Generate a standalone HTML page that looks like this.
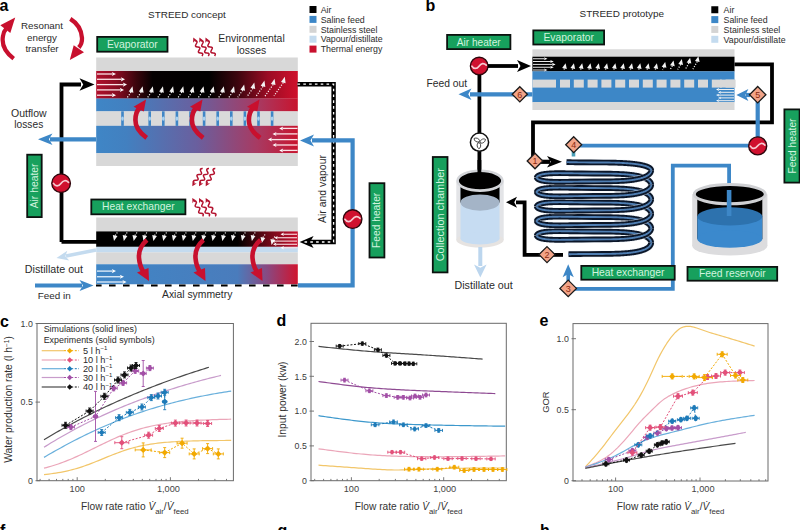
<!DOCTYPE html>
<html><head><meta charset="utf-8"><style>
html,body{margin:0;padding:0;background:#fff;width:800px;height:530px;overflow:hidden}
svg{display:block}
text{font-family:"Liberation Sans", sans-serif}
</style></head><body>
<svg width="800" height="530" viewBox="0 0 800 530" font-family='"Liberation Sans", sans-serif'><defs>
<linearGradient id="airA" x1="96" x2="298" y1="0" y2="0" gradientUnits="userSpaceOnUse">
 <stop offset="0" stop-color="#b0102c"/><stop offset="0.1" stop-color="#8a0c22"/><stop offset="0.2" stop-color="#3a050c"/><stop offset="0.28" stop-color="#050001"/>
 <stop offset="0.56" stop-color="#000"/><stop offset="0.7" stop-color="#3c050e"/><stop offset="0.85" stop-color="#9a0c24"/><stop offset="1" stop-color="#d0102c"/>
</linearGradient>
<linearGradient id="feedA" x1="96" x2="298" y1="0" y2="0" gradientUnits="userSpaceOnUse">
 <stop offset="0" stop-color="#3f86c6"/><stop offset="0.15" stop-color="#4280c0"/><stop offset="0.5" stop-color="#6a5f9e"/>
 <stop offset="0.8" stop-color="#a83a62"/><stop offset="1" stop-color="#c8142e"/>
</linearGradient>
<linearGradient id="airHX" x1="96" x2="298" y1="0" y2="0" gradientUnits="userSpaceOnUse">
 <stop offset="0" stop-color="#000"/><stop offset="0.7" stop-color="#000"/><stop offset="0.85" stop-color="#6a0816"/><stop offset="1" stop-color="#c8102e"/>
</linearGradient>
<linearGradient id="feedHX" x1="96" x2="298" y1="0" y2="0" gradientUnits="userSpaceOnUse">
 <stop offset="0" stop-color="#3f86c6"/><stop offset="0.7" stop-color="#4a7cbc"/><stop offset="0.85" stop-color="#8a4880"/><stop offset="1" stop-color="#d0142e"/>
</linearGradient>
</defs><rect width="800" height="530" fill="#fff"/><text x="-0.5" y="11.3" font-size="16" font-weight="bold" fill="#000">a</text>
<text x="148" y="17.5" font-size="9.95" text-anchor="start" fill="#2b2b2b" font-weight="normal" >STREED concept</text>
<rect x="309.5" y="6.0" width="7" height="7" fill="#000"/>
<text x="320.7" y="12.7" font-size="8.8" text-anchor="start" fill="#2b2b2b" font-weight="normal" >Air</text>
<rect x="309.5" y="15.899999999999999" width="7" height="7" fill="#3d87c7"/>
<text x="320.7" y="22.599999999999998" font-size="8.8" text-anchor="start" fill="#2b2b2b" font-weight="normal" >Saline feed</text>
<rect x="309.5" y="25.8" width="7" height="7" fill="#d4d4d4"/>
<text x="320.7" y="32.5" font-size="8.8" text-anchor="start" fill="#2b2b2b" font-weight="normal" >Stainless steel</text>
<rect x="309.5" y="35.7" width="7" height="7" fill="#c4dbef"/>
<text x="320.7" y="42.400000000000006" font-size="8.8" text-anchor="start" fill="#2b2b2b" font-weight="normal" >Vapour/distillate</text>
<rect x="309.5" y="45.6" width="7" height="7" fill="#c8102e"/>
<text x="320.7" y="52.300000000000004" font-size="8.8" text-anchor="start" fill="#2b2b2b" font-weight="normal" >Thermal energy</text>
<text x="42" y="29" font-size="9.8" text-anchor="middle" fill="#2b2b2b" font-weight="normal" >Resonant</text>
<text x="42" y="40.5" font-size="9.8" text-anchor="middle" fill="#2b2b2b" font-weight="normal" >energy</text>
<text x="42" y="52" font-size="9.8" text-anchor="middle" fill="#2b2b2b" font-weight="normal" >transfer</text>
<path d="M13.7,58.6 C5,52 1.5,44 3,36 C3.6,32 4.5,30.5 6,29" fill="none" stroke="#c8102e" stroke-width="4.2" stroke-linecap="butt"/>
<path d="M15.2,17.4 L0.3,25.3 L10.3,33.1z" fill="#c8102e"/>
<path d="M70.3,18.9 C77,23 81.5,30 82,38 C82.2,42 81,45 78.8,47.5" fill="none" stroke="#c8102e" stroke-width="4.3" stroke-linecap="butt"/>
<path d="M69.8,60 L73.7,45.3 L84,52.2z" fill="#c8102e"/>
<rect x="97.2" y="36.9" width="70.30000000000001" height="14.8" fill="#17a05d" stroke="#0c120f" stroke-width="1.8"/>
<text x="132.35" y="44.3" font-size="10.4" text-anchor="middle" dominant-baseline="central" fill="#d2f3df">Evaporator</text>
<path d="M202.0,56 Q204.18,53.12 200.57,52.97 Q196.96,52.82 199.14,49.94 Q201.31,47.06 197.70,46.91 Q194.09,46.77 196.27,43.88 Q198.45,41.00 194.84,40.85" fill="none" stroke="#b3122e" stroke-width="1.5"/>
<path d="M193.3,37.6 L197.43597269414767,40.732687324529046 L194.77471157537232,40.71893022837365 L193.0965915068452,42.78445995113402z" fill="#b3122e" />
<path d="M208.3,56 Q210.45,53.09 206.83,52.97 Q203.22,52.85 205.37,49.94 Q207.51,47.03 203.90,46.90 Q200.29,46.78 202.43,43.87 Q204.58,40.96 200.97,40.84" fill="none" stroke="#b3122e" stroke-width="1.5"/>
<path d="M199.4,37.6 L203.5635226826392,40.695977853788555 L200.90224399495224,40.70576286596867 L199.24246130390014,42.78605645546124z" fill="#b3122e" />
<path d="M214.6,56 Q216.72,53.06 213.10,52.97 Q209.48,52.87 211.60,49.93 Q213.72,46.99 210.10,46.90 Q206.48,46.80 208.60,43.86 Q210.71,40.93 207.10,40.83" fill="none" stroke="#b3122e" stroke-width="1.5"/>
<path d="M205.5,37.6 L209.69051724400347,40.65934065244615 L207.02942674814565,40.69246727097582 L205.38795408438492,42.7872387368227z" fill="#b3122e" />
<path d="M202.7,168.6 Q199.08,168.44 200.98,171.52 Q202.89,174.60 199.27,174.44 Q195.65,174.28 197.55,177.36 Q199.46,180.44 195.84,180.28 Q192.22,180.12 194.12,183.20" fill="none" stroke="#b3122e" stroke-width="1.5"/>
<path d="M192.3,186.3 L192.5610909152196,181.11812470875748 L194.04775038023863,183.32546329517086 L196.69957676541668,183.54977741169813z" fill="#b3122e" />
<path d="M209.0,168.6 Q205.39,168.48 207.35,171.51 Q209.32,174.54 205.71,174.43 Q202.10,174.31 204.06,177.34 Q206.03,180.37 202.42,180.25 Q198.81,180.14 200.77,183.17" fill="none" stroke="#b3122e" stroke-width="1.5"/>
<path d="M199.0,186.3 L199.17314709714398,181.11444119860255 L200.697038310076,183.29624219116548 L203.35228839639203,183.4755379778387z" fill="#b3122e" />
<path d="M215.29999999999998,168.6 Q211.70,168.53 213.72,171.51 Q215.75,174.49 212.15,174.41 Q208.55,174.34 210.57,177.32 Q212.59,180.30 208.99,180.23 Q205.39,180.16 207.42,183.14" fill="none" stroke="#b3122e" stroke-width="1.5"/>
<path d="M205.70000000000002,186.3 L205.78343353206614,181.11222216688813 L207.3448324893037,183.2673400978463 L210.00278643941041,183.40068476070198z" fill="#b3122e" />
<path d="M202.7,216.4 Q204.62,213.30 200.97,213.35 Q197.33,213.39 199.25,210.29 Q201.17,207.19 197.52,207.24 Q193.87,207.29 195.80,204.19 Q197.72,201.09 194.07,201.13" fill="none" stroke="#b3122e" stroke-width="1.5"/>
<path d="M192.3,198 L196.65281419360068,200.82365164210967 L193.99759753550427,201.00344179358447 L192.47411256774402,203.1855264741156z" fill="#b3122e" />
<path d="M209.0,216.4 Q210.98,213.35 207.34,213.35 Q203.70,213.36 205.69,210.31 Q207.67,207.25 204.03,207.26 Q200.39,207.26 202.38,204.21 Q204.36,201.16 200.72,201.16" fill="none" stroke="#b3122e" stroke-width="1.5"/>
<path d="M199.0,198 L203.30526009690547,200.89564077502604 L200.64742095544852,201.0312545580253 L199.08786245095726,203.1877047130414z" fill="#b3122e" />
<path d="M215.29999999999998,216.4 Q217.34,213.40 213.71,213.36 Q210.08,213.32 212.13,210.32 Q214.17,207.32 210.54,207.28 Q206.91,207.23 208.95,204.23 Q211.00,201.23 207.37,201.19" fill="none" stroke="#b3122e" stroke-width="1.5"/>
<path d="M205.70000000000002,198 L209.9556072615942,200.96813187629306 L207.29585272309782,201.05871771927082 L205.7,203.18844870842912z" fill="#b3122e" />
<text x="251.5" y="42.3" font-size="10.4" text-anchor="middle" fill="#2b2b2b" font-weight="normal" >Environmental</text>
<text x="251.5" y="53.6" font-size="10.4" text-anchor="middle" fill="#2b2b2b" font-weight="normal" >losses</text>
<rect x="96.2" y="57.5" width="201.60000000000002" height="13.7" fill="#d8d8d8"/>
<rect x="96.2" y="71" width="201.60000000000002" height="27.7" fill="url(#airA)"/>
<rect x="96.2" y="98.5" width="201.60000000000002" height="13" fill="url(#feedA)"/>
<rect x="96.2" y="111.3" width="201.60000000000002" height="14.6" fill="#dadada"/>
<rect x="96.2" y="125.8" width="201.60000000000002" height="27.5" fill="url(#feedA)"/>
<rect x="96.2" y="153.2" width="201.60000000000002" height="12.8" fill="#d8d8d8"/>
<rect x="121.2" y="111.3" width="2.6" height="14.6" fill="#3f86c6"/>
<ellipse cx="122.5" cy="118.6" rx="1.3" ry="2.2" fill="#a9d2f2"/>
<rect x="134.79999999999998" y="111.3" width="2.6" height="14.6" fill="#3f86c6"/>
<ellipse cx="136.1" cy="118.6" rx="1.3" ry="2.2" fill="#a9d2f2"/>
<rect x="148.39999999999998" y="111.3" width="2.6" height="14.6" fill="#3f86c6"/>
<ellipse cx="149.7" cy="118.6" rx="1.3" ry="2.2" fill="#a9d2f2"/>
<rect x="162.0" y="111.3" width="2.6" height="14.6" fill="#3f86c6"/>
<ellipse cx="163.3" cy="118.6" rx="1.3" ry="2.2" fill="#a9d2f2"/>
<rect x="175.6" y="111.3" width="2.6" height="14.6" fill="#3f86c6"/>
<ellipse cx="176.9" cy="118.6" rx="1.3" ry="2.2" fill="#a9d2f2"/>
<rect x="189.2" y="111.3" width="2.6" height="14.6" fill="#3f86c6"/>
<ellipse cx="190.5" cy="118.6" rx="1.3" ry="2.2" fill="#a9d2f2"/>
<rect x="202.79999999999998" y="111.3" width="2.6" height="14.6" fill="#3f86c6"/>
<ellipse cx="204.1" cy="118.6" rx="1.3" ry="2.2" fill="#a9d2f2"/>
<rect x="216.39999999999998" y="111.3" width="2.6" height="14.6" fill="#3f86c6"/>
<ellipse cx="217.7" cy="118.6" rx="1.3" ry="2.2" fill="#a9d2f2"/>
<rect x="230.0" y="111.3" width="2.6" height="14.6" fill="#3f86c6"/>
<ellipse cx="231.3" cy="118.6" rx="1.3" ry="2.2" fill="#a9d2f2"/>
<rect x="243.59999999999997" y="111.3" width="2.6" height="14.6" fill="#3f86c6"/>
<ellipse cx="244.89999999999998" cy="118.6" rx="1.3" ry="2.2" fill="#a9d2f2"/>
<rect x="257.2" y="111.3" width="2.6" height="14.6" fill="#3f86c6"/>
<ellipse cx="258.5" cy="118.6" rx="1.3" ry="2.2" fill="#a9d2f2"/>
<rect x="270.8" y="111.3" width="2.6" height="14.6" fill="#3f86c6"/>
<ellipse cx="272.1" cy="118.6" rx="1.3" ry="2.2" fill="#a9d2f2"/>
<path d="M97,74 L112.64,74" stroke="#fbe3e7" stroke-width="1.3"/>
<path d="M116,74 L111.8,76.1 L112.85,74.0 L111.8,71.9z" fill="#fff" />
<path d="M97,79.3 L121.64,79.3" stroke="#fbe3e7" stroke-width="1.3"/>
<path d="M125,79.3 L120.8,81.39999999999999 L121.85,79.3 L120.8,77.2z" fill="#fff" />
<path d="M97,84.6 L123.64,84.6" stroke="#fbe3e7" stroke-width="1.3"/>
<path d="M127,84.6 L122.8,86.69999999999999 L123.85,84.6 L122.8,82.5z" fill="#fff" />
<path d="M97,89.9 L120.64,89.9" stroke="#fbe3e7" stroke-width="1.3"/>
<path d="M124,89.9 L119.8,92.0 L120.85,89.9 L119.8,87.80000000000001z" fill="#fff" />
<path d="M97,95.2 L112.64,95.2" stroke="#fbe3e7" stroke-width="1.3"/>
<path d="M116,95.2 L111.8,97.3 L112.85,95.2 L111.8,93.10000000000001z" fill="#fff" />
<g transform="translate(132.5 86.3) rotate(14)"><path d="M0,0 L-2.4,6 L2.4,6z" fill="#f3f3f3"/></g>
<path d="M131.05,92.12 L127.21,97.61" stroke="#fff" stroke-width="1.2" stroke-dasharray="1.1,1.5"/>
<g transform="translate(142.65 86.3) rotate(14)"><path d="M0,0 L-2.4,6 L2.4,6z" fill="#f3f3f3"/></g>
<path d="M141.20,92.12 L137.36,97.61" stroke="#fff" stroke-width="1.2" stroke-dasharray="1.1,1.5"/>
<g transform="translate(152.8 86.3) rotate(14)"><path d="M0,0 L-2.4,6 L2.4,6z" fill="#f3f3f3"/></g>
<path d="M151.35,92.12 L147.51,97.61" stroke="#fff" stroke-width="1.2" stroke-dasharray="1.1,1.5"/>
<g transform="translate(162.95 86.3) rotate(14)"><path d="M0,0 L-2.4,6 L2.4,6z" fill="#f3f3f3"/></g>
<path d="M161.50,92.12 L157.66,97.61" stroke="#fff" stroke-width="1.2" stroke-dasharray="1.1,1.5"/>
<g transform="translate(173.1 86.3) rotate(14)"><path d="M0,0 L-2.4,6 L2.4,6z" fill="#f3f3f3"/></g>
<path d="M171.65,92.12 L167.81,97.61" stroke="#fff" stroke-width="1.2" stroke-dasharray="1.1,1.5"/>
<g transform="translate(183.25 86.3) rotate(14)"><path d="M0,0 L-2.4,6 L2.4,6z" fill="#f3f3f3"/></g>
<path d="M181.80,92.12 L177.96,97.61" stroke="#fff" stroke-width="1.2" stroke-dasharray="1.1,1.5"/>
<g transform="translate(193.4 86.3) rotate(14)"><path d="M0,0 L-2.4,6 L2.4,6z" fill="#f3f3f3"/></g>
<path d="M191.95,92.12 L188.11,97.61" stroke="#fff" stroke-width="1.2" stroke-dasharray="1.1,1.5"/>
<g transform="translate(203.55 86.3) rotate(14)"><path d="M0,0 L-2.4,6 L2.4,6z" fill="#f3f3f3"/></g>
<path d="M202.10,92.12 L198.26,97.61" stroke="#fff" stroke-width="1.2" stroke-dasharray="1.1,1.5"/>
<g transform="translate(213.7 86.3) rotate(14)"><path d="M0,0 L-2.4,6 L2.4,6z" fill="#f3f3f3"/></g>
<path d="M212.25,92.12 L208.41,97.61" stroke="#fff" stroke-width="1.2" stroke-dasharray="1.1,1.5"/>
<g transform="translate(223.85000000000002 86.3) rotate(14)"><path d="M0,0 L-2.4,6 L2.4,6z" fill="#f3f3f3"/></g>
<path d="M222.40,92.12 L218.56,97.61" stroke="#fff" stroke-width="1.2" stroke-dasharray="1.1,1.5"/>
<g transform="translate(234.0 86.3) rotate(14)"><path d="M0,0 L-2.4,6 L2.4,6z" fill="#f3f3f3"/></g>
<path d="M232.55,92.12 L228.71,97.61" stroke="#fff" stroke-width="1.2" stroke-dasharray="1.1,1.5"/>
<g transform="translate(244.15 84.39999999999999) rotate(14)"><path d="M0,0 L-2.4,6 L2.4,6z" fill="#f3f3f3"/></g>
<path d="M242.70,90.22 L237.77,97.27" stroke="#fff" stroke-width="1.2" stroke-dasharray="1.1,1.5"/>
<g transform="translate(254.3 82.5) rotate(14)"><path d="M0,0 L-2.4,6 L2.4,6z" fill="#f3f3f3"/></g>
<path d="M252.85,88.32 L246.83,96.92" stroke="#fff" stroke-width="1.2" stroke-dasharray="1.1,1.5"/>
<g transform="translate(264.45000000000005 80.6) rotate(14)"><path d="M0,0 L-2.4,6 L2.4,6z" fill="#f3f3f3"/></g>
<path d="M263.00,86.42 L255.89,96.58" stroke="#fff" stroke-width="1.2" stroke-dasharray="1.1,1.5"/>
<g transform="translate(274.6 78.7) rotate(14)"><path d="M0,0 L-2.4,6 L2.4,6z" fill="#f3f3f3"/></g>
<path d="M273.15,84.52 L264.95,96.24" stroke="#fff" stroke-width="1.2" stroke-dasharray="1.1,1.5"/>
<g transform="translate(284.75 76.8) rotate(14)"><path d="M0,0 L-2.4,6 L2.4,6z" fill="#f3f3f3"/></g>
<path d="M283.30,82.62 L274.01,95.89" stroke="#fff" stroke-width="1.2" stroke-dasharray="1.1,1.5"/>
<path d="M297.5,128.4 L282.4,128.4" stroke="#fbe3e7" stroke-width="1.3"/>
<path d="M279.2,128.4 L283.2,126.4 L282.2,128.4 L283.2,130.4z" fill="#fff" />
<path d="M297.5,133.9 L275.7,133.9" stroke="#fbe3e7" stroke-width="1.3"/>
<path d="M272.5,133.9 L276.5,131.9 L275.5,133.9 L276.5,135.9z" fill="#fff" />
<path d="M297.5,139.6 L271.2,139.6" stroke="#fbe3e7" stroke-width="1.3"/>
<path d="M268,139.6 L272.0,137.6 L271.0,139.6 L272.0,141.6z" fill="#fff" />
<path d="M297.5,145 L275.7,145" stroke="#fbe3e7" stroke-width="1.3"/>
<path d="M272.5,145 L276.5,143.0 L275.5,145.0 L276.5,147.0z" fill="#fff" />
<path d="M297.5,150.4 L282.4,150.4" stroke="#fbe3e7" stroke-width="1.3"/>
<path d="M279.2,150.4 L283.2,148.4 L282.2,150.4 L283.2,152.4z" fill="#fff" />
<path d="M146.7,137.9 C140,133 135.2,127 135.4,120 C135.5,114 137,110.5 139.5,108" fill="none" stroke="#c8102e" stroke-width="4.6"/>
<path d="M146,99.5 L133.5,106.8 L143.8,111.5z" fill="#c8102e"/>
<path d="M203.2,137.9 C196.5,133 191.7,127 191.9,120 C192.0,114 193.5,110.5 196.0,108" fill="none" stroke="#c8102e" stroke-width="4.6"/>
<path d="M202.5,99.5 L190.0,106.8 L200.3,111.5z" fill="#c8102e"/>
<path d="M260.2,137.9 C253.5,133 248.7,127 248.9,120 C249.0,114 250.5,110.5 253.0,108" fill="none" stroke="#c8102e" stroke-width="4.6"/>
<path d="M259.5,99.5 L247.0,106.8 L257.3,111.5z" fill="#c8102e"/>
<path d="M61.5,242 L61.5,84.5 L81,84.5" fill="none" stroke="#000" stroke-width="3.8" stroke-linejoin="miter" />
<path d="M94.5,84.5 L79.5,90.7 L83.25,84.5 L79.5,78.3z" fill="#000" />
<text x="28.8" y="116.6" font-size="10.5" text-anchor="middle" fill="#2b2b2b" font-weight="normal" >Outflow</text>
<text x="28.8" y="127.6" font-size="10.2" text-anchor="middle" fill="#2b2b2b" font-weight="normal" >losses</text>
<path d="M96,139.3 L50,139.3" fill="none" stroke="#3d87c7" stroke-width="4.2" stroke-linejoin="miter" />
<path d="M38,139.3 L52.5,133.5 L48.875,139.3 L52.5,145.10000000000002z" fill="#3d87c7" />
<circle cx="61.1" cy="183.2" r="9.3" fill="#d0112f" stroke="#2e060c" stroke-width="1.4"/>
<path d="M53.47113402061856,183.4061855670103 C55.53298969072165,186.70515463917525 58.62577319587629,186.49896907216493 60.89381443298969,183.4061855670103 S65.84226804123712,179.69484536082473 68.52268041237113,182.37525773195875" fill="none" stroke="#f6cbd2" stroke-width="1.7" stroke-linecap="round"/>
<rect x="27.2" y="154.70000000000002" width="14.5" height="62.39999999999999" fill="#17a05d" stroke="#0c120f" stroke-width="1.8"/>
<text x="34.45" y="185.9" font-size="10.35" text-anchor="middle" dominant-baseline="central" fill="#d2f3df" transform="rotate(-90 34.45 185.9)">Air heater</text>
<rect x="91.30000000000001" y="199.5" width="94.10000000000001" height="14.799999999999994" fill="#17a05d" stroke="#0c120f" stroke-width="1.8"/>
<text x="138.35000000000002" y="206.89999999999998" font-size="10.3" text-anchor="middle" dominant-baseline="central" fill="#d2f3df">Heat exchanger</text>
<rect x="96.2" y="217.5" width="201.60000000000002" height="13.9" fill="#d8d8d8"/>
<rect x="96.2" y="231.4" width="201.60000000000002" height="15.5" fill="url(#airHX)"/>
<rect x="96.2" y="246.8" width="201.60000000000002" height="5.7" fill="#c4dbef"/>
<rect x="96.2" y="252.4" width="201.60000000000002" height="11.9" fill="#d8d8d8"/>
<rect x="96.2" y="264.25" width="201.60000000000002" height="20" fill="url(#feedHX)"/>
<path d="M61.5,241.8 L97,241.8" fill="none" stroke="#000" stroke-width="3.8" stroke-linejoin="miter" />
<path d="M97,271.1 L112.64,271.1" stroke="#e6f0fa" stroke-width="1.3"/>
<path d="M116,271.1 L111.8,273.20000000000005 L112.85,271.1 L111.8,269.0z" fill="#fff" />
<path d="M97,276.75 L120.64,276.75" stroke="#e6f0fa" stroke-width="1.3"/>
<path d="M124,276.75 L119.8,278.85 L120.85,276.75 L119.8,274.65z" fill="#fff" />
<path d="M97,282 L123.24,282" stroke="#e6f0fa" stroke-width="1.3"/>
<path d="M126.6,282 L122.39999999999999,284.1 L123.44999999999999,282.0 L122.39999999999999,279.9z" fill="#fff" />
<g transform="translate(114.0 241) rotate(12)"><path d="M0,0 L-2.4,-5.6 L2.4,-5.6z" fill="#f3f3f3"/></g>
<path d="M115.16,235.52 L118.03,231.43" stroke="#fff" stroke-width="1.2" stroke-dasharray="1.1,1.5"/>
<g transform="translate(123.85 241) rotate(12)"><path d="M0,0 L-2.4,-5.6 L2.4,-5.6z" fill="#f3f3f3"/></g>
<path d="M125.01,235.52 L127.88,231.43" stroke="#fff" stroke-width="1.2" stroke-dasharray="1.1,1.5"/>
<g transform="translate(133.7 241) rotate(12)"><path d="M0,0 L-2.4,-5.6 L2.4,-5.6z" fill="#f3f3f3"/></g>
<path d="M134.86,235.52 L137.73,231.43" stroke="#fff" stroke-width="1.2" stroke-dasharray="1.1,1.5"/>
<g transform="translate(143.55 241) rotate(12)"><path d="M0,0 L-2.4,-5.6 L2.4,-5.6z" fill="#f3f3f3"/></g>
<path d="M144.71,235.52 L147.58,231.43" stroke="#fff" stroke-width="1.2" stroke-dasharray="1.1,1.5"/>
<g transform="translate(153.4 241) rotate(12)"><path d="M0,0 L-2.4,-5.6 L2.4,-5.6z" fill="#f3f3f3"/></g>
<path d="M154.56,235.52 L157.43,231.43" stroke="#fff" stroke-width="1.2" stroke-dasharray="1.1,1.5"/>
<g transform="translate(163.25 241) rotate(12)"><path d="M0,0 L-2.4,-5.6 L2.4,-5.6z" fill="#f3f3f3"/></g>
<path d="M164.41,235.52 L167.28,231.43" stroke="#fff" stroke-width="1.2" stroke-dasharray="1.1,1.5"/>
<g transform="translate(173.1 241) rotate(12)"><path d="M0,0 L-2.4,-5.6 L2.4,-5.6z" fill="#f3f3f3"/></g>
<path d="M174.26,235.52 L177.13,231.43" stroke="#fff" stroke-width="1.2" stroke-dasharray="1.1,1.5"/>
<g transform="translate(182.95 241) rotate(12)"><path d="M0,0 L-2.4,-5.6 L2.4,-5.6z" fill="#f3f3f3"/></g>
<path d="M184.11,235.52 L186.98,231.43" stroke="#fff" stroke-width="1.2" stroke-dasharray="1.1,1.5"/>
<g transform="translate(192.8 241) rotate(12)"><path d="M0,0 L-2.4,-5.6 L2.4,-5.6z" fill="#f3f3f3"/></g>
<path d="M193.96,235.52 L196.83,231.43" stroke="#fff" stroke-width="1.2" stroke-dasharray="1.1,1.5"/>
<g transform="translate(202.64999999999998 241) rotate(12)"><path d="M0,0 L-2.4,-5.6 L2.4,-5.6z" fill="#f3f3f3"/></g>
<path d="M203.81,235.52 L206.68,231.43" stroke="#fff" stroke-width="1.2" stroke-dasharray="1.1,1.5"/>
<g transform="translate(212.5 241) rotate(12)"><path d="M0,0 L-2.4,-5.6 L2.4,-5.6z" fill="#f3f3f3"/></g>
<path d="M213.66,235.52 L216.53,231.43" stroke="#fff" stroke-width="1.2" stroke-dasharray="1.1,1.5"/>
<g transform="translate(222.35 241) rotate(12)"><path d="M0,0 L-2.4,-5.6 L2.4,-5.6z" fill="#f3f3f3"/></g>
<path d="M223.51,235.52 L226.38,231.43" stroke="#fff" stroke-width="1.2" stroke-dasharray="1.1,1.5"/>
<g transform="translate(232.2 241) rotate(12)"><path d="M0,0 L-2.4,-5.6 L2.4,-5.6z" fill="#f3f3f3"/></g>
<path d="M233.36,235.52 L236.23,231.43" stroke="#fff" stroke-width="1.2" stroke-dasharray="1.1,1.5"/>
<g transform="translate(242.04999999999998 241) rotate(12)"><path d="M0,0 L-2.4,-5.6 L2.4,-5.6z" fill="#f3f3f3"/></g>
<path d="M243.21,235.52 L246.08,231.43" stroke="#fff" stroke-width="1.2" stroke-dasharray="1.1,1.5"/>
<g transform="translate(251.9 241) rotate(12)"><path d="M0,0 L-2.4,-5.6 L2.4,-5.6z" fill="#f3f3f3"/></g>
<path d="M253.06,235.52 L255.93,231.43" stroke="#fff" stroke-width="1.2" stroke-dasharray="1.1,1.5"/>
<g transform="translate(261.75 243) rotate(12)"><path d="M0,0 L-2.4,-5.6 L2.4,-5.6z" fill="#f3f3f3"/></g>
<path d="M262.91,237.52 L265.78,233.43" stroke="#fff" stroke-width="1.2" stroke-dasharray="1.1,1.5"/>
<g transform="translate(271.6 245) rotate(12)"><path d="M0,0 L-2.4,-5.6 L2.4,-5.6z" fill="#f3f3f3"/></g>
<path d="M272.76,239.52 L275.63,235.43" stroke="#fff" stroke-width="1.2" stroke-dasharray="1.1,1.5"/>
<path d="M297,234.25 L283.3,234.25" stroke="#fbe3e7" stroke-width="1.1"/>
<path d="M280.5,234.25 L284.0,232.55 L283.125,234.25 L284.0,235.95z" fill="#fff" />
<path d="M297,237.75 L277.05,237.75" stroke="#fbe3e7" stroke-width="1.1"/>
<path d="M274.25,237.75 L277.75,236.05 L276.875,237.75 L277.75,239.45z" fill="#fff" />
<path d="M297,241.1 L274.55,241.1" stroke="#fbe3e7" stroke-width="1.1"/>
<path d="M271.75,241.1 L275.25,239.4 L274.375,241.1 L275.25,242.79999999999998z" fill="#fff" />
<path d="M297,244.25 L275.8,244.25" stroke="#fbe3e7" stroke-width="1.1"/>
<path d="M273,244.25 L276.5,242.55 L275.625,244.25 L276.5,245.95z" fill="#fff" />
<path d="M297,247.75 L283.3,247.75" stroke="#fbe3e7" stroke-width="1.1"/>
<path d="M280.5,247.75 L284.0,246.05 L283.125,247.75 L284.0,249.45z" fill="#fff" />
<path d="M147,240 C141,245 138.5,251 139,258 C139.5,264 141,268 143,271" fill="none" stroke="#c8102e" stroke-width="4.6"/>
<path d="M149,281 L137,272.5 L148.5,268z" fill="#c8102e"/>
<path d="M203.5,240 C197.5,245 195.0,251 195.5,258 C196.0,264 197.5,268 199.5,271" fill="none" stroke="#c8102e" stroke-width="4.6"/>
<path d="M205.5,281 L193.5,272.5 L205.0,268z" fill="#c8102e"/>
<path d="M260.5,240 C254.5,245 252.0,251 252.5,258 C253.0,264 254.5,268 256.5,271" fill="none" stroke="#c8102e" stroke-width="4.6"/>
<path d="M262.5,281 L250.5,272.5 L262.0,268z" fill="#c8102e"/>
<path d="M96,285.6 L298,285.6" stroke="#000" stroke-width="2" stroke-dasharray="6.6,7.4" stroke-dashoffset="1"/>
<text x="197.2" y="297.5" font-size="10.4" text-anchor="middle" fill="#2b2b2b" font-weight="normal" >Axial symmetry</text>
<path d="M96,250 L66,256" stroke="#c4dbef" stroke-width="3.5"/>
<path d="M56.5,258 L67.28638743260012,250.7437029998872 L65.32522608121828,256.23495478375634 L69.24754878398196,260.5495097567964z" fill="#c4dbef" />
<text x="24.8" y="272.8" font-size="10.7" text-anchor="start" fill="#2b2b2b" font-weight="normal" >Distillate out</text>
<path d="M35,285.5 L82,285.5" fill="none" stroke="#3d87c7" stroke-width="4.2" stroke-linejoin="miter" />
<path d="M93.5,285.5 L79.5,291.0 L83.0,285.5 L79.5,280.0z" fill="#3d87c7" />
<text x="37.8" y="299.3" font-size="9.9" text-anchor="start" fill="#2b2b2b" font-weight="normal" >Feed in</text>
<path d="M297.5,84.2 L333.6,84.2 L333.6,242 L308,242" fill="none" stroke="#000" stroke-width="4.4" stroke-linejoin="miter" />
<path d="M299.6,242 L313.6,236.0 L310.1,242.0 L313.6,248.0z" fill="#000" />
<path d="M297.5,84.2 L333.6,84.2 L333.6,242 L303,242" fill="none" stroke="#fff" stroke-width="1.3" stroke-linejoin="miter" stroke-dasharray="2.6,3.2"/>
<text x="325.5" y="189" font-size="10.45" text-anchor="middle" fill="#2b2b2b" font-weight="normal" transform="rotate(-90 325.5 189)" >Air and vapour</text>
<path d="M298,285.4 L352.6,285.4 L352.6,140.4 L312,140.4" fill="none" stroke="#3d87c7" stroke-width="4.2" stroke-linejoin="miter" />
<path d="M300,140.4 L314.0,134.4 L310.5,140.4 L314.0,146.4z" fill="#3d87c7" />
<circle cx="352.6" cy="219.1" r="9.3" fill="#d0112f" stroke="#2e060c" stroke-width="1.4"/>
<path d="M344.9711340206186,219.30618556701032 C347.03298969072165,222.60515463917525 350.1257731958763,222.39896907216493 352.3938144329897,219.30618556701032 S357.34226804123716,215.59484536082473 360.02268041237113,218.27525773195876" fill="none" stroke="#f6cbd2" stroke-width="1.7" stroke-linecap="round"/>
<rect x="369.5" y="183.20000000000002" width="14.899999999999988" height="74.29999999999997" fill="#17a05d" stroke="#0c120f" stroke-width="1.8"/>
<text x="376.95000000000005" y="220.35" font-size="10.25" text-anchor="middle" dominant-baseline="central" fill="#d2f3df" transform="rotate(-90 376.95000000000005 220.35)">Feed heater</text>
<text x="425.5" y="11.3" font-size="16" font-weight="bold" fill="#000">b</text>
<text x="579.6" y="17.2" font-size="9.95" text-anchor="start" fill="#2b2b2b" font-weight="normal" >STREED prototype</text>
<rect x="711.3" y="6.25" width="7" height="7" fill="#000"/>
<text x="723.6" y="12.95" font-size="8.8" text-anchor="start" fill="#2b2b2b" font-weight="normal" >Air</text>
<rect x="711.3" y="16.1" width="7" height="7" fill="#3d87c7"/>
<text x="723.6" y="22.8" font-size="8.8" text-anchor="start" fill="#2b2b2b" font-weight="normal" >Saline feed</text>
<rect x="711.3" y="25.95" width="7" height="7" fill="#d4d4d4"/>
<text x="723.6" y="32.65" font-size="8.8" text-anchor="start" fill="#2b2b2b" font-weight="normal" >Stainless steel</text>
<rect x="711.3" y="35.8" width="7" height="7" fill="#c4dbef"/>
<text x="723.6" y="42.5" font-size="8.8" text-anchor="start" fill="#2b2b2b" font-weight="normal" >Vapour/distillate</text>
<rect x="447.09999999999997" y="34.9" width="63.300000000000026" height="14.2" fill="#17a05d" stroke="#0c120f" stroke-width="1.8"/>
<text x="478.75" y="42.0" font-size="10.1" text-anchor="middle" dominant-baseline="central" fill="#d2f3df">Air heater</text>
<rect x="533.3" y="30.4" width="70.80000000000003" height="14.099999999999998" fill="#17a05d" stroke="#0c120f" stroke-width="1.8"/>
<text x="568.7" y="37.45" font-size="10.35" text-anchor="middle" dominant-baseline="central" fill="#d2f3df">Evaporator</text>
<rect x="532.4" y="49.3" width="202.10000000000002" height="7.5" fill="#d8d8d8"/>
<rect x="532.4" y="56.7" width="202.10000000000002" height="14.7" fill="#000"/>
<rect x="532.4" y="71.3" width="202.10000000000002" height="7.8" fill="#3d87c7"/>
<rect x="532.4" y="79" width="202.10000000000002" height="9.1" fill="#3d87c7"/>
<rect x="532.4" y="79.6" width="23.600000000000023" height="8" fill="#d8d8d8"/>
<rect x="560.0" y="79.6" width="10" height="8" fill="#d8d8d8"/>
<rect x="573.8" y="79.6" width="10" height="8" fill="#d8d8d8"/>
<rect x="587.6" y="79.6" width="10" height="8" fill="#d8d8d8"/>
<rect x="601.4" y="79.6" width="10" height="8" fill="#d8d8d8"/>
<rect x="615.2" y="79.6" width="10" height="8" fill="#d8d8d8"/>
<rect x="629.0" y="79.6" width="10" height="8" fill="#d8d8d8"/>
<rect x="642.8" y="79.6" width="10" height="8" fill="#d8d8d8"/>
<rect x="656.6" y="79.6" width="10" height="8" fill="#d8d8d8"/>
<rect x="670.4" y="79.6" width="10" height="8" fill="#d8d8d8"/>
<rect x="684.2" y="79.6" width="10" height="8" fill="#d8d8d8"/>
<rect x="698.0" y="79.6" width="10" height="8" fill="#d8d8d8"/>
<rect x="711.8" y="79.6" width="10" height="8" fill="#d8d8d8"/>
<rect x="725.6" y="79.6" width="10" height="8" fill="#d8d8d8"/>
<rect x="720.0" y="79.6" width="14" height="8" fill="#d8d8d8"/>
<rect x="532.4" y="88" width="202.10000000000002" height="14.2" fill="#3d87c7"/>
<rect x="532.4" y="102" width="202.10000000000002" height="8" fill="#d8d8d8"/>
<path d="M533,58.75 L544.62,58.75" stroke="#e8e8e8" stroke-width="1.0"/>
<path d="M547.5,58.75 L543.9,60.35 L544.8,58.75 L543.9,57.15z" fill="#fff" />
<path d="M533,61.5 L550.87,61.5" stroke="#e8e8e8" stroke-width="1.0"/>
<path d="M553.75,61.5 L550.15,63.1 L551.05,61.5 L550.15,59.9z" fill="#fff" />
<path d="M533,64.4 L552.72,64.4" stroke="#e8e8e8" stroke-width="1.0"/>
<path d="M555.6,64.4 L552.0,66.0 L552.9,64.4 L552.0,62.800000000000004z" fill="#fff" />
<path d="M533,67.25 L550.87,67.25" stroke="#e8e8e8" stroke-width="1.0"/>
<path d="M553.75,67.25 L550.15,68.85 L551.05,67.25 L550.15,65.65z" fill="#fff" />
<path d="M533,70 L544.62,70" stroke="#e8e8e8" stroke-width="1.0"/>
<path d="M547.5,70 L543.9,71.6 L544.8,70.0 L543.9,68.4z" fill="#fff" />
<g transform="translate(565.6 63.3) rotate(12)"><path d="M0,0 L-2.4,5.4 L2.4,5.4z" fill="#f3f3f3"/></g>
<path d="M564.48,68.58 L563.63,70.05" stroke="#fff" stroke-width="1.2" stroke-dasharray="1.1,1.5"/>
<g transform="translate(573.9 63.3) rotate(12)"><path d="M0,0 L-2.4,5.4 L2.4,5.4z" fill="#f3f3f3"/></g>
<path d="M572.78,68.58 L571.93,70.05" stroke="#fff" stroke-width="1.2" stroke-dasharray="1.1,1.5"/>
<g transform="translate(582.2 63.3) rotate(12)"><path d="M0,0 L-2.4,5.4 L2.4,5.4z" fill="#f3f3f3"/></g>
<path d="M581.08,68.58 L580.23,70.05" stroke="#fff" stroke-width="1.2" stroke-dasharray="1.1,1.5"/>
<g transform="translate(590.5 63.3) rotate(12)"><path d="M0,0 L-2.4,5.4 L2.4,5.4z" fill="#f3f3f3"/></g>
<path d="M589.38,68.58 L588.53,70.05" stroke="#fff" stroke-width="1.2" stroke-dasharray="1.1,1.5"/>
<g transform="translate(598.8000000000001 63.3) rotate(12)"><path d="M0,0 L-2.4,5.4 L2.4,5.4z" fill="#f3f3f3"/></g>
<path d="M597.68,68.58 L596.83,70.05" stroke="#fff" stroke-width="1.2" stroke-dasharray="1.1,1.5"/>
<g transform="translate(607.1 63.3) rotate(12)"><path d="M0,0 L-2.4,5.4 L2.4,5.4z" fill="#f3f3f3"/></g>
<path d="M605.98,68.58 L605.13,70.05" stroke="#fff" stroke-width="1.2" stroke-dasharray="1.1,1.5"/>
<g transform="translate(615.4 63.3) rotate(12)"><path d="M0,0 L-2.4,5.4 L2.4,5.4z" fill="#f3f3f3"/></g>
<path d="M614.28,68.58 L613.43,70.05" stroke="#fff" stroke-width="1.2" stroke-dasharray="1.1,1.5"/>
<g transform="translate(623.7 63.3) rotate(12)"><path d="M0,0 L-2.4,5.4 L2.4,5.4z" fill="#f3f3f3"/></g>
<path d="M622.58,68.58 L621.73,70.05" stroke="#fff" stroke-width="1.2" stroke-dasharray="1.1,1.5"/>
<g transform="translate(632.0 63.3) rotate(12)"><path d="M0,0 L-2.4,5.4 L2.4,5.4z" fill="#f3f3f3"/></g>
<path d="M630.88,68.58 L630.03,70.05" stroke="#fff" stroke-width="1.2" stroke-dasharray="1.1,1.5"/>
<g transform="translate(640.3000000000001 63.3) rotate(12)"><path d="M0,0 L-2.4,5.4 L2.4,5.4z" fill="#f3f3f3"/></g>
<path d="M639.18,68.58 L638.33,70.05" stroke="#fff" stroke-width="1.2" stroke-dasharray="1.1,1.5"/>
<g transform="translate(648.6 63.3) rotate(12)"><path d="M0,0 L-2.4,5.4 L2.4,5.4z" fill="#f3f3f3"/></g>
<path d="M647.48,68.58 L646.63,70.05" stroke="#fff" stroke-width="1.2" stroke-dasharray="1.1,1.5"/>
<g transform="translate(656.9000000000001 63.3) rotate(12)"><path d="M0,0 L-2.4,5.4 L2.4,5.4z" fill="#f3f3f3"/></g>
<path d="M655.78,68.58 L654.93,70.05" stroke="#fff" stroke-width="1.2" stroke-dasharray="1.1,1.5"/>
<g transform="translate(665.2 61.9) rotate(12)"><path d="M0,0 L-2.4,5.4 L2.4,5.4z" fill="#f3f3f3"/></g>
<path d="M664.08,67.18 L662.53,69.87" stroke="#fff" stroke-width="1.2" stroke-dasharray="1.1,1.5"/>
<g transform="translate(673.5 60.5) rotate(12)"><path d="M0,0 L-2.4,5.4 L2.4,5.4z" fill="#f3f3f3"/></g>
<path d="M672.38,65.78 L670.13,69.68" stroke="#fff" stroke-width="1.2" stroke-dasharray="1.1,1.5"/>
<g transform="translate(681.8000000000001 59.099999999999994) rotate(12)"><path d="M0,0 L-2.4,5.4 L2.4,5.4z" fill="#f3f3f3"/></g>
<path d="M680.68,64.38 L677.73,69.49" stroke="#fff" stroke-width="1.2" stroke-dasharray="1.1,1.5"/>
<g transform="translate(690.1 57.699999999999996) rotate(12)"><path d="M0,0 L-2.4,5.4 L2.4,5.4z" fill="#f3f3f3"/></g>
<path d="M688.98,62.98 L685.33,69.30" stroke="#fff" stroke-width="1.2" stroke-dasharray="1.1,1.5"/>
<g transform="translate(698.4000000000001 56.3) rotate(12)"><path d="M0,0 L-2.4,5.4 L2.4,5.4z" fill="#f3f3f3"/></g>
<path d="M697.28,61.58 L692.93,69.12" stroke="#fff" stroke-width="1.2" stroke-dasharray="1.1,1.5"/>
<path d="M734,89.5 L718.56,89.5" stroke="#f0f0f0" stroke-width="1.0"/>
<path d="M716,89.5 L719.2,88.1 L718.4000000000001,89.5 L719.2,90.9z" fill="#fff" />
<path d="M734,92.3 L720.56,92.3" stroke="#f0f0f0" stroke-width="1.0"/>
<path d="M718,92.3 L721.2,90.89999999999999 L720.4000000000001,92.3 L721.2,93.7z" fill="#fff" />
<path d="M734,95.1 L718.56,95.1" stroke="#f0f0f0" stroke-width="1.0"/>
<path d="M716,95.1 L719.2,93.69999999999999 L718.4000000000001,95.1 L719.2,96.5z" fill="#fff" />
<path d="M734,97.9 L720.56,97.9" stroke="#f0f0f0" stroke-width="1.0"/>
<path d="M718,97.9 L721.2,96.5 L720.4000000000001,97.9 L721.2,99.30000000000001z" fill="#fff" />
<path d="M734,100.7 L718.56,100.7" stroke="#f0f0f0" stroke-width="1.0"/>
<path d="M716,100.7 L719.2,99.3 L718.4000000000001,100.7 L719.2,102.10000000000001z" fill="#fff" />
<circle cx="479.2" cy="66" r="8.8" fill="#d0112f" stroke="#2e060c" stroke-width="1.4"/>
<path d="M471.9525773195876,66.19587628865979 C473.91134020618557,69.3298969072165 476.84948453608246,69.1340206185567 479.0041237113402,66.19587628865979 S483.70515463917525,62.670103092783506 486.2515463917526,65.21649484536083" fill="none" stroke="#f6cbd2" stroke-width="1.7" stroke-linecap="round"/>
<path d="M488,66 L518,66" fill="none" stroke="#000" stroke-width="3.8" stroke-linejoin="miter" />
<path d="M531,66 L517.0,72.0 L520.5,66.0 L517.0,60.0z" fill="#000" />
<path d="M479.4,75 L479.4,172" fill="none" stroke="#000" stroke-width="3.8" stroke-linejoin="miter" />
<circle cx="479.5" cy="142.2" r="9.100000000000001" fill="#fff" stroke="#111" stroke-width="1.5"/>
<path d="M0.6,-0.4 C1.8,-3.2 5.2,-4.4 7.2,-2.6 C6.6,0.2 4,1.9 1.2,1.2 Z" fill="none" stroke="#1a1a1a" stroke-width="0.85" transform="translate(479.5 142.2) rotate(-4.6) scale(0.86)"/>
<path d="M0.6,-0.4 C1.8,-3.2 5.2,-4.4 7.2,-2.6 C6.6,0.2 4,1.9 1.2,1.2 Z" fill="none" stroke="#1a1a1a" stroke-width="0.85" transform="translate(479.5 142.2) rotate(115.4) scale(0.86)"/>
<path d="M0.6,-0.4 C1.8,-3.2 5.2,-4.4 7.2,-2.6 C6.6,0.2 4,1.9 1.2,1.2 Z" fill="none" stroke="#1a1a1a" stroke-width="0.85" transform="translate(479.5 142.2) rotate(235.4) scale(0.86)"/>
<text x="426.4" y="86.8" font-size="10.3" text-anchor="start" fill="#2b2b2b" font-weight="normal" >Feed out</text>
<path d="M532.4,94.3 L470,94.3" fill="none" stroke="#3d87c7" stroke-width="4.2" stroke-linejoin="miter" />
<path d="M458.5,94.3 L471.5,88.5 L468.25,94.3 L471.5,100.1z" fill="#3d87c7" />
<path d="M519.8,86.7 L527.4,94.3 L519.8,101.89999999999999 L512.1999999999999,94.3z" fill="#f2a488" stroke="#1a1a1a" stroke-width="1.3"/>
<text x="519.8" y="97.6" font-size="9" text-anchor="middle" fill="#8a2a10">6</text>
<path d="M734.5,64.3 L772,64.3 L772,122.4 L533,122.4 L533,162" fill="none" stroke="#000" stroke-width="3.8" stroke-linejoin="miter" />
<path d="M535,161.8 L550,161.8" fill="none" stroke="#000" stroke-width="4.2" stroke-linejoin="miter" />
<path d="M562,161.8 L547.0,167.60000000000002 L550.75,161.8 L547.0,156.0z" fill="#000" />
<path d="M535,153.2 L542.8,161 L535,168.8 L527.2,161z" fill="#f2a488" stroke="#1a1a1a" stroke-width="1.3"/>
<text x="535" y="164.3" font-size="9" text-anchor="middle" fill="#8a2a10">1</text>
<path d="M757.7,145.9 L757.7,95" fill="none" stroke="#3d87c7" stroke-width="4.2" stroke-linejoin="miter" />
<path d="M750,95 L746,95" fill="none" stroke="#3d87c7" stroke-width="4.2" stroke-linejoin="miter" />
<path d="M736.4,95 L748.4,89.0 L745.4,95.0 L748.4,101.0z" fill="#3d87c7" />
<path d="M757.7,86.5 L765.9000000000001,94.7 L757.7,102.9 L749.5,94.7z" fill="#f2a488" stroke="#1a1a1a" stroke-width="1.3"/>
<text x="757.7" y="98.0" font-size="9" text-anchor="middle" fill="#8a2a10">5</text>
<path d="M757.7,145.6 L573.7,145.6" fill="none" stroke="#3d87c7" stroke-width="3.6" stroke-linejoin="miter" />
<path d="M573.5,150 L573.5,156.5" fill="none" stroke="#4aa0b8" stroke-width="3.6" stroke-linejoin="miter" />
<path d="M573.7,136.7 L581.7,144.7 L573.7,152.7 L565.7,144.7z" fill="#f2a488" stroke="#1a1a1a" stroke-width="1.3"/>
<text x="573.7" y="148.0" font-size="9" text-anchor="middle" fill="#8a2a10">4</text>
<circle cx="757.7" cy="145.9" r="9.0" fill="#d0112f" stroke="#2e060c" stroke-width="1.4"/>
<path d="M750.3000000000001,146.1 C752.3000000000001,149.3 755.3000000000001,149.1 757.5,146.1 S762.3000000000001,142.5 764.9000000000001,145.1" fill="none" stroke="#f6cbd2" stroke-width="1.7" stroke-linecap="round"/>
<rect x="784.4" y="109.4" width="15.2" height="73.2" fill="#17a05d" stroke="#0c120f" stroke-width="1.8"/>
<text x="792.0" y="146.0" font-size="10.2" text-anchor="middle" dominant-baseline="central" fill="#d2f3df" transform="rotate(-90 792.0 146.0)">Feed heater</text>
<path d="M568.2,288.9 L672.8,288.9 L672.8,165.6 L729.1,165.6 L729.1,200" fill="none" stroke="#3d87c7" stroke-width="3.8" stroke-linejoin="miter" />
<path d="M568.2,288.4 L568.2,274" fill="none" stroke="#3d87c7" stroke-width="3.6" stroke-linejoin="miter" />
<path d="M568.2,264.2 L573.8000000000001,277.2 L568.2,273.95 L562.6,277.2z" fill="#3d87c7" />
<path d="M568.2,280.09999999999997 L576.5,288.4 L568.2,296.7 L559.9000000000001,288.4z" fill="#f2a488" stroke="#1a1a1a" stroke-width="1.3"/>
<text x="568.2" y="291.7" font-size="9" text-anchor="middle" fill="#8a2a10">3</text>
<rect x="581.3" y="265.9" width="93.40000000000005" height="13.800000000000022" fill="#17a05d" stroke="#0c120f" stroke-width="1.8"/>
<text x="628.0" y="272.8" font-size="10.3" text-anchor="middle" dominant-baseline="central" fill="#d2f3df">Heat exchanger</text>
<rect x="687.5" y="266.9" width="89.7" height="13.800000000000022" fill="#17a05d" stroke="#0c120f" stroke-width="1.8"/>
<text x="732.35" y="273.8" font-size="10.35" text-anchor="middle" dominant-baseline="central" fill="#d2f3df">Feed reservoir</text>
<rect x="432.79999999999995" y="157.0" width="14.7" height="115.40000000000002" fill="#17a05d" stroke="#0c120f" stroke-width="1.8"/>
<text x="440.15" y="214.7" font-size="10.9" text-anchor="middle" dominant-baseline="central" fill="#d2f3df" transform="rotate(-90 440.15 214.7)">Collection chamber</text>
<text x="454.5" y="289.2" font-size="10.7" text-anchor="start" fill="#2b2b2b" font-weight="normal" >Distillate out</text>
<rect x="456.3" y="180.7" width="47.4" height="59.3" fill="#e3e4e7"/>
<ellipse cx="480" cy="240" rx="23.7" ry="7.5" fill="#e6e3e1"/>
<rect x="460.5" y="181" width="39" height="57.5" fill="#c6dcf2"/>
<ellipse cx="480" cy="238.5" rx="19.5" ry="6" fill="#c6dcf2"/>
<rect x="460.5" y="181" width="39" height="21.6" fill="#000"/>
<ellipse cx="480" cy="202.6" rx="19.5" ry="8.1" fill="#a4b4c7"/>
<ellipse cx="480" cy="180.7" rx="22.4" ry="9.9" fill="#000" stroke="#d3d5d9" stroke-width="2.6"/>
<path d="M479.4,160 L479.4,176" fill="none" stroke="#000" stroke-width="3.8" stroke-linejoin="miter" />
<path d="M480.3,247 L480.3,266" fill="none" stroke="#bcd6ee" stroke-width="4" stroke-linejoin="miter" />
<path d="M480.3,277.4 L474.0,264.4 L480.3,267.65 L486.6,264.4z" fill="#bcd6ee" />
<path d="M547,254.9 L524.6,254.9 L524.6,202.3 L516,202.3" fill="none" stroke="#000" stroke-width="3.8" stroke-linejoin="miter" />
<path d="M506,202.3 L517.0,196.8 L514.25,202.3 L517.0,207.8z" fill="#000" />
<path d="M547,254.9 L563,254.9" fill="none" stroke="#000" stroke-width="3.8" stroke-linejoin="miter" />
<path d="M547,246.6 L555,254.6 L547,262.6 L539,254.6z" fill="#f2a488" stroke="#1a1a1a" stroke-width="1.3"/>
<text x="547" y="257.9" font-size="9" text-anchor="middle" fill="#8a2a10">2</text>
<rect x="692.2" y="194.2" width="75.2" height="51.8" fill="#dcdcde"/>
<ellipse cx="729.8" cy="246" rx="37.6" ry="9.6" fill="#dcdcde"/>
<rect x="697.3" y="194.2" width="65" height="45" fill="#000"/>
<rect x="697.3" y="216.4" width="65" height="22.6" fill="#3b89cd"/>
<ellipse cx="729.8" cy="239" rx="32.5" ry="8.7" fill="#3b89cd"/>
<ellipse cx="729.8" cy="216.4" rx="32.5" ry="9.1" fill="#2d72ae"/>
<ellipse cx="729.8" cy="194.2" rx="35.5" ry="9.6" fill="#000" stroke="#cfd0d3" stroke-width="3"/>
<path d="M729.1,190 L729.1,216" fill="none" stroke="#3d87c7" stroke-width="4.6" stroke-linejoin="miter" />
<path d="M566.5,162.1 L567.47,162.13 L568.5,162.15 L569.59,162.18 L570.75,162.2 L572.0,162.23 L573.36,162.26 L574.86,162.29 L576.54,162.32 L578.48,162.35 L580.84,162.38 L584.02,162.41 L590.71,162.44 L603.36,162.48 L606.74,162.51 L609.19,162.55 L611.18,162.58 L612.9,162.62 L614.42,162.66 L615.8,162.7 L617.07,162.74 L618.24,162.78 L619.34,162.82 L620.38,162.86 L621.35,162.91 L622.29,162.95 L623.17,163.0 L624.02,163.04 L624.84,163.09 L625.62,163.14 L626.38,163.19 L627.1,163.24 L627.81,163.29 L628.49,163.34 L629.15,163.39 L629.79,163.45 L630.41,163.5 L631.02,163.55 L631.61,163.61 L632.18,163.67 L632.74,163.72 L633.28,163.78 L633.81,163.84 L634.33,163.9 L634.83,163.96 L635.32,164.02 L635.8,164.08 L636.27,164.15 L636.73,164.21 L637.18,164.27 L637.62,164.34 L638.04,164.41 L638.46,164.47 L638.87,164.54 L639.27,164.61 L639.66,164.68 L640.05,164.75 L640.42,164.82 L640.79,164.89 L641.14,164.96 L641.5,165.03 L641.84,165.1 L642.17,165.18 L642.5,165.25 L642.82,165.33 L643.13,165.4 L643.44,165.48 L643.74,165.56 L644.03,165.63 L644.32,165.71 L644.6,165.79 L644.87,165.87 L645.13,165.95 L645.39,166.03 L645.65,166.11 L645.89,166.19 L646.13,166.27 L646.37,166.36 L646.6,166.44 L646.82,166.52 L647.03,166.61 L647.25,166.69 L647.45,166.78 L647.65,166.86 L647.84,166.95 L648.03,167.04 L648.21,167.12 L648.39,167.21 L648.56,167.3 L648.72,167.39 L648.88,167.47 L649.04,167.56 L649.18,167.65 L649.33,167.74 L649.46,167.83 L649.6,167.92 L649.72,168.01 L649.84,168.1 L649.96,168.2 L650.07,168.29 L650.18,168.38 L650.28,168.47 L650.37,168.56 L650.46,168.66 L650.55,168.75 L650.63,168.84 L650.7,168.93 L650.77,169.03 L650.83,169.12 L650.89,169.21 L650.95,169.31 L650.99,169.4 L651.04,169.5 L651.08,169.59 L651.11,169.68 L651.14,169.78 L651.16,169.87 L651.18,169.97 L651.19,170.06 L651.2,170.16 L651.2,170.25" fill="none" stroke="#e8eef5" stroke-width="7" stroke-linecap="butt" opacity="0.6"/>
<path d="M566.5,162.1 L567.47,162.13 L568.5,162.15 L569.59,162.18 L570.75,162.2 L572.0,162.23 L573.36,162.26 L574.86,162.29 L576.54,162.32 L578.48,162.35 L580.84,162.38 L584.02,162.41 L590.71,162.44 L603.36,162.48 L606.74,162.51 L609.19,162.55 L611.18,162.58 L612.9,162.62 L614.42,162.66 L615.8,162.7 L617.07,162.74 L618.24,162.78 L619.34,162.82 L620.38,162.86 L621.35,162.91 L622.29,162.95 L623.17,163.0 L624.02,163.04 L624.84,163.09 L625.62,163.14 L626.38,163.19 L627.1,163.24 L627.81,163.29 L628.49,163.34 L629.15,163.39 L629.79,163.45 L630.41,163.5 L631.02,163.55 L631.61,163.61 L632.18,163.67 L632.74,163.72 L633.28,163.78 L633.81,163.84 L634.33,163.9 L634.83,163.96 L635.32,164.02 L635.8,164.08 L636.27,164.15 L636.73,164.21 L637.18,164.27 L637.62,164.34 L638.04,164.41 L638.46,164.47 L638.87,164.54 L639.27,164.61 L639.66,164.68 L640.05,164.75 L640.42,164.82 L640.79,164.89 L641.14,164.96 L641.5,165.03 L641.84,165.1 L642.17,165.18 L642.5,165.25 L642.82,165.33 L643.13,165.4 L643.44,165.48 L643.74,165.56 L644.03,165.63 L644.32,165.71 L644.6,165.79 L644.87,165.87 L645.13,165.95 L645.39,166.03 L645.65,166.11 L645.89,166.19 L646.13,166.27 L646.37,166.36 L646.6,166.44 L646.82,166.52 L647.03,166.61 L647.25,166.69 L647.45,166.78 L647.65,166.86 L647.84,166.95 L648.03,167.04 L648.21,167.12 L648.39,167.21 L648.56,167.3 L648.72,167.39 L648.88,167.47 L649.04,167.56 L649.18,167.65 L649.33,167.74 L649.46,167.83 L649.6,167.92 L649.72,168.01 L649.84,168.1 L649.96,168.2 L650.07,168.29 L650.18,168.38 L650.28,168.47 L650.37,168.56 L650.46,168.66 L650.55,168.75 L650.63,168.84 L650.7,168.93 L650.77,169.03 L650.83,169.12 L650.89,169.21 L650.95,169.31 L650.99,169.4 L651.04,169.5 L651.08,169.59 L651.11,169.68 L651.14,169.78 L651.16,169.87 L651.18,169.97 L651.19,170.06 L651.2,170.16 L651.2,170.25" fill="none" stroke="#0c1729" stroke-width="5.7" stroke-linecap="butt"/>
<path d="M566.5,162.1 L567.47,162.13 L568.5,162.15 L569.59,162.18 L570.75,162.2 L572.0,162.23 L573.36,162.26 L574.86,162.29 L576.54,162.32 L578.48,162.35 L580.84,162.38 L584.02,162.41 L590.71,162.44 L603.36,162.48 L606.74,162.51 L609.19,162.55 L611.18,162.58 L612.9,162.62 L614.42,162.66 L615.8,162.7 L617.07,162.74 L618.24,162.78 L619.34,162.82 L620.38,162.86 L621.35,162.91 L622.29,162.95 L623.17,163.0 L624.02,163.04 L624.84,163.09 L625.62,163.14 L626.38,163.19 L627.1,163.24 L627.81,163.29 L628.49,163.34 L629.15,163.39 L629.79,163.45 L630.41,163.5 L631.02,163.55 L631.61,163.61 L632.18,163.67 L632.74,163.72 L633.28,163.78 L633.81,163.84 L634.33,163.9 L634.83,163.96 L635.32,164.02 L635.8,164.08 L636.27,164.15 L636.73,164.21 L637.18,164.27 L637.62,164.34 L638.04,164.41 L638.46,164.47 L638.87,164.54 L639.27,164.61 L639.66,164.68 L640.05,164.75 L640.42,164.82 L640.79,164.89 L641.14,164.96 L641.5,165.03 L641.84,165.1 L642.17,165.18 L642.5,165.25 L642.82,165.33 L643.13,165.4 L643.44,165.48 L643.74,165.56 L644.03,165.63 L644.32,165.71 L644.6,165.79 L644.87,165.87 L645.13,165.95 L645.39,166.03 L645.65,166.11 L645.89,166.19 L646.13,166.27 L646.37,166.36 L646.6,166.44 L646.82,166.52 L647.03,166.61 L647.25,166.69 L647.45,166.78 L647.65,166.86 L647.84,166.95 L648.03,167.04 L648.21,167.12 L648.39,167.21 L648.56,167.3 L648.72,167.39 L648.88,167.47 L649.04,167.56 L649.18,167.65 L649.33,167.74 L649.46,167.83 L649.6,167.92 L649.72,168.01 L649.84,168.1 L649.96,168.2 L650.07,168.29 L650.18,168.38 L650.28,168.47 L650.37,168.56 L650.46,168.66 L650.55,168.75 L650.63,168.84 L650.7,168.93 L650.77,169.03 L650.83,169.12 L650.89,169.21 L650.95,169.31 L650.99,169.4 L651.04,169.5 L651.08,169.59 L651.11,169.68 L651.14,169.78 L651.16,169.87 L651.18,169.97 L651.19,170.06 L651.2,170.16 L651.2,170.25" fill="none" stroke="#4f7eb2" stroke-width="1.9" stroke-linecap="butt"/>
<path d="M536.8,177.5 L536.81,177.36 L536.83,177.22 L536.87,177.08 L536.93,176.95 L537.01,176.81 L537.1,176.67 L537.2,176.54 L537.33,176.4 L537.47,176.27 L537.63,176.14 L537.8,176.01 L537.99,175.88 L538.2,175.75 L538.43,175.62 L538.67,175.5 L538.93,175.38 L539.21,175.26 L539.51,175.14 L539.82,175.02 L540.15,174.91 L540.5,174.8 L540.87,174.69 L541.26,174.58 L541.67,174.48 L542.1,174.38 L542.55,174.29 L543.02,174.2 L543.51,174.11 L544.02,174.02 L544.55,173.94 L545.1,173.86 L545.68,173.79 L546.28,173.71 L546.91,173.65 L547.56,173.59 L548.24,173.53 L548.95,173.47 L549.68,173.42 L550.45,173.38 L551.25,173.33 L552.08,173.3 L552.95,173.27 L553.85,173.24 L554.8,173.22 L555.79,173.2 L556.83,173.18 L557.92,173.18 L559.07,173.17 L560.29,173.17 L561.58,173.18 L562.95,173.19 L564.43,173.21 L566.02,173.23 L567.76,173.26 L569.68,173.29 L571.84,173.32 L574.36,173.37 L577.43,173.41 L581.61,173.47 L594.0,173.53 L606.39,173.59 L610.57,173.66 L613.64,173.73 L616.16,173.81 L618.32,173.89 L620.24,173.98 L621.98,174.08 L623.57,174.17 L625.05,174.28 L626.42,174.39 L627.71,174.5 L628.93,174.62 L630.08,174.75 L631.17,174.88 L632.21,175.01 L633.2,175.15 L634.15,175.29 L635.05,175.44 L635.92,175.59 L636.75,175.75 L637.55,175.91 L638.32,176.08 L639.05,176.25 L639.76,176.43 L640.44,176.61 L641.09,176.79 L641.72,176.98 L642.32,177.17 L642.9,177.36 L643.45,177.56 L643.98,177.77 L644.49,177.97 L644.98,178.18 L645.45,178.4 L645.9,178.61 L646.33,178.83 L646.74,179.06 L647.13,179.28 L647.5,179.51 L647.85,179.74 L648.18,179.98 L648.49,180.21 L648.79,180.45 L649.07,180.69 L649.33,180.94 L649.57,181.18 L649.8,181.43 L650.01,181.68 L650.2,181.93 L650.37,182.18 L650.53,182.43 L650.67,182.69 L650.8,182.94 L650.9,183.2 L650.99,183.46 L651.07,183.71 L651.13,183.97 L651.17,184.23 L651.19,184.49 L651.2,184.75" fill="none" stroke="#e8eef5" stroke-width="7" stroke-linecap="butt" opacity="0.6"/>
<path d="M536.8,177.5 L536.81,177.36 L536.83,177.22 L536.87,177.08 L536.93,176.95 L537.01,176.81 L537.1,176.67 L537.2,176.54 L537.33,176.4 L537.47,176.27 L537.63,176.14 L537.8,176.01 L537.99,175.88 L538.2,175.75 L538.43,175.62 L538.67,175.5 L538.93,175.38 L539.21,175.26 L539.51,175.14 L539.82,175.02 L540.15,174.91 L540.5,174.8 L540.87,174.69 L541.26,174.58 L541.67,174.48 L542.1,174.38 L542.55,174.29 L543.02,174.2 L543.51,174.11 L544.02,174.02 L544.55,173.94 L545.1,173.86 L545.68,173.79 L546.28,173.71 L546.91,173.65 L547.56,173.59 L548.24,173.53 L548.95,173.47 L549.68,173.42 L550.45,173.38 L551.25,173.33 L552.08,173.3 L552.95,173.27 L553.85,173.24 L554.8,173.22 L555.79,173.2 L556.83,173.18 L557.92,173.18 L559.07,173.17 L560.29,173.17 L561.58,173.18 L562.95,173.19 L564.43,173.21 L566.02,173.23 L567.76,173.26 L569.68,173.29 L571.84,173.32 L574.36,173.37 L577.43,173.41 L581.61,173.47 L594.0,173.53 L606.39,173.59 L610.57,173.66 L613.64,173.73 L616.16,173.81 L618.32,173.89 L620.24,173.98 L621.98,174.08 L623.57,174.17 L625.05,174.28 L626.42,174.39 L627.71,174.5 L628.93,174.62 L630.08,174.75 L631.17,174.88 L632.21,175.01 L633.2,175.15 L634.15,175.29 L635.05,175.44 L635.92,175.59 L636.75,175.75 L637.55,175.91 L638.32,176.08 L639.05,176.25 L639.76,176.43 L640.44,176.61 L641.09,176.79 L641.72,176.98 L642.32,177.17 L642.9,177.36 L643.45,177.56 L643.98,177.77 L644.49,177.97 L644.98,178.18 L645.45,178.4 L645.9,178.61 L646.33,178.83 L646.74,179.06 L647.13,179.28 L647.5,179.51 L647.85,179.74 L648.18,179.98 L648.49,180.21 L648.79,180.45 L649.07,180.69 L649.33,180.94 L649.57,181.18 L649.8,181.43 L650.01,181.68 L650.2,181.93 L650.37,182.18 L650.53,182.43 L650.67,182.69 L650.8,182.94 L650.9,183.2 L650.99,183.46 L651.07,183.71 L651.13,183.97 L651.17,184.23 L651.19,184.49 L651.2,184.75" fill="none" stroke="#0c1729" stroke-width="5.7" stroke-linecap="butt"/>
<path d="M536.8,177.5 L536.81,177.36 L536.83,177.22 L536.87,177.08 L536.93,176.95 L537.01,176.81 L537.1,176.67 L537.2,176.54 L537.33,176.4 L537.47,176.27 L537.63,176.14 L537.8,176.01 L537.99,175.88 L538.2,175.75 L538.43,175.62 L538.67,175.5 L538.93,175.38 L539.21,175.26 L539.51,175.14 L539.82,175.02 L540.15,174.91 L540.5,174.8 L540.87,174.69 L541.26,174.58 L541.67,174.48 L542.1,174.38 L542.55,174.29 L543.02,174.2 L543.51,174.11 L544.02,174.02 L544.55,173.94 L545.1,173.86 L545.68,173.79 L546.28,173.71 L546.91,173.65 L547.56,173.59 L548.24,173.53 L548.95,173.47 L549.68,173.42 L550.45,173.38 L551.25,173.33 L552.08,173.3 L552.95,173.27 L553.85,173.24 L554.8,173.22 L555.79,173.2 L556.83,173.18 L557.92,173.18 L559.07,173.17 L560.29,173.17 L561.58,173.18 L562.95,173.19 L564.43,173.21 L566.02,173.23 L567.76,173.26 L569.68,173.29 L571.84,173.32 L574.36,173.37 L577.43,173.41 L581.61,173.47 L594.0,173.53 L606.39,173.59 L610.57,173.66 L613.64,173.73 L616.16,173.81 L618.32,173.89 L620.24,173.98 L621.98,174.08 L623.57,174.17 L625.05,174.28 L626.42,174.39 L627.71,174.5 L628.93,174.62 L630.08,174.75 L631.17,174.88 L632.21,175.01 L633.2,175.15 L634.15,175.29 L635.05,175.44 L635.92,175.59 L636.75,175.75 L637.55,175.91 L638.32,176.08 L639.05,176.25 L639.76,176.43 L640.44,176.61 L641.09,176.79 L641.72,176.98 L642.32,177.17 L642.9,177.36 L643.45,177.56 L643.98,177.77 L644.49,177.97 L644.98,178.18 L645.45,178.4 L645.9,178.61 L646.33,178.83 L646.74,179.06 L647.13,179.28 L647.5,179.51 L647.85,179.74 L648.18,179.98 L648.49,180.21 L648.79,180.45 L649.07,180.69 L649.33,180.94 L649.57,181.18 L649.8,181.43 L650.01,181.68 L650.2,181.93 L650.37,182.18 L650.53,182.43 L650.67,182.69 L650.8,182.94 L650.9,183.2 L650.99,183.46 L651.07,183.71 L651.13,183.97 L651.17,184.23 L651.19,184.49 L651.2,184.75" fill="none" stroke="#4f7eb2" stroke-width="1.9" stroke-linecap="butt"/>
<path d="M536.8,192.0 L536.81,191.86 L536.83,191.72 L536.87,191.58 L536.93,191.45 L537.01,191.31 L537.1,191.17 L537.2,191.04 L537.33,190.9 L537.47,190.77 L537.63,190.64 L537.8,190.51 L537.99,190.38 L538.2,190.25 L538.43,190.12 L538.67,190.0 L538.93,189.88 L539.21,189.76 L539.51,189.64 L539.82,189.52 L540.15,189.41 L540.5,189.3 L540.87,189.19 L541.26,189.08 L541.67,188.98 L542.1,188.88 L542.55,188.79 L543.02,188.7 L543.51,188.61 L544.02,188.52 L544.55,188.44 L545.1,188.36 L545.68,188.29 L546.28,188.21 L546.91,188.15 L547.56,188.09 L548.24,188.03 L548.95,187.97 L549.68,187.92 L550.45,187.88 L551.25,187.83 L552.08,187.8 L552.95,187.77 L553.85,187.74 L554.8,187.72 L555.79,187.7 L556.83,187.68 L557.92,187.68 L559.07,187.67 L560.29,187.67 L561.58,187.68 L562.95,187.69 L564.43,187.71 L566.02,187.73 L567.76,187.76 L569.68,187.79 L571.84,187.82 L574.36,187.87 L577.43,187.91 L581.61,187.97 L594.0,188.03 L606.39,188.09 L610.57,188.16 L613.64,188.23 L616.16,188.31 L618.32,188.39 L620.24,188.48 L621.98,188.58 L623.57,188.67 L625.05,188.78 L626.42,188.89 L627.71,189.0 L628.93,189.12 L630.08,189.25 L631.17,189.38 L632.21,189.51 L633.2,189.65 L634.15,189.79 L635.05,189.94 L635.92,190.09 L636.75,190.25 L637.55,190.41 L638.32,190.58 L639.05,190.75 L639.76,190.93 L640.44,191.11 L641.09,191.29 L641.72,191.48 L642.32,191.67 L642.9,191.86 L643.45,192.06 L643.98,192.27 L644.49,192.47 L644.98,192.68 L645.45,192.9 L645.9,193.11 L646.33,193.33 L646.74,193.56 L647.13,193.78 L647.5,194.01 L647.85,194.24 L648.18,194.48 L648.49,194.71 L648.79,194.95 L649.07,195.19 L649.33,195.44 L649.57,195.68 L649.8,195.93 L650.01,196.18 L650.2,196.43 L650.37,196.68 L650.53,196.93 L650.67,197.19 L650.8,197.44 L650.9,197.7 L650.99,197.96 L651.07,198.21 L651.13,198.47 L651.17,198.73 L651.19,198.99 L651.2,199.25" fill="none" stroke="#e8eef5" stroke-width="7" stroke-linecap="butt" opacity="0.6"/>
<path d="M536.8,192.0 L536.81,191.86 L536.83,191.72 L536.87,191.58 L536.93,191.45 L537.01,191.31 L537.1,191.17 L537.2,191.04 L537.33,190.9 L537.47,190.77 L537.63,190.64 L537.8,190.51 L537.99,190.38 L538.2,190.25 L538.43,190.12 L538.67,190.0 L538.93,189.88 L539.21,189.76 L539.51,189.64 L539.82,189.52 L540.15,189.41 L540.5,189.3 L540.87,189.19 L541.26,189.08 L541.67,188.98 L542.1,188.88 L542.55,188.79 L543.02,188.7 L543.51,188.61 L544.02,188.52 L544.55,188.44 L545.1,188.36 L545.68,188.29 L546.28,188.21 L546.91,188.15 L547.56,188.09 L548.24,188.03 L548.95,187.97 L549.68,187.92 L550.45,187.88 L551.25,187.83 L552.08,187.8 L552.95,187.77 L553.85,187.74 L554.8,187.72 L555.79,187.7 L556.83,187.68 L557.92,187.68 L559.07,187.67 L560.29,187.67 L561.58,187.68 L562.95,187.69 L564.43,187.71 L566.02,187.73 L567.76,187.76 L569.68,187.79 L571.84,187.82 L574.36,187.87 L577.43,187.91 L581.61,187.97 L594.0,188.03 L606.39,188.09 L610.57,188.16 L613.64,188.23 L616.16,188.31 L618.32,188.39 L620.24,188.48 L621.98,188.58 L623.57,188.67 L625.05,188.78 L626.42,188.89 L627.71,189.0 L628.93,189.12 L630.08,189.25 L631.17,189.38 L632.21,189.51 L633.2,189.65 L634.15,189.79 L635.05,189.94 L635.92,190.09 L636.75,190.25 L637.55,190.41 L638.32,190.58 L639.05,190.75 L639.76,190.93 L640.44,191.11 L641.09,191.29 L641.72,191.48 L642.32,191.67 L642.9,191.86 L643.45,192.06 L643.98,192.27 L644.49,192.47 L644.98,192.68 L645.45,192.9 L645.9,193.11 L646.33,193.33 L646.74,193.56 L647.13,193.78 L647.5,194.01 L647.85,194.24 L648.18,194.48 L648.49,194.71 L648.79,194.95 L649.07,195.19 L649.33,195.44 L649.57,195.68 L649.8,195.93 L650.01,196.18 L650.2,196.43 L650.37,196.68 L650.53,196.93 L650.67,197.19 L650.8,197.44 L650.9,197.7 L650.99,197.96 L651.07,198.21 L651.13,198.47 L651.17,198.73 L651.19,198.99 L651.2,199.25" fill="none" stroke="#0c1729" stroke-width="5.7" stroke-linecap="butt"/>
<path d="M536.8,192.0 L536.81,191.86 L536.83,191.72 L536.87,191.58 L536.93,191.45 L537.01,191.31 L537.1,191.17 L537.2,191.04 L537.33,190.9 L537.47,190.77 L537.63,190.64 L537.8,190.51 L537.99,190.38 L538.2,190.25 L538.43,190.12 L538.67,190.0 L538.93,189.88 L539.21,189.76 L539.51,189.64 L539.82,189.52 L540.15,189.41 L540.5,189.3 L540.87,189.19 L541.26,189.08 L541.67,188.98 L542.1,188.88 L542.55,188.79 L543.02,188.7 L543.51,188.61 L544.02,188.52 L544.55,188.44 L545.1,188.36 L545.68,188.29 L546.28,188.21 L546.91,188.15 L547.56,188.09 L548.24,188.03 L548.95,187.97 L549.68,187.92 L550.45,187.88 L551.25,187.83 L552.08,187.8 L552.95,187.77 L553.85,187.74 L554.8,187.72 L555.79,187.7 L556.83,187.68 L557.92,187.68 L559.07,187.67 L560.29,187.67 L561.58,187.68 L562.95,187.69 L564.43,187.71 L566.02,187.73 L567.76,187.76 L569.68,187.79 L571.84,187.82 L574.36,187.87 L577.43,187.91 L581.61,187.97 L594.0,188.03 L606.39,188.09 L610.57,188.16 L613.64,188.23 L616.16,188.31 L618.32,188.39 L620.24,188.48 L621.98,188.58 L623.57,188.67 L625.05,188.78 L626.42,188.89 L627.71,189.0 L628.93,189.12 L630.08,189.25 L631.17,189.38 L632.21,189.51 L633.2,189.65 L634.15,189.79 L635.05,189.94 L635.92,190.09 L636.75,190.25 L637.55,190.41 L638.32,190.58 L639.05,190.75 L639.76,190.93 L640.44,191.11 L641.09,191.29 L641.72,191.48 L642.32,191.67 L642.9,191.86 L643.45,192.06 L643.98,192.27 L644.49,192.47 L644.98,192.68 L645.45,192.9 L645.9,193.11 L646.33,193.33 L646.74,193.56 L647.13,193.78 L647.5,194.01 L647.85,194.24 L648.18,194.48 L648.49,194.71 L648.79,194.95 L649.07,195.19 L649.33,195.44 L649.57,195.68 L649.8,195.93 L650.01,196.18 L650.2,196.43 L650.37,196.68 L650.53,196.93 L650.67,197.19 L650.8,197.44 L650.9,197.7 L650.99,197.96 L651.07,198.21 L651.13,198.47 L651.17,198.73 L651.19,198.99 L651.2,199.25" fill="none" stroke="#4f7eb2" stroke-width="1.9" stroke-linecap="butt"/>
<path d="M536.8,206.5 L536.81,206.36 L536.83,206.22 L536.87,206.08 L536.93,205.95 L537.01,205.81 L537.1,205.67 L537.2,205.54 L537.33,205.4 L537.47,205.27 L537.63,205.14 L537.8,205.01 L537.99,204.88 L538.2,204.75 L538.43,204.62 L538.67,204.5 L538.93,204.38 L539.21,204.26 L539.51,204.14 L539.82,204.02 L540.15,203.91 L540.5,203.8 L540.87,203.69 L541.26,203.58 L541.67,203.48 L542.1,203.38 L542.55,203.29 L543.02,203.2 L543.51,203.11 L544.02,203.02 L544.55,202.94 L545.1,202.86 L545.68,202.79 L546.28,202.71 L546.91,202.65 L547.56,202.59 L548.24,202.53 L548.95,202.47 L549.68,202.42 L550.45,202.38 L551.25,202.33 L552.08,202.3 L552.95,202.27 L553.85,202.24 L554.8,202.22 L555.79,202.2 L556.83,202.18 L557.92,202.18 L559.07,202.17 L560.29,202.17 L561.58,202.18 L562.95,202.19 L564.43,202.21 L566.02,202.23 L567.76,202.26 L569.68,202.29 L571.84,202.32 L574.36,202.37 L577.43,202.41 L581.61,202.47 L594.0,202.53 L606.39,202.59 L610.57,202.66 L613.64,202.73 L616.16,202.81 L618.32,202.89 L620.24,202.98 L621.98,203.08 L623.57,203.17 L625.05,203.28 L626.42,203.39 L627.71,203.5 L628.93,203.62 L630.08,203.75 L631.17,203.88 L632.21,204.01 L633.2,204.15 L634.15,204.29 L635.05,204.44 L635.92,204.59 L636.75,204.75 L637.55,204.91 L638.32,205.08 L639.05,205.25 L639.76,205.43 L640.44,205.61 L641.09,205.79 L641.72,205.98 L642.32,206.17 L642.9,206.36 L643.45,206.56 L643.98,206.77 L644.49,206.97 L644.98,207.18 L645.45,207.4 L645.9,207.61 L646.33,207.83 L646.74,208.06 L647.13,208.28 L647.5,208.51 L647.85,208.74 L648.18,208.98 L648.49,209.21 L648.79,209.45 L649.07,209.69 L649.33,209.94 L649.57,210.18 L649.8,210.43 L650.01,210.68 L650.2,210.93 L650.37,211.18 L650.53,211.43 L650.67,211.69 L650.8,211.94 L650.9,212.2 L650.99,212.46 L651.07,212.71 L651.13,212.97 L651.17,213.23 L651.19,213.49 L651.2,213.75" fill="none" stroke="#e8eef5" stroke-width="7" stroke-linecap="butt" opacity="0.6"/>
<path d="M536.8,206.5 L536.81,206.36 L536.83,206.22 L536.87,206.08 L536.93,205.95 L537.01,205.81 L537.1,205.67 L537.2,205.54 L537.33,205.4 L537.47,205.27 L537.63,205.14 L537.8,205.01 L537.99,204.88 L538.2,204.75 L538.43,204.62 L538.67,204.5 L538.93,204.38 L539.21,204.26 L539.51,204.14 L539.82,204.02 L540.15,203.91 L540.5,203.8 L540.87,203.69 L541.26,203.58 L541.67,203.48 L542.1,203.38 L542.55,203.29 L543.02,203.2 L543.51,203.11 L544.02,203.02 L544.55,202.94 L545.1,202.86 L545.68,202.79 L546.28,202.71 L546.91,202.65 L547.56,202.59 L548.24,202.53 L548.95,202.47 L549.68,202.42 L550.45,202.38 L551.25,202.33 L552.08,202.3 L552.95,202.27 L553.85,202.24 L554.8,202.22 L555.79,202.2 L556.83,202.18 L557.92,202.18 L559.07,202.17 L560.29,202.17 L561.58,202.18 L562.95,202.19 L564.43,202.21 L566.02,202.23 L567.76,202.26 L569.68,202.29 L571.84,202.32 L574.36,202.37 L577.43,202.41 L581.61,202.47 L594.0,202.53 L606.39,202.59 L610.57,202.66 L613.64,202.73 L616.16,202.81 L618.32,202.89 L620.24,202.98 L621.98,203.08 L623.57,203.17 L625.05,203.28 L626.42,203.39 L627.71,203.5 L628.93,203.62 L630.08,203.75 L631.17,203.88 L632.21,204.01 L633.2,204.15 L634.15,204.29 L635.05,204.44 L635.92,204.59 L636.75,204.75 L637.55,204.91 L638.32,205.08 L639.05,205.25 L639.76,205.43 L640.44,205.61 L641.09,205.79 L641.72,205.98 L642.32,206.17 L642.9,206.36 L643.45,206.56 L643.98,206.77 L644.49,206.97 L644.98,207.18 L645.45,207.4 L645.9,207.61 L646.33,207.83 L646.74,208.06 L647.13,208.28 L647.5,208.51 L647.85,208.74 L648.18,208.98 L648.49,209.21 L648.79,209.45 L649.07,209.69 L649.33,209.94 L649.57,210.18 L649.8,210.43 L650.01,210.68 L650.2,210.93 L650.37,211.18 L650.53,211.43 L650.67,211.69 L650.8,211.94 L650.9,212.2 L650.99,212.46 L651.07,212.71 L651.13,212.97 L651.17,213.23 L651.19,213.49 L651.2,213.75" fill="none" stroke="#0c1729" stroke-width="5.7" stroke-linecap="butt"/>
<path d="M536.8,206.5 L536.81,206.36 L536.83,206.22 L536.87,206.08 L536.93,205.95 L537.01,205.81 L537.1,205.67 L537.2,205.54 L537.33,205.4 L537.47,205.27 L537.63,205.14 L537.8,205.01 L537.99,204.88 L538.2,204.75 L538.43,204.62 L538.67,204.5 L538.93,204.38 L539.21,204.26 L539.51,204.14 L539.82,204.02 L540.15,203.91 L540.5,203.8 L540.87,203.69 L541.26,203.58 L541.67,203.48 L542.1,203.38 L542.55,203.29 L543.02,203.2 L543.51,203.11 L544.02,203.02 L544.55,202.94 L545.1,202.86 L545.68,202.79 L546.28,202.71 L546.91,202.65 L547.56,202.59 L548.24,202.53 L548.95,202.47 L549.68,202.42 L550.45,202.38 L551.25,202.33 L552.08,202.3 L552.95,202.27 L553.85,202.24 L554.8,202.22 L555.79,202.2 L556.83,202.18 L557.92,202.18 L559.07,202.17 L560.29,202.17 L561.58,202.18 L562.95,202.19 L564.43,202.21 L566.02,202.23 L567.76,202.26 L569.68,202.29 L571.84,202.32 L574.36,202.37 L577.43,202.41 L581.61,202.47 L594.0,202.53 L606.39,202.59 L610.57,202.66 L613.64,202.73 L616.16,202.81 L618.32,202.89 L620.24,202.98 L621.98,203.08 L623.57,203.17 L625.05,203.28 L626.42,203.39 L627.71,203.5 L628.93,203.62 L630.08,203.75 L631.17,203.88 L632.21,204.01 L633.2,204.15 L634.15,204.29 L635.05,204.44 L635.92,204.59 L636.75,204.75 L637.55,204.91 L638.32,205.08 L639.05,205.25 L639.76,205.43 L640.44,205.61 L641.09,205.79 L641.72,205.98 L642.32,206.17 L642.9,206.36 L643.45,206.56 L643.98,206.77 L644.49,206.97 L644.98,207.18 L645.45,207.4 L645.9,207.61 L646.33,207.83 L646.74,208.06 L647.13,208.28 L647.5,208.51 L647.85,208.74 L648.18,208.98 L648.49,209.21 L648.79,209.45 L649.07,209.69 L649.33,209.94 L649.57,210.18 L649.8,210.43 L650.01,210.68 L650.2,210.93 L650.37,211.18 L650.53,211.43 L650.67,211.69 L650.8,211.94 L650.9,212.2 L650.99,212.46 L651.07,212.71 L651.13,212.97 L651.17,213.23 L651.19,213.49 L651.2,213.75" fill="none" stroke="#4f7eb2" stroke-width="1.9" stroke-linecap="butt"/>
<path d="M536.8,221.0 L536.81,220.86 L536.83,220.72 L536.87,220.58 L536.93,220.45 L537.01,220.31 L537.1,220.17 L537.2,220.04 L537.33,219.9 L537.47,219.77 L537.63,219.64 L537.8,219.51 L537.99,219.38 L538.2,219.25 L538.43,219.12 L538.67,219.0 L538.93,218.88 L539.21,218.76 L539.51,218.64 L539.82,218.52 L540.15,218.41 L540.5,218.3 L540.87,218.19 L541.26,218.08 L541.67,217.98 L542.1,217.88 L542.55,217.79 L543.02,217.7 L543.51,217.61 L544.02,217.52 L544.55,217.44 L545.1,217.36 L545.68,217.29 L546.28,217.21 L546.91,217.15 L547.56,217.09 L548.24,217.03 L548.95,216.97 L549.68,216.92 L550.45,216.88 L551.25,216.83 L552.08,216.8 L552.95,216.77 L553.85,216.74 L554.8,216.72 L555.79,216.7 L556.83,216.68 L557.92,216.68 L559.07,216.67 L560.29,216.67 L561.58,216.68 L562.95,216.69 L564.43,216.71 L566.02,216.73 L567.76,216.76 L569.68,216.79 L571.84,216.82 L574.36,216.87 L577.43,216.91 L581.61,216.97 L594.0,217.03 L606.39,217.09 L610.57,217.16 L613.64,217.23 L616.16,217.31 L618.32,217.39 L620.24,217.48 L621.98,217.58 L623.57,217.67 L625.05,217.78 L626.42,217.89 L627.71,218.0 L628.93,218.12 L630.08,218.25 L631.17,218.38 L632.21,218.51 L633.2,218.65 L634.15,218.79 L635.05,218.94 L635.92,219.09 L636.75,219.25 L637.55,219.41 L638.32,219.58 L639.05,219.75 L639.76,219.93 L640.44,220.11 L641.09,220.29 L641.72,220.48 L642.32,220.67 L642.9,220.86 L643.45,221.06 L643.98,221.27 L644.49,221.47 L644.98,221.68 L645.45,221.9 L645.9,222.11 L646.33,222.33 L646.74,222.56 L647.13,222.78 L647.5,223.01 L647.85,223.24 L648.18,223.48 L648.49,223.71 L648.79,223.95 L649.07,224.19 L649.33,224.44 L649.57,224.68 L649.8,224.93 L650.01,225.18 L650.2,225.43 L650.37,225.68 L650.53,225.93 L650.67,226.19 L650.8,226.44 L650.9,226.7 L650.99,226.96 L651.07,227.21 L651.13,227.47 L651.17,227.73 L651.19,227.99 L651.2,228.25" fill="none" stroke="#e8eef5" stroke-width="7" stroke-linecap="butt" opacity="0.6"/>
<path d="M536.8,221.0 L536.81,220.86 L536.83,220.72 L536.87,220.58 L536.93,220.45 L537.01,220.31 L537.1,220.17 L537.2,220.04 L537.33,219.9 L537.47,219.77 L537.63,219.64 L537.8,219.51 L537.99,219.38 L538.2,219.25 L538.43,219.12 L538.67,219.0 L538.93,218.88 L539.21,218.76 L539.51,218.64 L539.82,218.52 L540.15,218.41 L540.5,218.3 L540.87,218.19 L541.26,218.08 L541.67,217.98 L542.1,217.88 L542.55,217.79 L543.02,217.7 L543.51,217.61 L544.02,217.52 L544.55,217.44 L545.1,217.36 L545.68,217.29 L546.28,217.21 L546.91,217.15 L547.56,217.09 L548.24,217.03 L548.95,216.97 L549.68,216.92 L550.45,216.88 L551.25,216.83 L552.08,216.8 L552.95,216.77 L553.85,216.74 L554.8,216.72 L555.79,216.7 L556.83,216.68 L557.92,216.68 L559.07,216.67 L560.29,216.67 L561.58,216.68 L562.95,216.69 L564.43,216.71 L566.02,216.73 L567.76,216.76 L569.68,216.79 L571.84,216.82 L574.36,216.87 L577.43,216.91 L581.61,216.97 L594.0,217.03 L606.39,217.09 L610.57,217.16 L613.64,217.23 L616.16,217.31 L618.32,217.39 L620.24,217.48 L621.98,217.58 L623.57,217.67 L625.05,217.78 L626.42,217.89 L627.71,218.0 L628.93,218.12 L630.08,218.25 L631.17,218.38 L632.21,218.51 L633.2,218.65 L634.15,218.79 L635.05,218.94 L635.92,219.09 L636.75,219.25 L637.55,219.41 L638.32,219.58 L639.05,219.75 L639.76,219.93 L640.44,220.11 L641.09,220.29 L641.72,220.48 L642.32,220.67 L642.9,220.86 L643.45,221.06 L643.98,221.27 L644.49,221.47 L644.98,221.68 L645.45,221.9 L645.9,222.11 L646.33,222.33 L646.74,222.56 L647.13,222.78 L647.5,223.01 L647.85,223.24 L648.18,223.48 L648.49,223.71 L648.79,223.95 L649.07,224.19 L649.33,224.44 L649.57,224.68 L649.8,224.93 L650.01,225.18 L650.2,225.43 L650.37,225.68 L650.53,225.93 L650.67,226.19 L650.8,226.44 L650.9,226.7 L650.99,226.96 L651.07,227.21 L651.13,227.47 L651.17,227.73 L651.19,227.99 L651.2,228.25" fill="none" stroke="#0c1729" stroke-width="5.7" stroke-linecap="butt"/>
<path d="M536.8,221.0 L536.81,220.86 L536.83,220.72 L536.87,220.58 L536.93,220.45 L537.01,220.31 L537.1,220.17 L537.2,220.04 L537.33,219.9 L537.47,219.77 L537.63,219.64 L537.8,219.51 L537.99,219.38 L538.2,219.25 L538.43,219.12 L538.67,219.0 L538.93,218.88 L539.21,218.76 L539.51,218.64 L539.82,218.52 L540.15,218.41 L540.5,218.3 L540.87,218.19 L541.26,218.08 L541.67,217.98 L542.1,217.88 L542.55,217.79 L543.02,217.7 L543.51,217.61 L544.02,217.52 L544.55,217.44 L545.1,217.36 L545.68,217.29 L546.28,217.21 L546.91,217.15 L547.56,217.09 L548.24,217.03 L548.95,216.97 L549.68,216.92 L550.45,216.88 L551.25,216.83 L552.08,216.8 L552.95,216.77 L553.85,216.74 L554.8,216.72 L555.79,216.7 L556.83,216.68 L557.92,216.68 L559.07,216.67 L560.29,216.67 L561.58,216.68 L562.95,216.69 L564.43,216.71 L566.02,216.73 L567.76,216.76 L569.68,216.79 L571.84,216.82 L574.36,216.87 L577.43,216.91 L581.61,216.97 L594.0,217.03 L606.39,217.09 L610.57,217.16 L613.64,217.23 L616.16,217.31 L618.32,217.39 L620.24,217.48 L621.98,217.58 L623.57,217.67 L625.05,217.78 L626.42,217.89 L627.71,218.0 L628.93,218.12 L630.08,218.25 L631.17,218.38 L632.21,218.51 L633.2,218.65 L634.15,218.79 L635.05,218.94 L635.92,219.09 L636.75,219.25 L637.55,219.41 L638.32,219.58 L639.05,219.75 L639.76,219.93 L640.44,220.11 L641.09,220.29 L641.72,220.48 L642.32,220.67 L642.9,220.86 L643.45,221.06 L643.98,221.27 L644.49,221.47 L644.98,221.68 L645.45,221.9 L645.9,222.11 L646.33,222.33 L646.74,222.56 L647.13,222.78 L647.5,223.01 L647.85,223.24 L648.18,223.48 L648.49,223.71 L648.79,223.95 L649.07,224.19 L649.33,224.44 L649.57,224.68 L649.8,224.93 L650.01,225.18 L650.2,225.43 L650.37,225.68 L650.53,225.93 L650.67,226.19 L650.8,226.44 L650.9,226.7 L650.99,226.96 L651.07,227.21 L651.13,227.47 L651.17,227.73 L651.19,227.99 L651.2,228.25" fill="none" stroke="#4f7eb2" stroke-width="1.9" stroke-linecap="butt"/>
<path d="M536.8,235.5 L536.81,235.36 L536.83,235.22 L536.87,235.08 L536.93,234.95 L537.01,234.81 L537.1,234.67 L537.2,234.54 L537.33,234.4 L537.47,234.27 L537.63,234.14 L537.8,234.01 L537.99,233.88 L538.2,233.75 L538.43,233.62 L538.67,233.5 L538.93,233.38 L539.21,233.26 L539.51,233.14 L539.82,233.02 L540.15,232.91 L540.5,232.8 L540.87,232.69 L541.26,232.58 L541.67,232.48 L542.1,232.38 L542.55,232.29 L543.02,232.2 L543.51,232.11 L544.02,232.02 L544.55,231.94 L545.1,231.86 L545.68,231.79 L546.28,231.71 L546.91,231.65 L547.56,231.59 L548.24,231.53 L548.95,231.47 L549.68,231.42 L550.45,231.38 L551.25,231.33 L552.08,231.3 L552.95,231.27 L553.85,231.24 L554.8,231.22 L555.79,231.2 L556.83,231.18 L557.92,231.18 L559.07,231.17 L560.29,231.17 L561.58,231.18 L562.95,231.19 L564.43,231.21 L566.02,231.23 L567.76,231.26 L569.68,231.29 L571.84,231.32 L574.36,231.37 L577.43,231.41 L581.61,231.47 L594.0,231.53 L606.39,231.59 L610.57,231.66 L613.64,231.73 L616.16,231.81 L618.32,231.89 L620.24,231.98 L621.98,232.08 L623.57,232.17 L625.05,232.28 L626.42,232.39 L627.71,232.5 L628.93,232.62 L630.08,232.75 L631.17,232.88 L632.21,233.01 L633.2,233.15 L634.15,233.29 L635.05,233.44 L635.92,233.59 L636.75,233.75 L637.55,233.91 L638.32,234.08 L639.05,234.25 L639.76,234.43 L640.44,234.61 L641.09,234.79 L641.72,234.98 L642.32,235.17 L642.9,235.36 L643.45,235.56 L643.98,235.77 L644.49,235.97 L644.98,236.18 L645.45,236.4 L645.9,236.61 L646.33,236.83 L646.74,237.06 L647.13,237.28 L647.5,237.51 L647.85,237.74 L648.18,237.98 L648.49,238.21 L648.79,238.45 L649.07,238.69 L649.33,238.94 L649.57,239.18 L649.8,239.43 L650.01,239.68 L650.2,239.93 L650.37,240.18 L650.53,240.43 L650.67,240.69 L650.8,240.94 L650.9,241.2 L650.99,241.46 L651.07,241.71 L651.13,241.97 L651.17,242.23 L651.19,242.49 L651.2,242.75" fill="none" stroke="#e8eef5" stroke-width="7" stroke-linecap="butt" opacity="0.6"/>
<path d="M536.8,235.5 L536.81,235.36 L536.83,235.22 L536.87,235.08 L536.93,234.95 L537.01,234.81 L537.1,234.67 L537.2,234.54 L537.33,234.4 L537.47,234.27 L537.63,234.14 L537.8,234.01 L537.99,233.88 L538.2,233.75 L538.43,233.62 L538.67,233.5 L538.93,233.38 L539.21,233.26 L539.51,233.14 L539.82,233.02 L540.15,232.91 L540.5,232.8 L540.87,232.69 L541.26,232.58 L541.67,232.48 L542.1,232.38 L542.55,232.29 L543.02,232.2 L543.51,232.11 L544.02,232.02 L544.55,231.94 L545.1,231.86 L545.68,231.79 L546.28,231.71 L546.91,231.65 L547.56,231.59 L548.24,231.53 L548.95,231.47 L549.68,231.42 L550.45,231.38 L551.25,231.33 L552.08,231.3 L552.95,231.27 L553.85,231.24 L554.8,231.22 L555.79,231.2 L556.83,231.18 L557.92,231.18 L559.07,231.17 L560.29,231.17 L561.58,231.18 L562.95,231.19 L564.43,231.21 L566.02,231.23 L567.76,231.26 L569.68,231.29 L571.84,231.32 L574.36,231.37 L577.43,231.41 L581.61,231.47 L594.0,231.53 L606.39,231.59 L610.57,231.66 L613.64,231.73 L616.16,231.81 L618.32,231.89 L620.24,231.98 L621.98,232.08 L623.57,232.17 L625.05,232.28 L626.42,232.39 L627.71,232.5 L628.93,232.62 L630.08,232.75 L631.17,232.88 L632.21,233.01 L633.2,233.15 L634.15,233.29 L635.05,233.44 L635.92,233.59 L636.75,233.75 L637.55,233.91 L638.32,234.08 L639.05,234.25 L639.76,234.43 L640.44,234.61 L641.09,234.79 L641.72,234.98 L642.32,235.17 L642.9,235.36 L643.45,235.56 L643.98,235.77 L644.49,235.97 L644.98,236.18 L645.45,236.4 L645.9,236.61 L646.33,236.83 L646.74,237.06 L647.13,237.28 L647.5,237.51 L647.85,237.74 L648.18,237.98 L648.49,238.21 L648.79,238.45 L649.07,238.69 L649.33,238.94 L649.57,239.18 L649.8,239.43 L650.01,239.68 L650.2,239.93 L650.37,240.18 L650.53,240.43 L650.67,240.69 L650.8,240.94 L650.9,241.2 L650.99,241.46 L651.07,241.71 L651.13,241.97 L651.17,242.23 L651.19,242.49 L651.2,242.75" fill="none" stroke="#0c1729" stroke-width="5.7" stroke-linecap="butt"/>
<path d="M536.8,235.5 L536.81,235.36 L536.83,235.22 L536.87,235.08 L536.93,234.95 L537.01,234.81 L537.1,234.67 L537.2,234.54 L537.33,234.4 L537.47,234.27 L537.63,234.14 L537.8,234.01 L537.99,233.88 L538.2,233.75 L538.43,233.62 L538.67,233.5 L538.93,233.38 L539.21,233.26 L539.51,233.14 L539.82,233.02 L540.15,232.91 L540.5,232.8 L540.87,232.69 L541.26,232.58 L541.67,232.48 L542.1,232.38 L542.55,232.29 L543.02,232.2 L543.51,232.11 L544.02,232.02 L544.55,231.94 L545.1,231.86 L545.68,231.79 L546.28,231.71 L546.91,231.65 L547.56,231.59 L548.24,231.53 L548.95,231.47 L549.68,231.42 L550.45,231.38 L551.25,231.33 L552.08,231.3 L552.95,231.27 L553.85,231.24 L554.8,231.22 L555.79,231.2 L556.83,231.18 L557.92,231.18 L559.07,231.17 L560.29,231.17 L561.58,231.18 L562.95,231.19 L564.43,231.21 L566.02,231.23 L567.76,231.26 L569.68,231.29 L571.84,231.32 L574.36,231.37 L577.43,231.41 L581.61,231.47 L594.0,231.53 L606.39,231.59 L610.57,231.66 L613.64,231.73 L616.16,231.81 L618.32,231.89 L620.24,231.98 L621.98,232.08 L623.57,232.17 L625.05,232.28 L626.42,232.39 L627.71,232.5 L628.93,232.62 L630.08,232.75 L631.17,232.88 L632.21,233.01 L633.2,233.15 L634.15,233.29 L635.05,233.44 L635.92,233.59 L636.75,233.75 L637.55,233.91 L638.32,234.08 L639.05,234.25 L639.76,234.43 L640.44,234.61 L641.09,234.79 L641.72,234.98 L642.32,235.17 L642.9,235.36 L643.45,235.56 L643.98,235.77 L644.49,235.97 L644.98,236.18 L645.45,236.4 L645.9,236.61 L646.33,236.83 L646.74,237.06 L647.13,237.28 L647.5,237.51 L647.85,237.74 L648.18,237.98 L648.49,238.21 L648.79,238.45 L649.07,238.69 L649.33,238.94 L649.57,239.18 L649.8,239.43 L650.01,239.68 L650.2,239.93 L650.37,240.18 L650.53,240.43 L650.67,240.69 L650.8,240.94 L650.9,241.2 L650.99,241.46 L651.07,241.71 L651.13,241.97 L651.17,242.23 L651.19,242.49 L651.2,242.75" fill="none" stroke="#4f7eb2" stroke-width="1.9" stroke-linecap="butt"/>
<path d="M651.2,170.25 L651.19,170.51 L651.17,170.77 L651.13,171.03 L651.07,171.29 L650.99,171.54 L650.9,171.8 L650.8,172.06 L650.67,172.31 L650.53,172.57 L650.37,172.82 L650.2,173.07 L650.01,173.32 L649.8,173.57 L649.57,173.82 L649.33,174.06 L649.07,174.31 L648.79,174.55 L648.49,174.79 L648.18,175.02 L647.85,175.26 L647.5,175.49 L647.13,175.72 L646.74,175.94 L646.33,176.17 L645.9,176.39 L645.45,176.6 L644.98,176.82 L644.49,177.03 L643.98,177.23 L643.45,177.44 L642.9,177.64 L642.32,177.83 L641.72,178.02 L641.09,178.21 L640.44,178.39 L639.76,178.57 L639.05,178.75 L638.32,178.92 L637.55,179.09 L636.75,179.25 L635.92,179.41 L635.05,179.56 L634.15,179.71 L633.2,179.85 L632.21,179.99 L631.17,180.12 L630.08,180.25 L628.93,180.38 L627.71,180.5 L626.42,180.61 L625.05,180.72 L623.57,180.83 L621.98,180.92 L620.24,181.02 L618.32,181.11 L616.16,181.19 L613.64,181.27 L610.57,181.34 L606.39,181.41 L594.0,181.47 L581.61,181.53 L577.43,181.59 L574.36,181.63 L571.84,181.68 L569.68,181.71 L567.76,181.74 L566.02,181.77 L564.43,181.79 L562.95,181.81 L561.58,181.82 L560.29,181.83 L559.07,181.83 L557.92,181.82 L556.83,181.82 L555.79,181.8 L554.8,181.78 L553.85,181.76 L552.95,181.73 L552.08,181.7 L551.25,181.67 L550.45,181.62 L549.68,181.58 L548.95,181.53 L548.24,181.47 L547.56,181.41 L546.91,181.35 L546.28,181.29 L545.68,181.21 L545.1,181.14 L544.55,181.06 L544.02,180.98 L543.51,180.89 L543.02,180.8 L542.55,180.71 L542.1,180.62 L541.67,180.52 L541.26,180.42 L540.87,180.31 L540.5,180.2 L540.15,180.09 L539.82,179.98 L539.51,179.86 L539.21,179.74 L538.93,179.62 L538.67,179.5 L538.43,179.38 L538.2,179.25 L537.99,179.12 L537.8,178.99 L537.63,178.86 L537.47,178.73 L537.33,178.6 L537.2,178.46 L537.1,178.33 L537.01,178.19 L536.93,178.05 L536.87,177.92 L536.83,177.78 L536.81,177.64 L536.8,177.5" fill="none" stroke="#e8eef5" stroke-width="7" stroke-linecap="butt" opacity="0.6"/>
<path d="M651.2,170.25 L651.19,170.51 L651.17,170.77 L651.13,171.03 L651.07,171.29 L650.99,171.54 L650.9,171.8 L650.8,172.06 L650.67,172.31 L650.53,172.57 L650.37,172.82 L650.2,173.07 L650.01,173.32 L649.8,173.57 L649.57,173.82 L649.33,174.06 L649.07,174.31 L648.79,174.55 L648.49,174.79 L648.18,175.02 L647.85,175.26 L647.5,175.49 L647.13,175.72 L646.74,175.94 L646.33,176.17 L645.9,176.39 L645.45,176.6 L644.98,176.82 L644.49,177.03 L643.98,177.23 L643.45,177.44 L642.9,177.64 L642.32,177.83 L641.72,178.02 L641.09,178.21 L640.44,178.39 L639.76,178.57 L639.05,178.75 L638.32,178.92 L637.55,179.09 L636.75,179.25 L635.92,179.41 L635.05,179.56 L634.15,179.71 L633.2,179.85 L632.21,179.99 L631.17,180.12 L630.08,180.25 L628.93,180.38 L627.71,180.5 L626.42,180.61 L625.05,180.72 L623.57,180.83 L621.98,180.92 L620.24,181.02 L618.32,181.11 L616.16,181.19 L613.64,181.27 L610.57,181.34 L606.39,181.41 L594.0,181.47 L581.61,181.53 L577.43,181.59 L574.36,181.63 L571.84,181.68 L569.68,181.71 L567.76,181.74 L566.02,181.77 L564.43,181.79 L562.95,181.81 L561.58,181.82 L560.29,181.83 L559.07,181.83 L557.92,181.82 L556.83,181.82 L555.79,181.8 L554.8,181.78 L553.85,181.76 L552.95,181.73 L552.08,181.7 L551.25,181.67 L550.45,181.62 L549.68,181.58 L548.95,181.53 L548.24,181.47 L547.56,181.41 L546.91,181.35 L546.28,181.29 L545.68,181.21 L545.1,181.14 L544.55,181.06 L544.02,180.98 L543.51,180.89 L543.02,180.8 L542.55,180.71 L542.1,180.62 L541.67,180.52 L541.26,180.42 L540.87,180.31 L540.5,180.2 L540.15,180.09 L539.82,179.98 L539.51,179.86 L539.21,179.74 L538.93,179.62 L538.67,179.5 L538.43,179.38 L538.2,179.25 L537.99,179.12 L537.8,178.99 L537.63,178.86 L537.47,178.73 L537.33,178.6 L537.2,178.46 L537.1,178.33 L537.01,178.19 L536.93,178.05 L536.87,177.92 L536.83,177.78 L536.81,177.64 L536.8,177.5" fill="none" stroke="#0c1729" stroke-width="5.7" stroke-linecap="butt"/>
<path d="M651.2,170.25 L651.19,170.51 L651.17,170.77 L651.13,171.03 L651.07,171.29 L650.99,171.54 L650.9,171.8 L650.8,172.06 L650.67,172.31 L650.53,172.57 L650.37,172.82 L650.2,173.07 L650.01,173.32 L649.8,173.57 L649.57,173.82 L649.33,174.06 L649.07,174.31 L648.79,174.55 L648.49,174.79 L648.18,175.02 L647.85,175.26 L647.5,175.49 L647.13,175.72 L646.74,175.94 L646.33,176.17 L645.9,176.39 L645.45,176.6 L644.98,176.82 L644.49,177.03 L643.98,177.23 L643.45,177.44 L642.9,177.64 L642.32,177.83 L641.72,178.02 L641.09,178.21 L640.44,178.39 L639.76,178.57 L639.05,178.75 L638.32,178.92 L637.55,179.09 L636.75,179.25 L635.92,179.41 L635.05,179.56 L634.15,179.71 L633.2,179.85 L632.21,179.99 L631.17,180.12 L630.08,180.25 L628.93,180.38 L627.71,180.5 L626.42,180.61 L625.05,180.72 L623.57,180.83 L621.98,180.92 L620.24,181.02 L618.32,181.11 L616.16,181.19 L613.64,181.27 L610.57,181.34 L606.39,181.41 L594.0,181.47 L581.61,181.53 L577.43,181.59 L574.36,181.63 L571.84,181.68 L569.68,181.71 L567.76,181.74 L566.02,181.77 L564.43,181.79 L562.95,181.81 L561.58,181.82 L560.29,181.83 L559.07,181.83 L557.92,181.82 L556.83,181.82 L555.79,181.8 L554.8,181.78 L553.85,181.76 L552.95,181.73 L552.08,181.7 L551.25,181.67 L550.45,181.62 L549.68,181.58 L548.95,181.53 L548.24,181.47 L547.56,181.41 L546.91,181.35 L546.28,181.29 L545.68,181.21 L545.1,181.14 L544.55,181.06 L544.02,180.98 L543.51,180.89 L543.02,180.8 L542.55,180.71 L542.1,180.62 L541.67,180.52 L541.26,180.42 L540.87,180.31 L540.5,180.2 L540.15,180.09 L539.82,179.98 L539.51,179.86 L539.21,179.74 L538.93,179.62 L538.67,179.5 L538.43,179.38 L538.2,179.25 L537.99,179.12 L537.8,178.99 L537.63,178.86 L537.47,178.73 L537.33,178.6 L537.2,178.46 L537.1,178.33 L537.01,178.19 L536.93,178.05 L536.87,177.92 L536.83,177.78 L536.81,177.64 L536.8,177.5" fill="none" stroke="#4f7eb2" stroke-width="1.9" stroke-linecap="butt"/>
<path d="M651.2,184.75 L651.19,185.01 L651.17,185.27 L651.13,185.53 L651.07,185.79 L650.99,186.04 L650.9,186.3 L650.8,186.56 L650.67,186.81 L650.53,187.07 L650.37,187.32 L650.2,187.57 L650.01,187.82 L649.8,188.07 L649.57,188.32 L649.33,188.56 L649.07,188.81 L648.79,189.05 L648.49,189.29 L648.18,189.52 L647.85,189.76 L647.5,189.99 L647.13,190.22 L646.74,190.44 L646.33,190.67 L645.9,190.89 L645.45,191.1 L644.98,191.32 L644.49,191.53 L643.98,191.73 L643.45,191.94 L642.9,192.14 L642.32,192.33 L641.72,192.52 L641.09,192.71 L640.44,192.89 L639.76,193.07 L639.05,193.25 L638.32,193.42 L637.55,193.59 L636.75,193.75 L635.92,193.91 L635.05,194.06 L634.15,194.21 L633.2,194.35 L632.21,194.49 L631.17,194.62 L630.08,194.75 L628.93,194.88 L627.71,195.0 L626.42,195.11 L625.05,195.22 L623.57,195.33 L621.98,195.42 L620.24,195.52 L618.32,195.61 L616.16,195.69 L613.64,195.77 L610.57,195.84 L606.39,195.91 L594.0,195.97 L581.61,196.03 L577.43,196.09 L574.36,196.13 L571.84,196.18 L569.68,196.21 L567.76,196.24 L566.02,196.27 L564.43,196.29 L562.95,196.31 L561.58,196.32 L560.29,196.33 L559.07,196.33 L557.92,196.32 L556.83,196.32 L555.79,196.3 L554.8,196.28 L553.85,196.26 L552.95,196.23 L552.08,196.2 L551.25,196.17 L550.45,196.12 L549.68,196.08 L548.95,196.03 L548.24,195.97 L547.56,195.91 L546.91,195.85 L546.28,195.79 L545.68,195.71 L545.1,195.64 L544.55,195.56 L544.02,195.48 L543.51,195.39 L543.02,195.3 L542.55,195.21 L542.1,195.12 L541.67,195.02 L541.26,194.92 L540.87,194.81 L540.5,194.7 L540.15,194.59 L539.82,194.48 L539.51,194.36 L539.21,194.24 L538.93,194.12 L538.67,194.0 L538.43,193.88 L538.2,193.75 L537.99,193.62 L537.8,193.49 L537.63,193.36 L537.47,193.23 L537.33,193.1 L537.2,192.96 L537.1,192.83 L537.01,192.69 L536.93,192.55 L536.87,192.42 L536.83,192.28 L536.81,192.14 L536.8,192.0" fill="none" stroke="#e8eef5" stroke-width="7" stroke-linecap="butt" opacity="0.6"/>
<path d="M651.2,184.75 L651.19,185.01 L651.17,185.27 L651.13,185.53 L651.07,185.79 L650.99,186.04 L650.9,186.3 L650.8,186.56 L650.67,186.81 L650.53,187.07 L650.37,187.32 L650.2,187.57 L650.01,187.82 L649.8,188.07 L649.57,188.32 L649.33,188.56 L649.07,188.81 L648.79,189.05 L648.49,189.29 L648.18,189.52 L647.85,189.76 L647.5,189.99 L647.13,190.22 L646.74,190.44 L646.33,190.67 L645.9,190.89 L645.45,191.1 L644.98,191.32 L644.49,191.53 L643.98,191.73 L643.45,191.94 L642.9,192.14 L642.32,192.33 L641.72,192.52 L641.09,192.71 L640.44,192.89 L639.76,193.07 L639.05,193.25 L638.32,193.42 L637.55,193.59 L636.75,193.75 L635.92,193.91 L635.05,194.06 L634.15,194.21 L633.2,194.35 L632.21,194.49 L631.17,194.62 L630.08,194.75 L628.93,194.88 L627.71,195.0 L626.42,195.11 L625.05,195.22 L623.57,195.33 L621.98,195.42 L620.24,195.52 L618.32,195.61 L616.16,195.69 L613.64,195.77 L610.57,195.84 L606.39,195.91 L594.0,195.97 L581.61,196.03 L577.43,196.09 L574.36,196.13 L571.84,196.18 L569.68,196.21 L567.76,196.24 L566.02,196.27 L564.43,196.29 L562.95,196.31 L561.58,196.32 L560.29,196.33 L559.07,196.33 L557.92,196.32 L556.83,196.32 L555.79,196.3 L554.8,196.28 L553.85,196.26 L552.95,196.23 L552.08,196.2 L551.25,196.17 L550.45,196.12 L549.68,196.08 L548.95,196.03 L548.24,195.97 L547.56,195.91 L546.91,195.85 L546.28,195.79 L545.68,195.71 L545.1,195.64 L544.55,195.56 L544.02,195.48 L543.51,195.39 L543.02,195.3 L542.55,195.21 L542.1,195.12 L541.67,195.02 L541.26,194.92 L540.87,194.81 L540.5,194.7 L540.15,194.59 L539.82,194.48 L539.51,194.36 L539.21,194.24 L538.93,194.12 L538.67,194.0 L538.43,193.88 L538.2,193.75 L537.99,193.62 L537.8,193.49 L537.63,193.36 L537.47,193.23 L537.33,193.1 L537.2,192.96 L537.1,192.83 L537.01,192.69 L536.93,192.55 L536.87,192.42 L536.83,192.28 L536.81,192.14 L536.8,192.0" fill="none" stroke="#0c1729" stroke-width="5.7" stroke-linecap="butt"/>
<path d="M651.2,184.75 L651.19,185.01 L651.17,185.27 L651.13,185.53 L651.07,185.79 L650.99,186.04 L650.9,186.3 L650.8,186.56 L650.67,186.81 L650.53,187.07 L650.37,187.32 L650.2,187.57 L650.01,187.82 L649.8,188.07 L649.57,188.32 L649.33,188.56 L649.07,188.81 L648.79,189.05 L648.49,189.29 L648.18,189.52 L647.85,189.76 L647.5,189.99 L647.13,190.22 L646.74,190.44 L646.33,190.67 L645.9,190.89 L645.45,191.1 L644.98,191.32 L644.49,191.53 L643.98,191.73 L643.45,191.94 L642.9,192.14 L642.32,192.33 L641.72,192.52 L641.09,192.71 L640.44,192.89 L639.76,193.07 L639.05,193.25 L638.32,193.42 L637.55,193.59 L636.75,193.75 L635.92,193.91 L635.05,194.06 L634.15,194.21 L633.2,194.35 L632.21,194.49 L631.17,194.62 L630.08,194.75 L628.93,194.88 L627.71,195.0 L626.42,195.11 L625.05,195.22 L623.57,195.33 L621.98,195.42 L620.24,195.52 L618.32,195.61 L616.16,195.69 L613.64,195.77 L610.57,195.84 L606.39,195.91 L594.0,195.97 L581.61,196.03 L577.43,196.09 L574.36,196.13 L571.84,196.18 L569.68,196.21 L567.76,196.24 L566.02,196.27 L564.43,196.29 L562.95,196.31 L561.58,196.32 L560.29,196.33 L559.07,196.33 L557.92,196.32 L556.83,196.32 L555.79,196.3 L554.8,196.28 L553.85,196.26 L552.95,196.23 L552.08,196.2 L551.25,196.17 L550.45,196.12 L549.68,196.08 L548.95,196.03 L548.24,195.97 L547.56,195.91 L546.91,195.85 L546.28,195.79 L545.68,195.71 L545.1,195.64 L544.55,195.56 L544.02,195.48 L543.51,195.39 L543.02,195.3 L542.55,195.21 L542.1,195.12 L541.67,195.02 L541.26,194.92 L540.87,194.81 L540.5,194.7 L540.15,194.59 L539.82,194.48 L539.51,194.36 L539.21,194.24 L538.93,194.12 L538.67,194.0 L538.43,193.88 L538.2,193.75 L537.99,193.62 L537.8,193.49 L537.63,193.36 L537.47,193.23 L537.33,193.1 L537.2,192.96 L537.1,192.83 L537.01,192.69 L536.93,192.55 L536.87,192.42 L536.83,192.28 L536.81,192.14 L536.8,192.0" fill="none" stroke="#4f7eb2" stroke-width="1.9" stroke-linecap="butt"/>
<path d="M651.2,199.25 L651.19,199.51 L651.17,199.77 L651.13,200.03 L651.07,200.29 L650.99,200.54 L650.9,200.8 L650.8,201.06 L650.67,201.31 L650.53,201.57 L650.37,201.82 L650.2,202.07 L650.01,202.32 L649.8,202.57 L649.57,202.82 L649.33,203.06 L649.07,203.31 L648.79,203.55 L648.49,203.79 L648.18,204.02 L647.85,204.26 L647.5,204.49 L647.13,204.72 L646.74,204.94 L646.33,205.17 L645.9,205.39 L645.45,205.6 L644.98,205.82 L644.49,206.03 L643.98,206.23 L643.45,206.44 L642.9,206.64 L642.32,206.83 L641.72,207.02 L641.09,207.21 L640.44,207.39 L639.76,207.57 L639.05,207.75 L638.32,207.92 L637.55,208.09 L636.75,208.25 L635.92,208.41 L635.05,208.56 L634.15,208.71 L633.2,208.85 L632.21,208.99 L631.17,209.12 L630.08,209.25 L628.93,209.38 L627.71,209.5 L626.42,209.61 L625.05,209.72 L623.57,209.83 L621.98,209.92 L620.24,210.02 L618.32,210.11 L616.16,210.19 L613.64,210.27 L610.57,210.34 L606.39,210.41 L594.0,210.47 L581.61,210.53 L577.43,210.59 L574.36,210.63 L571.84,210.68 L569.68,210.71 L567.76,210.74 L566.02,210.77 L564.43,210.79 L562.95,210.81 L561.58,210.82 L560.29,210.83 L559.07,210.83 L557.92,210.82 L556.83,210.82 L555.79,210.8 L554.8,210.78 L553.85,210.76 L552.95,210.73 L552.08,210.7 L551.25,210.67 L550.45,210.62 L549.68,210.58 L548.95,210.53 L548.24,210.47 L547.56,210.41 L546.91,210.35 L546.28,210.29 L545.68,210.21 L545.1,210.14 L544.55,210.06 L544.02,209.98 L543.51,209.89 L543.02,209.8 L542.55,209.71 L542.1,209.62 L541.67,209.52 L541.26,209.42 L540.87,209.31 L540.5,209.2 L540.15,209.09 L539.82,208.98 L539.51,208.86 L539.21,208.74 L538.93,208.62 L538.67,208.5 L538.43,208.38 L538.2,208.25 L537.99,208.12 L537.8,207.99 L537.63,207.86 L537.47,207.73 L537.33,207.6 L537.2,207.46 L537.1,207.33 L537.01,207.19 L536.93,207.05 L536.87,206.92 L536.83,206.78 L536.81,206.64 L536.8,206.5" fill="none" stroke="#e8eef5" stroke-width="7" stroke-linecap="butt" opacity="0.6"/>
<path d="M651.2,199.25 L651.19,199.51 L651.17,199.77 L651.13,200.03 L651.07,200.29 L650.99,200.54 L650.9,200.8 L650.8,201.06 L650.67,201.31 L650.53,201.57 L650.37,201.82 L650.2,202.07 L650.01,202.32 L649.8,202.57 L649.57,202.82 L649.33,203.06 L649.07,203.31 L648.79,203.55 L648.49,203.79 L648.18,204.02 L647.85,204.26 L647.5,204.49 L647.13,204.72 L646.74,204.94 L646.33,205.17 L645.9,205.39 L645.45,205.6 L644.98,205.82 L644.49,206.03 L643.98,206.23 L643.45,206.44 L642.9,206.64 L642.32,206.83 L641.72,207.02 L641.09,207.21 L640.44,207.39 L639.76,207.57 L639.05,207.75 L638.32,207.92 L637.55,208.09 L636.75,208.25 L635.92,208.41 L635.05,208.56 L634.15,208.71 L633.2,208.85 L632.21,208.99 L631.17,209.12 L630.08,209.25 L628.93,209.38 L627.71,209.5 L626.42,209.61 L625.05,209.72 L623.57,209.83 L621.98,209.92 L620.24,210.02 L618.32,210.11 L616.16,210.19 L613.64,210.27 L610.57,210.34 L606.39,210.41 L594.0,210.47 L581.61,210.53 L577.43,210.59 L574.36,210.63 L571.84,210.68 L569.68,210.71 L567.76,210.74 L566.02,210.77 L564.43,210.79 L562.95,210.81 L561.58,210.82 L560.29,210.83 L559.07,210.83 L557.92,210.82 L556.83,210.82 L555.79,210.8 L554.8,210.78 L553.85,210.76 L552.95,210.73 L552.08,210.7 L551.25,210.67 L550.45,210.62 L549.68,210.58 L548.95,210.53 L548.24,210.47 L547.56,210.41 L546.91,210.35 L546.28,210.29 L545.68,210.21 L545.1,210.14 L544.55,210.06 L544.02,209.98 L543.51,209.89 L543.02,209.8 L542.55,209.71 L542.1,209.62 L541.67,209.52 L541.26,209.42 L540.87,209.31 L540.5,209.2 L540.15,209.09 L539.82,208.98 L539.51,208.86 L539.21,208.74 L538.93,208.62 L538.67,208.5 L538.43,208.38 L538.2,208.25 L537.99,208.12 L537.8,207.99 L537.63,207.86 L537.47,207.73 L537.33,207.6 L537.2,207.46 L537.1,207.33 L537.01,207.19 L536.93,207.05 L536.87,206.92 L536.83,206.78 L536.81,206.64 L536.8,206.5" fill="none" stroke="#0c1729" stroke-width="5.7" stroke-linecap="butt"/>
<path d="M651.2,199.25 L651.19,199.51 L651.17,199.77 L651.13,200.03 L651.07,200.29 L650.99,200.54 L650.9,200.8 L650.8,201.06 L650.67,201.31 L650.53,201.57 L650.37,201.82 L650.2,202.07 L650.01,202.32 L649.8,202.57 L649.57,202.82 L649.33,203.06 L649.07,203.31 L648.79,203.55 L648.49,203.79 L648.18,204.02 L647.85,204.26 L647.5,204.49 L647.13,204.72 L646.74,204.94 L646.33,205.17 L645.9,205.39 L645.45,205.6 L644.98,205.82 L644.49,206.03 L643.98,206.23 L643.45,206.44 L642.9,206.64 L642.32,206.83 L641.72,207.02 L641.09,207.21 L640.44,207.39 L639.76,207.57 L639.05,207.75 L638.32,207.92 L637.55,208.09 L636.75,208.25 L635.92,208.41 L635.05,208.56 L634.15,208.71 L633.2,208.85 L632.21,208.99 L631.17,209.12 L630.08,209.25 L628.93,209.38 L627.71,209.5 L626.42,209.61 L625.05,209.72 L623.57,209.83 L621.98,209.92 L620.24,210.02 L618.32,210.11 L616.16,210.19 L613.64,210.27 L610.57,210.34 L606.39,210.41 L594.0,210.47 L581.61,210.53 L577.43,210.59 L574.36,210.63 L571.84,210.68 L569.68,210.71 L567.76,210.74 L566.02,210.77 L564.43,210.79 L562.95,210.81 L561.58,210.82 L560.29,210.83 L559.07,210.83 L557.92,210.82 L556.83,210.82 L555.79,210.8 L554.8,210.78 L553.85,210.76 L552.95,210.73 L552.08,210.7 L551.25,210.67 L550.45,210.62 L549.68,210.58 L548.95,210.53 L548.24,210.47 L547.56,210.41 L546.91,210.35 L546.28,210.29 L545.68,210.21 L545.1,210.14 L544.55,210.06 L544.02,209.98 L543.51,209.89 L543.02,209.8 L542.55,209.71 L542.1,209.62 L541.67,209.52 L541.26,209.42 L540.87,209.31 L540.5,209.2 L540.15,209.09 L539.82,208.98 L539.51,208.86 L539.21,208.74 L538.93,208.62 L538.67,208.5 L538.43,208.38 L538.2,208.25 L537.99,208.12 L537.8,207.99 L537.63,207.86 L537.47,207.73 L537.33,207.6 L537.2,207.46 L537.1,207.33 L537.01,207.19 L536.93,207.05 L536.87,206.92 L536.83,206.78 L536.81,206.64 L536.8,206.5" fill="none" stroke="#4f7eb2" stroke-width="1.9" stroke-linecap="butt"/>
<path d="M651.2,213.75 L651.19,214.01 L651.17,214.27 L651.13,214.53 L651.07,214.79 L650.99,215.04 L650.9,215.3 L650.8,215.56 L650.67,215.81 L650.53,216.07 L650.37,216.32 L650.2,216.57 L650.01,216.82 L649.8,217.07 L649.57,217.32 L649.33,217.56 L649.07,217.81 L648.79,218.05 L648.49,218.29 L648.18,218.52 L647.85,218.76 L647.5,218.99 L647.13,219.22 L646.74,219.44 L646.33,219.67 L645.9,219.89 L645.45,220.1 L644.98,220.32 L644.49,220.53 L643.98,220.73 L643.45,220.94 L642.9,221.14 L642.32,221.33 L641.72,221.52 L641.09,221.71 L640.44,221.89 L639.76,222.07 L639.05,222.25 L638.32,222.42 L637.55,222.59 L636.75,222.75 L635.92,222.91 L635.05,223.06 L634.15,223.21 L633.2,223.35 L632.21,223.49 L631.17,223.62 L630.08,223.75 L628.93,223.88 L627.71,224.0 L626.42,224.11 L625.05,224.22 L623.57,224.33 L621.98,224.42 L620.24,224.52 L618.32,224.61 L616.16,224.69 L613.64,224.77 L610.57,224.84 L606.39,224.91 L594.0,224.97 L581.61,225.03 L577.43,225.09 L574.36,225.13 L571.84,225.18 L569.68,225.21 L567.76,225.24 L566.02,225.27 L564.43,225.29 L562.95,225.31 L561.58,225.32 L560.29,225.33 L559.07,225.33 L557.92,225.32 L556.83,225.32 L555.79,225.3 L554.8,225.28 L553.85,225.26 L552.95,225.23 L552.08,225.2 L551.25,225.17 L550.45,225.12 L549.68,225.08 L548.95,225.03 L548.24,224.97 L547.56,224.91 L546.91,224.85 L546.28,224.79 L545.68,224.71 L545.1,224.64 L544.55,224.56 L544.02,224.48 L543.51,224.39 L543.02,224.3 L542.55,224.21 L542.1,224.12 L541.67,224.02 L541.26,223.92 L540.87,223.81 L540.5,223.7 L540.15,223.59 L539.82,223.48 L539.51,223.36 L539.21,223.24 L538.93,223.12 L538.67,223.0 L538.43,222.88 L538.2,222.75 L537.99,222.62 L537.8,222.49 L537.63,222.36 L537.47,222.23 L537.33,222.1 L537.2,221.96 L537.1,221.83 L537.01,221.69 L536.93,221.55 L536.87,221.42 L536.83,221.28 L536.81,221.14 L536.8,221.0" fill="none" stroke="#e8eef5" stroke-width="7" stroke-linecap="butt" opacity="0.6"/>
<path d="M651.2,213.75 L651.19,214.01 L651.17,214.27 L651.13,214.53 L651.07,214.79 L650.99,215.04 L650.9,215.3 L650.8,215.56 L650.67,215.81 L650.53,216.07 L650.37,216.32 L650.2,216.57 L650.01,216.82 L649.8,217.07 L649.57,217.32 L649.33,217.56 L649.07,217.81 L648.79,218.05 L648.49,218.29 L648.18,218.52 L647.85,218.76 L647.5,218.99 L647.13,219.22 L646.74,219.44 L646.33,219.67 L645.9,219.89 L645.45,220.1 L644.98,220.32 L644.49,220.53 L643.98,220.73 L643.45,220.94 L642.9,221.14 L642.32,221.33 L641.72,221.52 L641.09,221.71 L640.44,221.89 L639.76,222.07 L639.05,222.25 L638.32,222.42 L637.55,222.59 L636.75,222.75 L635.92,222.91 L635.05,223.06 L634.15,223.21 L633.2,223.35 L632.21,223.49 L631.17,223.62 L630.08,223.75 L628.93,223.88 L627.71,224.0 L626.42,224.11 L625.05,224.22 L623.57,224.33 L621.98,224.42 L620.24,224.52 L618.32,224.61 L616.16,224.69 L613.64,224.77 L610.57,224.84 L606.39,224.91 L594.0,224.97 L581.61,225.03 L577.43,225.09 L574.36,225.13 L571.84,225.18 L569.68,225.21 L567.76,225.24 L566.02,225.27 L564.43,225.29 L562.95,225.31 L561.58,225.32 L560.29,225.33 L559.07,225.33 L557.92,225.32 L556.83,225.32 L555.79,225.3 L554.8,225.28 L553.85,225.26 L552.95,225.23 L552.08,225.2 L551.25,225.17 L550.45,225.12 L549.68,225.08 L548.95,225.03 L548.24,224.97 L547.56,224.91 L546.91,224.85 L546.28,224.79 L545.68,224.71 L545.1,224.64 L544.55,224.56 L544.02,224.48 L543.51,224.39 L543.02,224.3 L542.55,224.21 L542.1,224.12 L541.67,224.02 L541.26,223.92 L540.87,223.81 L540.5,223.7 L540.15,223.59 L539.82,223.48 L539.51,223.36 L539.21,223.24 L538.93,223.12 L538.67,223.0 L538.43,222.88 L538.2,222.75 L537.99,222.62 L537.8,222.49 L537.63,222.36 L537.47,222.23 L537.33,222.1 L537.2,221.96 L537.1,221.83 L537.01,221.69 L536.93,221.55 L536.87,221.42 L536.83,221.28 L536.81,221.14 L536.8,221.0" fill="none" stroke="#0c1729" stroke-width="5.7" stroke-linecap="butt"/>
<path d="M651.2,213.75 L651.19,214.01 L651.17,214.27 L651.13,214.53 L651.07,214.79 L650.99,215.04 L650.9,215.3 L650.8,215.56 L650.67,215.81 L650.53,216.07 L650.37,216.32 L650.2,216.57 L650.01,216.82 L649.8,217.07 L649.57,217.32 L649.33,217.56 L649.07,217.81 L648.79,218.05 L648.49,218.29 L648.18,218.52 L647.85,218.76 L647.5,218.99 L647.13,219.22 L646.74,219.44 L646.33,219.67 L645.9,219.89 L645.45,220.1 L644.98,220.32 L644.49,220.53 L643.98,220.73 L643.45,220.94 L642.9,221.14 L642.32,221.33 L641.72,221.52 L641.09,221.71 L640.44,221.89 L639.76,222.07 L639.05,222.25 L638.32,222.42 L637.55,222.59 L636.75,222.75 L635.92,222.91 L635.05,223.06 L634.15,223.21 L633.2,223.35 L632.21,223.49 L631.17,223.62 L630.08,223.75 L628.93,223.88 L627.71,224.0 L626.42,224.11 L625.05,224.22 L623.57,224.33 L621.98,224.42 L620.24,224.52 L618.32,224.61 L616.16,224.69 L613.64,224.77 L610.57,224.84 L606.39,224.91 L594.0,224.97 L581.61,225.03 L577.43,225.09 L574.36,225.13 L571.84,225.18 L569.68,225.21 L567.76,225.24 L566.02,225.27 L564.43,225.29 L562.95,225.31 L561.58,225.32 L560.29,225.33 L559.07,225.33 L557.92,225.32 L556.83,225.32 L555.79,225.3 L554.8,225.28 L553.85,225.26 L552.95,225.23 L552.08,225.2 L551.25,225.17 L550.45,225.12 L549.68,225.08 L548.95,225.03 L548.24,224.97 L547.56,224.91 L546.91,224.85 L546.28,224.79 L545.68,224.71 L545.1,224.64 L544.55,224.56 L544.02,224.48 L543.51,224.39 L543.02,224.3 L542.55,224.21 L542.1,224.12 L541.67,224.02 L541.26,223.92 L540.87,223.81 L540.5,223.7 L540.15,223.59 L539.82,223.48 L539.51,223.36 L539.21,223.24 L538.93,223.12 L538.67,223.0 L538.43,222.88 L538.2,222.75 L537.99,222.62 L537.8,222.49 L537.63,222.36 L537.47,222.23 L537.33,222.1 L537.2,221.96 L537.1,221.83 L537.01,221.69 L536.93,221.55 L536.87,221.42 L536.83,221.28 L536.81,221.14 L536.8,221.0" fill="none" stroke="#4f7eb2" stroke-width="1.9" stroke-linecap="butt"/>
<path d="M651.2,228.25 L651.19,228.51 L651.17,228.77 L651.13,229.03 L651.07,229.29 L650.99,229.54 L650.9,229.8 L650.8,230.06 L650.67,230.31 L650.53,230.57 L650.37,230.82 L650.2,231.07 L650.01,231.32 L649.8,231.57 L649.57,231.82 L649.33,232.06 L649.07,232.31 L648.79,232.55 L648.49,232.79 L648.18,233.02 L647.85,233.26 L647.5,233.49 L647.13,233.72 L646.74,233.94 L646.33,234.17 L645.9,234.39 L645.45,234.6 L644.98,234.82 L644.49,235.03 L643.98,235.23 L643.45,235.44 L642.9,235.64 L642.32,235.83 L641.72,236.02 L641.09,236.21 L640.44,236.39 L639.76,236.57 L639.05,236.75 L638.32,236.92 L637.55,237.09 L636.75,237.25 L635.92,237.41 L635.05,237.56 L634.15,237.71 L633.2,237.85 L632.21,237.99 L631.17,238.12 L630.08,238.25 L628.93,238.38 L627.71,238.5 L626.42,238.61 L625.05,238.72 L623.57,238.83 L621.98,238.92 L620.24,239.02 L618.32,239.11 L616.16,239.19 L613.64,239.27 L610.57,239.34 L606.39,239.41 L594.0,239.47 L581.61,239.53 L577.43,239.59 L574.36,239.63 L571.84,239.68 L569.68,239.71 L567.76,239.74 L566.02,239.77 L564.43,239.79 L562.95,239.81 L561.58,239.82 L560.29,239.83 L559.07,239.83 L557.92,239.82 L556.83,239.82 L555.79,239.8 L554.8,239.78 L553.85,239.76 L552.95,239.73 L552.08,239.7 L551.25,239.67 L550.45,239.62 L549.68,239.58 L548.95,239.53 L548.24,239.47 L547.56,239.41 L546.91,239.35 L546.28,239.29 L545.68,239.21 L545.1,239.14 L544.55,239.06 L544.02,238.98 L543.51,238.89 L543.02,238.8 L542.55,238.71 L542.1,238.62 L541.67,238.52 L541.26,238.42 L540.87,238.31 L540.5,238.2 L540.15,238.09 L539.82,237.98 L539.51,237.86 L539.21,237.74 L538.93,237.62 L538.67,237.5 L538.43,237.38 L538.2,237.25 L537.99,237.12 L537.8,236.99 L537.63,236.86 L537.47,236.73 L537.33,236.6 L537.2,236.46 L537.1,236.33 L537.01,236.19 L536.93,236.05 L536.87,235.92 L536.83,235.78 L536.81,235.64 L536.8,235.5" fill="none" stroke="#e8eef5" stroke-width="7" stroke-linecap="butt" opacity="0.6"/>
<path d="M651.2,228.25 L651.19,228.51 L651.17,228.77 L651.13,229.03 L651.07,229.29 L650.99,229.54 L650.9,229.8 L650.8,230.06 L650.67,230.31 L650.53,230.57 L650.37,230.82 L650.2,231.07 L650.01,231.32 L649.8,231.57 L649.57,231.82 L649.33,232.06 L649.07,232.31 L648.79,232.55 L648.49,232.79 L648.18,233.02 L647.85,233.26 L647.5,233.49 L647.13,233.72 L646.74,233.94 L646.33,234.17 L645.9,234.39 L645.45,234.6 L644.98,234.82 L644.49,235.03 L643.98,235.23 L643.45,235.44 L642.9,235.64 L642.32,235.83 L641.72,236.02 L641.09,236.21 L640.44,236.39 L639.76,236.57 L639.05,236.75 L638.32,236.92 L637.55,237.09 L636.75,237.25 L635.92,237.41 L635.05,237.56 L634.15,237.71 L633.2,237.85 L632.21,237.99 L631.17,238.12 L630.08,238.25 L628.93,238.38 L627.71,238.5 L626.42,238.61 L625.05,238.72 L623.57,238.83 L621.98,238.92 L620.24,239.02 L618.32,239.11 L616.16,239.19 L613.64,239.27 L610.57,239.34 L606.39,239.41 L594.0,239.47 L581.61,239.53 L577.43,239.59 L574.36,239.63 L571.84,239.68 L569.68,239.71 L567.76,239.74 L566.02,239.77 L564.43,239.79 L562.95,239.81 L561.58,239.82 L560.29,239.83 L559.07,239.83 L557.92,239.82 L556.83,239.82 L555.79,239.8 L554.8,239.78 L553.85,239.76 L552.95,239.73 L552.08,239.7 L551.25,239.67 L550.45,239.62 L549.68,239.58 L548.95,239.53 L548.24,239.47 L547.56,239.41 L546.91,239.35 L546.28,239.29 L545.68,239.21 L545.1,239.14 L544.55,239.06 L544.02,238.98 L543.51,238.89 L543.02,238.8 L542.55,238.71 L542.1,238.62 L541.67,238.52 L541.26,238.42 L540.87,238.31 L540.5,238.2 L540.15,238.09 L539.82,237.98 L539.51,237.86 L539.21,237.74 L538.93,237.62 L538.67,237.5 L538.43,237.38 L538.2,237.25 L537.99,237.12 L537.8,236.99 L537.63,236.86 L537.47,236.73 L537.33,236.6 L537.2,236.46 L537.1,236.33 L537.01,236.19 L536.93,236.05 L536.87,235.92 L536.83,235.78 L536.81,235.64 L536.8,235.5" fill="none" stroke="#0c1729" stroke-width="5.7" stroke-linecap="butt"/>
<path d="M651.2,228.25 L651.19,228.51 L651.17,228.77 L651.13,229.03 L651.07,229.29 L650.99,229.54 L650.9,229.8 L650.8,230.06 L650.67,230.31 L650.53,230.57 L650.37,230.82 L650.2,231.07 L650.01,231.32 L649.8,231.57 L649.57,231.82 L649.33,232.06 L649.07,232.31 L648.79,232.55 L648.49,232.79 L648.18,233.02 L647.85,233.26 L647.5,233.49 L647.13,233.72 L646.74,233.94 L646.33,234.17 L645.9,234.39 L645.45,234.6 L644.98,234.82 L644.49,235.03 L643.98,235.23 L643.45,235.44 L642.9,235.64 L642.32,235.83 L641.72,236.02 L641.09,236.21 L640.44,236.39 L639.76,236.57 L639.05,236.75 L638.32,236.92 L637.55,237.09 L636.75,237.25 L635.92,237.41 L635.05,237.56 L634.15,237.71 L633.2,237.85 L632.21,237.99 L631.17,238.12 L630.08,238.25 L628.93,238.38 L627.71,238.5 L626.42,238.61 L625.05,238.72 L623.57,238.83 L621.98,238.92 L620.24,239.02 L618.32,239.11 L616.16,239.19 L613.64,239.27 L610.57,239.34 L606.39,239.41 L594.0,239.47 L581.61,239.53 L577.43,239.59 L574.36,239.63 L571.84,239.68 L569.68,239.71 L567.76,239.74 L566.02,239.77 L564.43,239.79 L562.95,239.81 L561.58,239.82 L560.29,239.83 L559.07,239.83 L557.92,239.82 L556.83,239.82 L555.79,239.8 L554.8,239.78 L553.85,239.76 L552.95,239.73 L552.08,239.7 L551.25,239.67 L550.45,239.62 L549.68,239.58 L548.95,239.53 L548.24,239.47 L547.56,239.41 L546.91,239.35 L546.28,239.29 L545.68,239.21 L545.1,239.14 L544.55,239.06 L544.02,238.98 L543.51,238.89 L543.02,238.8 L542.55,238.71 L542.1,238.62 L541.67,238.52 L541.26,238.42 L540.87,238.31 L540.5,238.2 L540.15,238.09 L539.82,237.98 L539.51,237.86 L539.21,237.74 L538.93,237.62 L538.67,237.5 L538.43,237.38 L538.2,237.25 L537.99,237.12 L537.8,236.99 L537.63,236.86 L537.47,236.73 L537.33,236.6 L537.2,236.46 L537.1,236.33 L537.01,236.19 L536.93,236.05 L536.87,235.92 L536.83,235.78 L536.81,235.64 L536.8,235.5" fill="none" stroke="#4f7eb2" stroke-width="1.9" stroke-linecap="butt"/>
<path d="M651.2,242.75 L651.2,242.89 L651.19,243.03 L651.18,243.18 L651.16,243.32 L651.14,243.46 L651.11,243.6 L651.08,243.74 L651.04,243.88 L651.0,244.02 L650.95,244.16 L650.9,244.3 L650.85,244.45 L650.78,244.59 L650.72,244.72 L650.64,244.86 L650.57,245.0 L650.49,245.14 L650.4,245.28 L650.31,245.42 L650.21,245.56 L650.11,245.69 L650.0,245.83 L649.89,245.97 L649.77,246.1 L649.65,246.24 L649.52,246.37 L649.39,246.51 L649.25,246.64 L649.11,246.77 L648.96,246.9 L648.81,247.04 L648.65,247.17 L648.48,247.3 L648.31,247.43 L648.14,247.56 L647.96,247.68 L647.77,247.81 L647.58,247.94 L647.38,248.06 L647.18,248.19 L646.97,248.31 L646.75,248.44 L646.53,248.56 L646.31,248.68 L646.07,248.8 L645.84,248.92 L645.59,249.04 L645.34,249.16 L645.09,249.27 L644.82,249.39 L644.55,249.5 L644.28,249.62 L644.0,249.73 L643.71,249.84 L643.42,249.95 L643.11,250.06 L642.81,250.17 L642.49,250.27 L642.17,250.38 L641.84,250.48 L641.5,250.59 L641.16,250.69 L640.81,250.79 L640.45,250.89 L640.08,250.99 L639.7,251.09 L639.32,251.18 L638.93,251.28 L638.52,251.37 L638.11,251.46 L637.7,251.56 L637.27,251.65 L636.83,251.73 L636.38,251.82 L635.92,251.91 L635.45,251.99 L634.97,252.07 L634.48,252.15 L633.97,252.23 L633.46,252.31 L632.93,252.39 L632.39,252.47 L631.83,252.54 L631.26,252.61 L630.67,252.69 L630.06,252.76 L629.44,252.82 L628.8,252.89 L628.14,252.96 L627.46,253.02 L626.76,253.08 L626.03,253.14 L625.27,253.2 L624.49,253.26 L623.67,253.32 L622.82,253.37 L621.94,253.43 L621.0,253.48 L620.02,253.53 L618.98,253.58 L617.88,253.63 L616.7,253.67 L615.43,253.72 L614.04,253.76 L612.5,253.8 L610.75,253.84 L608.71,253.88 L606.17,253.91 L602.54,253.95 L588.68,253.98 L583.46,254.01 L580.5,254.05 L578.25,254.07 L576.37,254.1 L574.73,254.13 L573.27,254.15 L571.94,254.17 L570.71,254.19 L569.57,254.21 L568.5,254.23" fill="none" stroke="#e8eef5" stroke-width="7" stroke-linecap="butt" opacity="0.6"/>
<path d="M651.2,242.75 L651.2,242.89 L651.19,243.03 L651.18,243.18 L651.16,243.32 L651.14,243.46 L651.11,243.6 L651.08,243.74 L651.04,243.88 L651.0,244.02 L650.95,244.16 L650.9,244.3 L650.85,244.45 L650.78,244.59 L650.72,244.72 L650.64,244.86 L650.57,245.0 L650.49,245.14 L650.4,245.28 L650.31,245.42 L650.21,245.56 L650.11,245.69 L650.0,245.83 L649.89,245.97 L649.77,246.1 L649.65,246.24 L649.52,246.37 L649.39,246.51 L649.25,246.64 L649.11,246.77 L648.96,246.9 L648.81,247.04 L648.65,247.17 L648.48,247.3 L648.31,247.43 L648.14,247.56 L647.96,247.68 L647.77,247.81 L647.58,247.94 L647.38,248.06 L647.18,248.19 L646.97,248.31 L646.75,248.44 L646.53,248.56 L646.31,248.68 L646.07,248.8 L645.84,248.92 L645.59,249.04 L645.34,249.16 L645.09,249.27 L644.82,249.39 L644.55,249.5 L644.28,249.62 L644.0,249.73 L643.71,249.84 L643.42,249.95 L643.11,250.06 L642.81,250.17 L642.49,250.27 L642.17,250.38 L641.84,250.48 L641.5,250.59 L641.16,250.69 L640.81,250.79 L640.45,250.89 L640.08,250.99 L639.7,251.09 L639.32,251.18 L638.93,251.28 L638.52,251.37 L638.11,251.46 L637.7,251.56 L637.27,251.65 L636.83,251.73 L636.38,251.82 L635.92,251.91 L635.45,251.99 L634.97,252.07 L634.48,252.15 L633.97,252.23 L633.46,252.31 L632.93,252.39 L632.39,252.47 L631.83,252.54 L631.26,252.61 L630.67,252.69 L630.06,252.76 L629.44,252.82 L628.8,252.89 L628.14,252.96 L627.46,253.02 L626.76,253.08 L626.03,253.14 L625.27,253.2 L624.49,253.26 L623.67,253.32 L622.82,253.37 L621.94,253.43 L621.0,253.48 L620.02,253.53 L618.98,253.58 L617.88,253.63 L616.7,253.67 L615.43,253.72 L614.04,253.76 L612.5,253.8 L610.75,253.84 L608.71,253.88 L606.17,253.91 L602.54,253.95 L588.68,253.98 L583.46,254.01 L580.5,254.05 L578.25,254.07 L576.37,254.1 L574.73,254.13 L573.27,254.15 L571.94,254.17 L570.71,254.19 L569.57,254.21 L568.5,254.23" fill="none" stroke="#0c1729" stroke-width="5.7" stroke-linecap="butt"/>
<path d="M651.2,242.75 L651.2,242.89 L651.19,243.03 L651.18,243.18 L651.16,243.32 L651.14,243.46 L651.11,243.6 L651.08,243.74 L651.04,243.88 L651.0,244.02 L650.95,244.16 L650.9,244.3 L650.85,244.45 L650.78,244.59 L650.72,244.72 L650.64,244.86 L650.57,245.0 L650.49,245.14 L650.4,245.28 L650.31,245.42 L650.21,245.56 L650.11,245.69 L650.0,245.83 L649.89,245.97 L649.77,246.1 L649.65,246.24 L649.52,246.37 L649.39,246.51 L649.25,246.64 L649.11,246.77 L648.96,246.9 L648.81,247.04 L648.65,247.17 L648.48,247.3 L648.31,247.43 L648.14,247.56 L647.96,247.68 L647.77,247.81 L647.58,247.94 L647.38,248.06 L647.18,248.19 L646.97,248.31 L646.75,248.44 L646.53,248.56 L646.31,248.68 L646.07,248.8 L645.84,248.92 L645.59,249.04 L645.34,249.16 L645.09,249.27 L644.82,249.39 L644.55,249.5 L644.28,249.62 L644.0,249.73 L643.71,249.84 L643.42,249.95 L643.11,250.06 L642.81,250.17 L642.49,250.27 L642.17,250.38 L641.84,250.48 L641.5,250.59 L641.16,250.69 L640.81,250.79 L640.45,250.89 L640.08,250.99 L639.7,251.09 L639.32,251.18 L638.93,251.28 L638.52,251.37 L638.11,251.46 L637.7,251.56 L637.27,251.65 L636.83,251.73 L636.38,251.82 L635.92,251.91 L635.45,251.99 L634.97,252.07 L634.48,252.15 L633.97,252.23 L633.46,252.31 L632.93,252.39 L632.39,252.47 L631.83,252.54 L631.26,252.61 L630.67,252.69 L630.06,252.76 L629.44,252.82 L628.8,252.89 L628.14,252.96 L627.46,253.02 L626.76,253.08 L626.03,253.14 L625.27,253.2 L624.49,253.26 L623.67,253.32 L622.82,253.37 L621.94,253.43 L621.0,253.48 L620.02,253.53 L618.98,253.58 L617.88,253.63 L616.7,253.67 L615.43,253.72 L614.04,253.76 L612.5,253.8 L610.75,253.84 L608.71,253.88 L606.17,253.91 L602.54,253.95 L588.68,253.98 L583.46,254.01 L580.5,254.05 L578.25,254.07 L576.37,254.1 L574.73,254.13 L573.27,254.15 L571.94,254.17 L570.71,254.19 L569.57,254.21 L568.5,254.23" fill="none" stroke="#4f7eb2" stroke-width="1.9" stroke-linecap="butt"/>
<rect x="37" y="323.5" width="196.4" height="157.2" fill="none" stroke="#6a6a6a" stroke-width="1"/>
<path d="M35.5,480.7 L40,480.7" stroke="#6a6a6a" stroke-width="0.9"/>
<text x="32.8" y="483.9" font-size="8.8" text-anchor="end" fill="#3a3a3a" font-weight="normal" >0</text>
<path d="M35.5,402.1 L40,402.1" stroke="#6a6a6a" stroke-width="0.9"/>
<text x="32.8" y="405.3" font-size="8.8" text-anchor="end" fill="#3a3a3a" font-weight="normal" >0.5</text>
<path d="M35.5,323.5 L40,323.5" stroke="#6a6a6a" stroke-width="0.9"/>
<text x="32.8" y="326.7" font-size="8.8" text-anchor="end" fill="#3a3a3a" font-weight="normal" >1.0</text>
<path d="M40.1,480.7 L40.1,478.9 M49.1,480.7 L49.1,478.9 M56.5,480.7 L56.5,478.9 M62.8,480.7 L62.8,478.9 M68.2,480.7 L68.2,478.9 M72.9,480.7 L72.9,478.9 M77.2,480.7 L77.2,477.2 M105.3,480.7 L105.3,478.9 M121.7,480.7 L121.7,478.9 M133.3,480.7 L133.3,478.9 M142.3,480.7 L142.3,478.9 M149.7,480.7 L149.7,478.9 M156.0,480.7 L156.0,478.9 M161.4,480.7 L161.4,478.9 M166.1,480.7 L166.1,478.9 M170.4,480.7 L170.4,477.2 M198.5,480.7 L198.5,478.9 M214.9,480.7 L214.9,478.9 M226.5,480.7 L226.5,478.9 " stroke="#6a6a6a" stroke-width="0.9"/>
<text x="77.2" y="491.9" font-size="9.2" text-anchor="middle" fill="#444" font-weight="normal" >100</text>
<text x="168.4" y="491.9" font-size="9.2" text-anchor="middle" fill="#444" font-weight="normal" >1,000</text>
<text x="0" y="326.7" font-size="16" font-weight="bold" fill="#000">c</text>
<text x="11.8" y="399.5" font-size="10.3" text-anchor="middle" fill="#333" font-weight="normal" transform="rotate(-90 11.8 399.5)" >Water production rate (l h<tspan dy='-3' font-size='6.5'>−1</tspan><tspan dy='3'>)</tspan></text>
<path d="M44.00,474.58 L46.37,474.34 L48.74,474.06 L51.11,473.77 L53.48,473.44 L55.85,473.09 L58.22,472.71 L60.59,472.29 L62.96,471.84 L65.33,471.35 L67.70,470.82 L70.07,470.26 L72.44,469.65 L74.81,469.01 L77.17,468.32 L79.54,467.60 L81.91,466.83 L84.28,466.03 L86.65,465.19 L89.02,464.32 L91.39,463.42 L93.76,462.50 L96.13,461.55 L98.50,460.59 L100.87,459.61 L103.24,458.63 L105.61,457.65 L107.98,456.68 L110.35,455.72 L112.72,454.77 L115.09,453.85 L117.46,452.95 L119.83,452.07 L122.20,451.24 L124.57,450.43 L126.94,449.67 L129.31,448.94 L131.68,448.26 L134.05,447.61 L136.42,447.01 L138.78,446.44 L141.15,445.92 L143.52,445.43 L145.89,444.97 L148.26,444.56 L150.63,444.17 L153.00,443.82 L155.37,443.49 L157.74,443.20 L160.11,442.92 L162.48,442.68 L164.85,442.45 L167.22,442.25 L169.59,442.06 L171.96,441.89 L174.33,441.74 L176.70,441.60 L179.07,441.47 L181.44,441.36 L183.81,441.26 L186.18,441.16 L188.55,441.08 L190.92,441.00 L193.29,440.94 L195.66,440.88 L198.03,440.82 L200.39,440.77 L202.76,440.72 L205.13,440.68 L207.50,440.65 L209.87,440.61 L212.24,440.59 L214.61,440.56 L216.98,440.53 L219.35,440.51 L221.72,440.49 L224.09,440.48 L226.46,440.46 L228.83,440.45 L231.20,440.43" fill="none" stroke="#f2c66a" stroke-width="1.2" opacity="1.0" stroke-linejoin="round"/>
<path d="M44.00,468.18 L46.37,467.56 L48.74,466.91 L51.11,466.23 L53.48,465.51 L55.85,464.75 L58.22,463.95 L60.59,463.12 L62.96,462.26 L65.33,461.36 L67.70,460.42 L70.07,459.45 L72.44,458.45 L74.81,457.42 L77.17,456.36 L79.54,455.28 L81.91,454.17 L84.28,453.04 L86.65,451.90 L89.02,450.74 L91.39,449.58 L93.76,448.40 L96.13,447.23 L98.50,446.06 L100.87,444.89 L103.24,443.73 L105.61,442.59 L107.98,441.46 L110.35,440.35 L112.72,439.26 L115.09,438.20 L117.46,437.17 L119.83,436.17 L122.20,435.19 L124.57,434.26 L126.94,433.35 L129.31,432.48 L131.68,431.65 L134.05,430.85 L136.42,430.09 L138.78,429.37 L141.15,428.68 L143.52,428.03 L145.89,427.41 L148.26,426.83 L150.63,426.28 L153.00,425.76 L155.37,425.27 L157.74,424.81 L160.11,424.38 L162.48,423.97 L164.85,423.60 L167.22,423.24 L169.59,422.91 L171.96,422.60 L174.33,422.32 L176.70,422.05 L179.07,421.80 L181.44,421.57 L183.81,421.35 L186.18,421.15 L188.55,420.96 L190.92,420.79 L193.29,420.63 L195.66,420.48 L198.03,420.34 L200.39,420.21 L202.76,420.09 L205.13,419.98 L207.50,419.88 L209.87,419.79 L212.24,419.70 L214.61,419.62 L216.98,419.54 L219.35,419.47 L221.72,419.41 L224.09,419.35 L226.46,419.30 L228.83,419.25 L231.20,419.20" fill="none" stroke="#eba6b9" stroke-width="1.2" opacity="1.0" stroke-linejoin="round"/>
<path d="M44.00,457.36 L46.37,455.97 L48.74,454.60 L51.11,453.23 L53.48,451.88 L55.85,450.55 L58.22,449.22 L60.59,447.91 L62.96,446.61 L65.33,445.32 L67.70,444.05 L70.07,442.79 L72.44,441.55 L74.81,440.32 L77.17,439.10 L79.54,437.90 L81.91,436.72 L84.28,435.55 L86.65,434.39 L89.02,433.25 L91.39,432.13 L93.76,431.02 L96.13,429.92 L98.50,428.85 L100.87,427.78 L103.24,426.74 L105.61,425.71 L107.98,424.69 L110.35,423.69 L112.72,422.71 L115.09,421.74 L117.46,420.78 L119.83,419.85 L122.20,418.93 L124.57,418.02 L126.94,417.13 L129.31,416.25 L131.68,415.39 L134.05,414.55 L136.42,413.71 L138.78,412.90 L141.15,412.10 L143.52,411.31 L145.89,410.54 L148.26,409.78 L150.63,409.04 L153.00,408.31 L155.37,407.60 L157.74,406.90 L160.11,406.21 L162.48,405.53 L164.85,404.87 L167.22,404.23 L169.59,403.59 L171.96,402.97 L174.33,402.36 L176.70,401.76 L179.07,401.18 L181.44,400.61 L183.81,400.05 L186.18,399.50 L188.55,398.96 L190.92,398.44 L193.29,397.92 L195.66,397.42 L198.03,396.93 L200.39,396.45 L202.76,395.98 L205.13,395.52 L207.50,395.07 L209.87,394.63 L212.24,394.20 L214.61,393.78 L216.98,393.36 L219.35,392.96 L221.72,392.57 L224.09,392.19 L226.46,391.81 L228.83,391.44 L231.20,391.08" fill="none" stroke="#6ab0dc" stroke-width="1.2" opacity="1.0" stroke-linejoin="round"/>
<path d="M44.00,447.29 L46.24,445.88 L48.48,444.48 L50.72,443.10 L52.96,441.74 L55.20,440.39 L57.44,439.06 L59.68,437.75 L61.92,436.45 L64.16,435.17 L66.41,433.90 L68.65,432.65 L70.89,431.42 L73.13,430.20 L75.37,428.99 L77.61,427.80 L79.85,426.63 L82.09,425.47 L84.33,424.32 L86.57,423.19 L88.81,422.07 L91.05,420.96 L93.29,419.87 L95.53,418.79 L97.77,417.73 L100.01,416.67 L102.25,415.63 L104.49,414.61 L106.73,413.59 L108.97,412.59 L111.22,411.60 L113.46,410.62 L115.70,409.66 L117.94,408.70 L120.18,407.76 L122.42,406.83 L124.66,405.91 L126.90,405.01 L129.14,404.11 L131.38,403.22 L133.62,402.35 L135.86,401.48 L138.10,400.63 L140.34,399.79 L142.58,398.95 L144.82,398.13 L147.06,397.32 L149.30,396.52 L151.54,395.72 L153.78,394.94 L156.03,394.17 L158.27,393.40 L160.51,392.65 L162.75,391.90 L164.99,391.17 L167.23,390.44 L169.47,389.72 L171.71,389.01 L173.95,388.31 L176.19,387.62 L178.43,386.93 L180.67,386.26 L182.91,385.59 L185.15,384.93 L187.39,384.28 L189.63,383.64 L191.87,383.00 L194.11,382.37 L196.35,381.76 L198.59,381.14 L200.84,380.54 L203.08,379.94 L205.32,379.35 L207.56,378.77 L209.80,378.19 L212.04,377.62 L214.28,377.06 L216.52,376.51 L218.76,375.96 L221.00,375.42" fill="none" stroke="#c89ccb" stroke-width="1.2" opacity="1.0" stroke-linejoin="round"/>
<path d="M44.00,439.70 L46.09,438.44 L48.17,437.20 L50.26,435.96 L52.35,434.74 L54.44,433.52 L56.52,432.32 L58.61,431.13 L60.70,429.94 L62.79,428.77 L64.87,427.61 L66.96,426.45 L69.05,425.31 L71.14,424.18 L73.22,423.05 L75.31,421.94 L77.40,420.83 L79.48,419.74 L81.57,418.65 L83.66,417.58 L85.75,416.51 L87.83,415.45 L89.92,414.40 L92.01,413.36 L94.10,412.33 L96.18,411.31 L98.27,410.29 L100.36,409.29 L102.45,408.29 L104.53,407.30 L106.62,406.32 L108.71,405.35 L110.79,404.39 L112.88,403.43 L114.97,402.49 L117.06,401.55 L119.14,400.62 L121.23,399.70 L123.32,398.78 L125.41,397.87 L127.49,396.97 L129.58,396.08 L131.67,395.20 L133.76,394.32 L135.84,393.45 L137.93,392.59 L140.02,391.74 L142.11,390.89 L144.19,390.05 L146.28,389.22 L148.37,388.39 L150.45,387.58 L152.54,386.76 L154.63,385.96 L156.72,385.16 L158.80,384.37 L160.89,383.59 L162.98,382.81 L165.07,382.04 L167.15,381.28 L169.24,380.52 L171.33,379.77 L173.42,379.02 L175.50,378.28 L177.59,377.55 L179.68,376.83 L181.76,376.11 L183.85,375.39 L185.94,374.69 L188.03,373.99 L190.11,373.29 L192.20,372.60 L194.29,371.92 L196.38,371.24 L198.46,370.57 L200.55,369.90 L202.64,369.24 L204.73,368.59 L206.81,367.94 L208.90,367.29" fill="none" stroke="#4a4a4a" stroke-width="1.2" opacity="1.0" stroke-linejoin="round"/>
<path d="M143.2,449.9 L164.7,452.6 L182.1,443.2 L194.2,453.9 L207.6,448.6 L218.3,453.9" fill="none" stroke="#f2a900" stroke-width="1" stroke-dasharray="2,1.6"/>
<path d="M135.2,449.9 L151.2,449.9 M143.2,442.9 L143.2,456.9 M135.2,448.4 L135.2,451.4 M151.2,448.4 L151.2,451.4 M141.7,442.9 L144.7,442.9 M141.7,456.9 L144.7,456.9" stroke="#f2a900" stroke-width="0.9" fill="none"/>
<rect x="141.0" y="447.7" width="4.4" height="4.4" fill="#f2a900" transform="rotate(45 143.2 449.9)"/>
<path d="M159.7,452.6 L169.7,452.6 M164.7,447.6 L164.7,457.6 M159.7,451.1 L159.7,454.1 M169.7,451.1 L169.7,454.1 M163.2,447.6 L166.2,447.6 M163.2,457.6 L166.2,457.6" stroke="#f2a900" stroke-width="0.9" fill="none"/>
<rect x="162.5" y="450.40000000000003" width="4.4" height="4.4" fill="#f2a900" transform="rotate(45 164.7 452.6)"/>
<path d="M177.1,443.2 L187.1,443.2 M182.1,438.2 L182.1,448.2 M177.1,441.7 L177.1,444.7 M187.1,441.7 L187.1,444.7 M180.6,438.2 L183.6,438.2 M180.6,448.2 L183.6,448.2" stroke="#f2a900" stroke-width="0.9" fill="none"/>
<rect x="179.9" y="441.0" width="4.4" height="4.4" fill="#f2a900" transform="rotate(45 182.1 443.2)"/>
<path d="M189.2,453.9 L199.2,453.9 M194.2,448.9 L194.2,458.9 M189.2,452.4 L189.2,455.4 M199.2,452.4 L199.2,455.4 M192.7,448.9 L195.7,448.9 M192.7,458.9 L195.7,458.9" stroke="#f2a900" stroke-width="0.9" fill="none"/>
<rect x="192.0" y="451.7" width="4.4" height="4.4" fill="#f2a900" transform="rotate(45 194.2 453.9)"/>
<path d="M202.6,448.6 L212.6,448.6 M207.6,443.6 L207.6,453.6 M202.6,447.1 L202.6,450.1 M212.6,447.1 L212.6,450.1 M206.1,443.6 L209.1,443.6 M206.1,453.6 L209.1,453.6" stroke="#f2a900" stroke-width="0.9" fill="none"/>
<rect x="205.4" y="446.40000000000003" width="4.4" height="4.4" fill="#f2a900" transform="rotate(45 207.6 448.6)"/>
<path d="M213.3,453.9 L223.3,453.9 M218.3,448.9 L218.3,458.9 M213.3,452.4 L213.3,455.4 M223.3,452.4 L223.3,455.4 M216.8,448.9 L219.8,448.9 M216.8,458.9 L219.8,458.9" stroke="#f2a900" stroke-width="0.9" fill="none"/>
<rect x="216.10000000000002" y="451.7" width="4.4" height="4.4" fill="#f2a900" transform="rotate(45 218.3 453.9)"/>
<path d="M121.8,442.7 L148.6,435.2 L159.3,428.5 L175.4,423.1 L186.1,423 L197,423 L207.6,423.5" fill="none" stroke="#e2507a" stroke-width="1" stroke-dasharray="2,1.6"/>
<path d="M114.8,442.7 L128.8,442.7 M121.8,436.7 L121.8,448.7 M114.8,441.2 L114.8,444.2 M128.8,441.2 L128.8,444.2 M120.3,436.7 L123.3,436.7 M120.3,448.7 L123.3,448.7" stroke="#e2507a" stroke-width="0.9" fill="none"/>
<rect x="119.6" y="440.5" width="4.4" height="4.4" fill="#e2507a" transform="rotate(45 121.8 442.7)"/>
<path d="M144.6,435.2 L152.6,435.2 M148.6,432.2 L148.6,438.2 M144.6,433.7 L144.6,436.7 M152.6,433.7 L152.6,436.7 M147.1,432.2 L150.1,432.2 M147.1,438.2 L150.1,438.2" stroke="#e2507a" stroke-width="0.9" fill="none"/>
<rect x="146.4" y="433.0" width="4.4" height="4.4" fill="#e2507a" transform="rotate(45 148.6 435.2)"/>
<path d="M155.3,428.5 L163.3,428.5 M159.3,425.5 L159.3,431.5 M155.3,427.0 L155.3,430.0 M163.3,427.0 L163.3,430.0 M157.8,425.5 L160.8,425.5 M157.8,431.5 L160.8,431.5" stroke="#e2507a" stroke-width="0.9" fill="none"/>
<rect x="157.10000000000002" y="426.3" width="4.4" height="4.4" fill="#e2507a" transform="rotate(45 159.3 428.5)"/>
<path d="M171.4,423.1 L179.4,423.1 M175.4,420.1 L175.4,426.1 M171.4,421.6 L171.4,424.6 M179.4,421.6 L179.4,424.6 M173.9,420.1 L176.9,420.1 M173.9,426.1 L176.9,426.1" stroke="#e2507a" stroke-width="0.9" fill="none"/>
<rect x="173.20000000000002" y="420.90000000000003" width="4.4" height="4.4" fill="#e2507a" transform="rotate(45 175.4 423.1)"/>
<path d="M182.1,423 L190.1,423 M186.1,420 L186.1,426 M182.1,421.5 L182.1,424.5 M190.1,421.5 L190.1,424.5 M184.6,420 L187.6,420 M184.6,426 L187.6,426" stroke="#e2507a" stroke-width="0.9" fill="none"/>
<rect x="183.9" y="420.8" width="4.4" height="4.4" fill="#e2507a" transform="rotate(45 186.1 423)"/>
<path d="M193,423 L201,423 M197,420 L197,426 M193,421.5 L193,424.5 M201,421.5 L201,424.5 M195.5,420 L198.5,420 M195.5,426 L198.5,426" stroke="#e2507a" stroke-width="0.9" fill="none"/>
<rect x="194.8" y="420.8" width="4.4" height="4.4" fill="#e2507a" transform="rotate(45 197 423)"/>
<path d="M203.6,423.5 L211.6,423.5 M207.6,420.5 L207.6,426.5 M203.6,422.0 L203.6,425.0 M211.6,422.0 L211.6,425.0 M206.1,420.5 L209.1,420.5 M206.1,426.5 L209.1,426.5" stroke="#e2507a" stroke-width="0.9" fill="none"/>
<rect x="205.4" y="421.3" width="4.4" height="4.4" fill="#e2507a" transform="rotate(45 207.6 423.5)"/>
<path d="M101.7,432.5 L119.1,417.7 L129.8,412.4 L141.9,407 L151.3,397.6 L158,396 L164.7,392.3 L164.7,401.7" fill="none" stroke="#1d7ab8" stroke-width="1" stroke-dasharray="2,1.6"/>
<path d="M98.2,432.5 L105.2,432.5 M101.7,429.5 L101.7,435.5 M98.2,431.0 L98.2,434.0 M105.2,431.0 L105.2,434.0 M100.2,429.5 L103.2,429.5 M100.2,435.5 L103.2,435.5" stroke="#1d7ab8" stroke-width="0.9" fill="none"/>
<rect x="99.5" y="430.3" width="4.4" height="4.4" fill="#1d7ab8" transform="rotate(45 101.7 432.5)"/>
<path d="M115.6,417.7 L122.6,417.7 M119.1,414.7 L119.1,420.7 M115.6,416.2 L115.6,419.2 M122.6,416.2 L122.6,419.2 M117.6,414.7 L120.6,414.7 M117.6,420.7 L120.6,420.7" stroke="#1d7ab8" stroke-width="0.9" fill="none"/>
<rect x="116.89999999999999" y="415.5" width="4.4" height="4.4" fill="#1d7ab8" transform="rotate(45 119.1 417.7)"/>
<path d="M126.30000000000001,412.4 L133.3,412.4 M129.8,409.4 L129.8,415.4 M126.30000000000001,410.9 L126.30000000000001,413.9 M133.3,410.9 L133.3,413.9 M128.3,409.4 L131.3,409.4 M128.3,415.4 L131.3,415.4" stroke="#1d7ab8" stroke-width="0.9" fill="none"/>
<rect x="127.60000000000001" y="410.2" width="4.4" height="4.4" fill="#1d7ab8" transform="rotate(45 129.8 412.4)"/>
<path d="M138.4,407 L145.4,407 M141.9,404 L141.9,410 M138.4,405.5 L138.4,408.5 M145.4,405.5 L145.4,408.5 M140.4,404 L143.4,404 M140.4,410 L143.4,410" stroke="#1d7ab8" stroke-width="0.9" fill="none"/>
<rect x="139.70000000000002" y="404.8" width="4.4" height="4.4" fill="#1d7ab8" transform="rotate(45 141.9 407)"/>
<path d="M147.8,397.6 L154.8,397.6 M151.3,394.6 L151.3,400.6 M147.8,396.1 L147.8,399.1 M154.8,396.1 L154.8,399.1 M149.8,394.6 L152.8,394.6 M149.8,400.6 L152.8,400.6" stroke="#1d7ab8" stroke-width="0.9" fill="none"/>
<rect x="149.10000000000002" y="395.40000000000003" width="4.4" height="4.4" fill="#1d7ab8" transform="rotate(45 151.3 397.6)"/>
<path d="M154.5,396 L161.5,396 M158,393 L158,399 M154.5,394.5 L154.5,397.5 M161.5,394.5 L161.5,397.5 M156.5,393 L159.5,393 M156.5,399 L159.5,399" stroke="#1d7ab8" stroke-width="0.9" fill="none"/>
<rect x="155.8" y="393.8" width="4.4" height="4.4" fill="#1d7ab8" transform="rotate(45 158 396)"/>
<path d="M161.2,392.3 L168.2,392.3 M164.7,389.3 L164.7,395.3 M161.2,390.8 L161.2,393.8 M168.2,390.8 L168.2,393.8 M163.2,389.3 L166.2,389.3 M163.2,395.3 L166.2,395.3" stroke="#1d7ab8" stroke-width="0.9" fill="none"/>
<rect x="162.5" y="390.1" width="4.4" height="4.4" fill="#1d7ab8" transform="rotate(45 164.7 392.3)"/>
<path d="M162.7,401.7 L166.7,401.7 M164.7,393.7 L164.7,409.7 M162.7,400.2 L162.7,403.2 M166.7,400.2 L166.7,403.2 M163.2,393.7 L166.2,393.7 M163.2,409.7 L166.2,409.7" stroke="#1d7ab8" stroke-width="0.9" fill="none"/>
<rect x="162.5" y="399.5" width="4.4" height="4.4" fill="#1d7ab8" transform="rotate(45 164.7 401.7)"/>
<path d="M70.9,427.1 L95.5,416.4 L113.7,388.3 L123.1,382.9 L135.2,370.8 L143.2,373.5 L149.9,368.1" fill="none" stroke="#a24fa6" stroke-width="1" stroke-dasharray="2,1.6"/>
<path d="M67.4,427.1 L74.4,427.1 M70.9,424.6 L70.9,429.6 M67.4,425.6 L67.4,428.6 M74.4,425.6 L74.4,428.6 M69.4,424.6 L72.4,424.6 M69.4,429.6 L72.4,429.6" stroke="#a24fa6" stroke-width="0.9" fill="none"/>
<rect x="68.7" y="424.90000000000003" width="4.4" height="4.4" fill="#a24fa6" transform="rotate(45 70.9 427.1)"/>
<path d="M93.5,416.4 L97.5,416.4 M95.5,391.4 L95.5,441.4 M93.5,414.9 L93.5,417.9 M97.5,414.9 L97.5,417.9 M94.0,391.4 L97.0,391.4 M94.0,441.4 L97.0,441.4" stroke="#a24fa6" stroke-width="0.9" fill="none"/>
<rect x="93.3" y="414.2" width="4.4" height="4.4" fill="#a24fa6" transform="rotate(45 95.5 416.4)"/>
<path d="M110.2,388.3 L117.2,388.3 M113.7,385.8 L113.7,390.8 M110.2,386.8 L110.2,389.8 M117.2,386.8 L117.2,389.8 M112.2,385.8 L115.2,385.8 M112.2,390.8 L115.2,390.8" stroke="#a24fa6" stroke-width="0.9" fill="none"/>
<rect x="111.5" y="386.1" width="4.4" height="4.4" fill="#a24fa6" transform="rotate(45 113.7 388.3)"/>
<path d="M119.6,382.9 L126.6,382.9 M123.1,380.4 L123.1,385.4 M119.6,381.4 L119.6,384.4 M126.6,381.4 L126.6,384.4 M121.6,380.4 L124.6,380.4 M121.6,385.4 L124.6,385.4" stroke="#a24fa6" stroke-width="0.9" fill="none"/>
<rect x="120.89999999999999" y="380.7" width="4.4" height="4.4" fill="#a24fa6" transform="rotate(45 123.1 382.9)"/>
<path d="M131.7,370.8 L138.7,370.8 M135.2,368.3 L135.2,373.3 M131.7,369.3 L131.7,372.3 M138.7,369.3 L138.7,372.3 M133.7,368.3 L136.7,368.3 M133.7,373.3 L136.7,373.3" stroke="#a24fa6" stroke-width="0.9" fill="none"/>
<rect x="133.0" y="368.6" width="4.4" height="4.4" fill="#a24fa6" transform="rotate(45 135.2 370.8)"/>
<path d="M140.2,373.5 L146.2,373.5 M143.2,360.5 L143.2,386.5 M140.2,372.0 L140.2,375.0 M146.2,372.0 L146.2,375.0 M141.7,360.5 L144.7,360.5 M141.7,386.5 L144.7,386.5" stroke="#a24fa6" stroke-width="0.9" fill="none"/>
<rect x="141.0" y="371.3" width="4.4" height="4.4" fill="#a24fa6" transform="rotate(45 143.2 373.5)"/>
<path d="M146.4,368.1 L153.4,368.1 M149.9,365.6 L149.9,370.6 M146.4,366.6 L146.4,369.6 M153.4,366.6 L153.4,369.6 M148.4,365.6 L151.4,365.6 M148.4,370.6 L151.4,370.6" stroke="#a24fa6" stroke-width="0.9" fill="none"/>
<rect x="147.70000000000002" y="365.90000000000003" width="4.4" height="4.4" fill="#a24fa6" transform="rotate(45 149.9 368.1)"/>
<path d="M65.5,425.3 L89.6,411 L104.4,396.3 L118,380 L124.5,374.9 L131,368 L136,365.5" fill="none" stroke="#111" stroke-width="1" stroke-dasharray="2,1.6"/>
<path d="M62.0,425.3 L69.0,425.3 M65.5,422.3 L65.5,428.3 M62.0,423.8 L62.0,426.8 M69.0,423.8 L69.0,426.8 M64.0,422.3 L67.0,422.3 M64.0,428.3 L67.0,428.3" stroke="#111" stroke-width="0.9" fill="none"/>
<rect x="63.3" y="423.1" width="4.4" height="4.4" fill="#111" transform="rotate(45 65.5 425.3)"/>
<path d="M86.1,411 L93.1,411 M89.6,408 L89.6,414 M86.1,409.5 L86.1,412.5 M93.1,409.5 L93.1,412.5 M88.1,408 L91.1,408 M88.1,414 L91.1,414" stroke="#111" stroke-width="0.9" fill="none"/>
<rect x="87.39999999999999" y="408.8" width="4.4" height="4.4" fill="#111" transform="rotate(45 89.6 411)"/>
<path d="M100.9,396.3 L107.9,396.3 M104.4,393.3 L104.4,399.3 M100.9,394.8 L100.9,397.8 M107.9,394.8 L107.9,397.8 M102.9,393.3 L105.9,393.3 M102.9,399.3 L105.9,399.3" stroke="#111" stroke-width="0.9" fill="none"/>
<rect x="102.2" y="394.1" width="4.4" height="4.4" fill="#111" transform="rotate(45 104.4 396.3)"/>
<path d="M114.5,380 L121.5,380 M118,377 L118,383 M114.5,378.5 L114.5,381.5 M121.5,378.5 L121.5,381.5 M116.5,377 L119.5,377 M116.5,383 L119.5,383" stroke="#111" stroke-width="0.9" fill="none"/>
<rect x="115.8" y="377.8" width="4.4" height="4.4" fill="#111" transform="rotate(45 118 380)"/>
<path d="M121.0,374.9 L128.0,374.9 M124.5,371.9 L124.5,377.9 M121.0,373.4 L121.0,376.4 M128.0,373.4 L128.0,376.4 M123.0,371.9 L126.0,371.9 M123.0,377.9 L126.0,377.9" stroke="#111" stroke-width="0.9" fill="none"/>
<rect x="122.3" y="372.7" width="4.4" height="4.4" fill="#111" transform="rotate(45 124.5 374.9)"/>
<path d="M127.5,368 L134.5,368 M131,365 L131,371 M127.5,366.5 L127.5,369.5 M134.5,366.5 L134.5,369.5 M129.5,365 L132.5,365 M129.5,371 L132.5,371" stroke="#111" stroke-width="0.9" fill="none"/>
<rect x="128.8" y="365.8" width="4.4" height="4.4" fill="#111" transform="rotate(45 131 368)"/>
<path d="M132.5,365.5 L139.5,365.5 M136,362.5 L136,368.5 M132.5,364.0 L132.5,367.0 M139.5,364.0 L139.5,367.0 M134.5,362.5 L137.5,362.5 M134.5,368.5 L137.5,368.5" stroke="#111" stroke-width="0.9" fill="none"/>
<rect x="133.8" y="363.3" width="4.4" height="4.4" fill="#111" transform="rotate(45 136 365.5)"/>
<text x="43.7" y="332.3" font-size="8.9" text-anchor="start" fill="#2b2b2b" font-weight="normal" >Simulations (solid lines)</text>
<text x="43.7" y="342.7" font-size="8.9" text-anchor="start" fill="#2b2b2b" font-weight="normal" >Experiments (solid symbols)</text>
<path d="M41.7,350.7 L64,350.7" stroke="#f2c66a" stroke-width="1.2"/>
<path d="M64,350.7 L79,350.7" stroke="#f2a900" stroke-width="1" stroke-dasharray="2,1.6"/>
<rect x="67.8" y="348.8" width="3.8" height="3.8" fill="#f2a900" transform="rotate(45 69.7 350.7)"/>
<text x="83" y="353.9" font-size="9.2" text-anchor="start" fill="#2b2b2b" font-weight="normal" >5 l h<tspan dy='-3.5' font-size='6'>−1</tspan></text>
<path d="M41.7,360 L64,360" stroke="#eba6b9" stroke-width="1.2"/>
<path d="M64,360 L79,360" stroke="#e2507a" stroke-width="1" stroke-dasharray="2,1.6"/>
<rect x="67.8" y="358.1" width="3.8" height="3.8" fill="#e2507a" transform="rotate(45 69.7 360)"/>
<text x="83" y="363.2" font-size="9.2" text-anchor="start" fill="#2b2b2b" font-weight="normal" >10 l h<tspan dy='-3.5' font-size='6'>−1</tspan></text>
<path d="M41.7,368.7 L64,368.7" stroke="#6ab0dc" stroke-width="1.2"/>
<path d="M64,368.7 L79,368.7" stroke="#1d7ab8" stroke-width="1" stroke-dasharray="2,1.6"/>
<rect x="67.8" y="366.8" width="3.8" height="3.8" fill="#1d7ab8" transform="rotate(45 69.7 368.7)"/>
<text x="83" y="371.9" font-size="9.2" text-anchor="start" fill="#2b2b2b" font-weight="normal" >20 l h<tspan dy='-3.5' font-size='6'>−1</tspan></text>
<path d="M41.7,377.5 L64,377.5" stroke="#c89ccb" stroke-width="1.2"/>
<path d="M64,377.5 L79,377.5" stroke="#a24fa6" stroke-width="1" stroke-dasharray="2,1.6"/>
<rect x="67.8" y="375.6" width="3.8" height="3.8" fill="#a24fa6" transform="rotate(45 69.7 377.5)"/>
<text x="83" y="380.7" font-size="9.2" text-anchor="start" fill="#2b2b2b" font-weight="normal" >30 l h<tspan dy='-3.5' font-size='6'>−1</tspan></text>
<path d="M41.7,387 L64,387" stroke="#4a4a4a" stroke-width="1.2"/>
<path d="M64,387 L79,387" stroke="#111" stroke-width="1" stroke-dasharray="2,1.6"/>
<rect x="67.8" y="385.1" width="3.8" height="3.8" fill="#111" transform="rotate(45 69.7 387)"/>
<text x="83" y="390.2" font-size="9.2" text-anchor="start" fill="#2b2b2b" font-weight="normal" >40 l h<tspan dy='-3.5' font-size='6'>−1</tspan></text>
<rect x="311" y="323.3" width="195.3" height="157.39999999999998" fill="none" stroke="#6a6a6a" stroke-width="1"/>
<path d="M309.5,480.7 L314,480.7" stroke="#6a6a6a" stroke-width="0.9"/>
<text x="306.8" y="483.9" font-size="8.8" text-anchor="end" fill="#3a3a3a" font-weight="normal" >0</text>
<path d="M309.5,445.9 L314,445.9" stroke="#6a6a6a" stroke-width="0.9"/>
<text x="306.8" y="449.09999999999997" font-size="8.8" text-anchor="end" fill="#3a3a3a" font-weight="normal" >0.5</text>
<path d="M309.5,411.1 L314,411.1" stroke="#6a6a6a" stroke-width="0.9"/>
<text x="306.8" y="414.3" font-size="8.8" text-anchor="end" fill="#3a3a3a" font-weight="normal" >1.0</text>
<path d="M309.5,376.3 L314,376.3" stroke="#6a6a6a" stroke-width="0.9"/>
<text x="306.8" y="379.5" font-size="8.8" text-anchor="end" fill="#3a3a3a" font-weight="normal" >1.5</text>
<path d="M309.5,341.5 L314,341.5" stroke="#6a6a6a" stroke-width="0.9"/>
<text x="306.8" y="344.7" font-size="8.8" text-anchor="end" fill="#3a3a3a" font-weight="normal" >2.0</text>
<path d="M314.7,480.7 L314.7,478.9 M323.6,480.7 L323.6,478.9 M330.9,480.7 L330.9,478.9 M337.1,480.7 L337.1,478.9 M342.5,480.7 L342.5,478.9 M347.2,480.7 L347.2,478.9 M351.4,480.7 L351.4,477.2 M379.2,480.7 L379.2,478.9 M395.4,480.7 L395.4,478.9 M407.0,480.7 L407.0,478.9 M415.9,480.7 L415.9,478.9 M423.2,480.7 L423.2,478.9 M429.4,480.7 L429.4,478.9 M434.8,480.7 L434.8,478.9 M439.5,480.7 L439.5,478.9 M443.7,480.7 L443.7,477.2 M471.5,480.7 L471.5,478.9 M487.7,480.7 L487.7,478.9 M499.3,480.7 L499.3,478.9 " stroke="#6a6a6a" stroke-width="0.9"/>
<text x="351.4" y="491.9" font-size="9.2" text-anchor="middle" fill="#444" font-weight="normal" >100</text>
<text x="444.7" y="491.9" font-size="9.2" text-anchor="middle" fill="#444" font-weight="normal" >1,000</text>
<text x="276.5" y="326.3" font-size="16" font-weight="bold" fill="#000">d</text>
<text x="286" y="399.5" font-size="10.3" text-anchor="middle" fill="#333" font-weight="normal" transform="rotate(-90 286 399.5)" >Input power (kw)</text>
<path d="M318.50,346.40 L320.58,346.63 L322.65,346.85 L324.73,347.08 L326.81,347.30 L328.89,347.52 L330.96,347.75 L333.04,347.97 L335.12,348.19 L337.19,348.41 L339.27,348.62 L341.35,348.84 L343.43,349.05 L345.50,349.26 L347.58,349.46 L349.66,349.67 L351.74,349.87 L353.81,350.07 L355.89,350.26 L357.97,350.45 L360.04,350.64 L362.12,350.82 L364.20,351.00 L366.28,351.17 L368.35,351.34 L370.43,351.51 L372.51,351.67 L374.58,351.82 L376.66,351.98 L378.74,352.13 L380.82,352.27 L382.89,352.41 L384.97,352.55 L387.05,352.69 L389.13,352.82 L391.20,352.96 L393.28,353.09 L395.36,353.22 L397.43,353.34 L399.51,353.47 L401.59,353.60 L403.67,353.72 L405.74,353.84 L407.82,353.97 L409.90,354.09 L411.97,354.22 L414.05,354.34 L416.13,354.47 L418.21,354.59 L420.28,354.72 L422.36,354.85 L424.44,354.98 L426.52,355.11 L428.59,355.24 L430.67,355.38 L432.75,355.52 L434.82,355.65 L436.90,355.79 L438.98,355.94 L441.06,356.08 L443.13,356.22 L445.21,356.37 L447.29,356.51 L449.36,356.66 L451.44,356.81 L453.52,356.96 L455.60,357.10 L457.67,357.26 L459.75,357.41 L461.83,357.56 L463.91,357.71 L465.98,357.86 L468.06,358.02 L470.14,358.17 L472.21,358.33 L474.29,358.48 L476.37,358.63 L478.45,358.79 L480.52,358.94 L482.60,359.10" fill="none" stroke="#4a4a4a" stroke-width="1.2" opacity="1.0" stroke-linejoin="round"/>
<path d="M318.50,381.50 L320.74,381.81 L322.98,382.11 L325.21,382.42 L327.45,382.72 L329.69,383.02 L331.93,383.32 L334.17,383.62 L336.40,383.91 L338.64,384.21 L340.88,384.49 L343.12,384.78 L345.36,385.06 L347.59,385.33 L349.83,385.60 L352.07,385.86 L354.31,386.12 L356.55,386.37 L358.78,386.61 L361.02,386.85 L363.26,387.08 L365.50,387.29 L367.74,387.51 L369.97,387.71 L372.21,387.90 L374.45,388.09 L376.69,388.27 L378.93,388.44 L381.16,388.60 L383.40,388.76 L385.64,388.91 L387.88,389.06 L390.12,389.19 L392.35,389.33 L394.59,389.46 L396.83,389.58 L399.07,389.70 L401.31,389.82 L403.54,389.93 L405.78,390.04 L408.02,390.14 L410.26,390.24 L412.49,390.34 L414.73,390.44 L416.97,390.54 L419.21,390.63 L421.45,390.73 L423.68,390.82 L425.92,390.91 L428.16,391.00 L430.40,391.10 L432.64,391.19 L434.87,391.28 L437.11,391.37 L439.35,391.46 L441.59,391.54 L443.83,391.63 L446.06,391.72 L448.30,391.81 L450.54,391.90 L452.78,391.98 L455.02,392.07 L457.25,392.16 L459.49,392.24 L461.73,392.33 L463.97,392.42 L466.21,392.50 L468.44,392.59 L470.68,392.67 L472.92,392.76 L475.16,392.84 L477.40,392.93 L479.63,393.01 L481.87,393.10 L484.11,393.18 L486.35,393.26 L488.59,393.35 L490.82,393.43 L493.06,393.52 L495.30,393.60" fill="none" stroke="#8e4a92" stroke-width="1.2" opacity="1.0" stroke-linejoin="round"/>
<path d="M318.50,415.70 L320.86,416.05 L323.23,416.39 L325.59,416.73 L327.95,417.07 L330.32,417.41 L332.68,417.75 L335.04,418.08 L337.41,418.41 L339.77,418.74 L342.13,419.05 L344.50,419.37 L346.86,419.67 L349.22,419.97 L351.59,420.26 L353.95,420.55 L356.31,420.82 L358.68,421.09 L361.04,421.34 L363.40,421.59 L365.77,421.82 L368.13,422.04 L370.49,422.25 L372.86,422.45 L375.22,422.64 L377.58,422.82 L379.95,422.98 L382.31,423.14 L384.67,423.29 L387.04,423.43 L389.40,423.56 L391.76,423.69 L394.13,423.80 L396.49,423.91 L398.85,424.02 L401.22,424.11 L403.58,424.20 L405.94,424.29 L408.31,424.37 L410.67,424.45 L413.03,424.52 L415.39,424.59 L417.76,424.66 L420.12,424.72 L422.48,424.78 L424.85,424.84 L427.21,424.90 L429.57,424.96 L431.94,425.01 L434.30,425.06 L436.66,425.12 L439.03,425.17 L441.39,425.21 L443.75,425.26 L446.12,425.31 L448.48,425.35 L450.84,425.40 L453.21,425.44 L455.57,425.48 L457.93,425.52 L460.30,425.56 L462.66,425.60 L465.02,425.64 L467.39,425.68 L469.75,425.71 L472.11,425.75 L474.48,425.78 L476.84,425.82 L479.20,425.85 L481.57,425.89 L483.93,425.92 L486.29,425.95 L488.66,425.98 L491.02,426.01 L493.38,426.05 L495.75,426.08 L498.11,426.11 L500.47,426.14 L502.84,426.17 L505.20,426.20" fill="none" stroke="#3c98cc" stroke-width="1.2" opacity="1.0" stroke-linejoin="round"/>
<path d="M318.50,448.80 L320.86,449.12 L323.23,449.44 L325.59,449.76 L327.95,450.07 L330.32,450.39 L332.68,450.70 L335.04,451.01 L337.41,451.31 L339.77,451.61 L342.13,451.90 L344.50,452.19 L346.86,452.47 L349.22,452.75 L351.59,453.02 L353.95,453.28 L356.31,453.53 L358.68,453.77 L361.04,454.00 L363.40,454.22 L365.77,454.43 L368.13,454.63 L370.49,454.81 L372.86,454.99 L375.22,455.15 L377.58,455.31 L379.95,455.45 L382.31,455.59 L384.67,455.71 L387.04,455.83 L389.40,455.93 L391.76,456.03 L394.13,456.12 L396.49,456.20 L398.85,456.28 L401.22,456.34 L403.58,456.41 L405.94,456.46 L408.31,456.51 L410.67,456.55 L413.03,456.59 L415.39,456.62 L417.76,456.65 L420.12,456.67 L422.48,456.69 L424.85,456.71 L427.21,456.72 L429.57,456.73 L431.94,456.74 L434.30,456.74 L436.66,456.74 L439.03,456.74 L441.39,456.74 L443.75,456.73 L446.12,456.72 L448.48,456.70 L450.84,456.69 L453.21,456.67 L455.57,456.65 L457.93,456.63 L460.30,456.60 L462.66,456.58 L465.02,456.55 L467.39,456.52 L469.75,456.49 L472.11,456.46 L474.48,456.42 L476.84,456.39 L479.20,456.35 L481.57,456.31 L483.93,456.28 L486.29,456.24 L488.66,456.20 L491.02,456.16 L493.38,456.11 L495.75,456.07 L498.11,456.03 L500.47,455.99 L502.84,455.94 L505.20,455.90" fill="none" stroke="#eba6b9" stroke-width="1.2" opacity="1.0" stroke-linejoin="round"/>
<path d="M318.50,465.20 L320.86,465.37 L323.23,465.54 L325.59,465.70 L327.95,465.87 L330.32,466.04 L332.68,466.21 L335.04,466.37 L337.41,466.54 L339.77,466.71 L342.13,466.87 L344.50,467.04 L346.86,467.21 L349.22,467.38 L351.59,467.54 L353.95,467.71 L356.31,467.88 L358.68,468.04 L361.04,468.21 L363.40,468.38 L365.77,468.54 L368.13,468.71 L370.49,468.87 L372.86,469.03 L375.22,469.19 L377.58,469.34 L379.95,469.47 L382.31,469.60 L384.67,469.71 L387.04,469.81 L389.40,469.89 L391.76,469.95 L394.13,469.99 L396.49,470.01 L398.85,470.00 L401.22,469.97 L403.58,469.93 L405.94,469.87 L408.31,469.80 L410.67,469.71 L413.03,469.62 L415.39,469.53 L417.76,469.43 L420.12,469.33 L422.48,469.23 L424.85,469.14 L427.21,469.05 L429.57,468.96 L431.94,468.88 L434.30,468.81 L436.66,468.74 L439.03,468.68 L441.39,468.61 L443.75,468.56 L446.12,468.50 L448.48,468.45 L450.84,468.41 L453.21,468.37 L455.57,468.33 L457.93,468.29 L460.30,468.26 L462.66,468.23 L465.02,468.20 L467.39,468.18 L469.75,468.15 L472.11,468.13 L474.48,468.11 L476.84,468.10 L479.20,468.08 L481.57,468.07 L483.93,468.06 L486.29,468.05 L488.66,468.04 L491.02,468.03 L493.38,468.03 L495.75,468.02 L498.11,468.01 L500.47,468.01 L502.84,468.00 L505.20,468.00" fill="none" stroke="#f2c66a" stroke-width="1.2" opacity="1.0" stroke-linejoin="round"/>
<path d="M339.7,346.1 L362.3,343.6 L377.9,349.8 L386.4,355.5 L395,363.4 L400,363.4 L405,363.6 L409,363.6 L413.3,363.8" fill="none" stroke="#111" stroke-width="1" stroke-dasharray="2,1.6"/>
<path d="M336.2,346.1 L343.2,346.1 M339.7,344.5 L339.7,347.70000000000005 M336.2,344.6 L336.2,347.6 M343.2,344.6 L343.2,347.6 M338.2,344.5 L341.2,344.5 M338.2,347.70000000000005 L341.2,347.70000000000005" stroke="#111" stroke-width="0.9" fill="none"/>
<rect x="338.0" y="344.40000000000003" width="3.4" height="3.4" fill="#111" transform="rotate(45 339.7 346.1)"/>
<path d="M358.8,343.6 L365.8,343.6 M362.3,342.0 L362.3,345.20000000000005 M358.8,342.1 L358.8,345.1 M365.8,342.1 L365.8,345.1 M360.8,342.0 L363.8,342.0 M360.8,345.20000000000005 L363.8,345.20000000000005" stroke="#111" stroke-width="0.9" fill="none"/>
<rect x="360.6" y="341.90000000000003" width="3.4" height="3.4" fill="#111" transform="rotate(45 362.3 343.6)"/>
<path d="M374.4,349.8 L381.4,349.8 M377.9,348.2 L377.9,351.40000000000003 M374.4,348.3 L374.4,351.3 M381.4,348.3 L381.4,351.3 M376.4,348.2 L379.4,348.2 M376.4,351.40000000000003 L379.4,351.40000000000003" stroke="#111" stroke-width="0.9" fill="none"/>
<rect x="376.2" y="348.1" width="3.4" height="3.4" fill="#111" transform="rotate(45 377.9 349.8)"/>
<path d="M382.9,355.5 L389.9,355.5 M386.4,353.9 L386.4,357.1 M382.9,354.0 L382.9,357.0 M389.9,354.0 L389.9,357.0 M384.9,353.9 L387.9,353.9 M384.9,357.1 L387.9,357.1" stroke="#111" stroke-width="0.9" fill="none"/>
<rect x="384.7" y="353.8" width="3.4" height="3.4" fill="#111" transform="rotate(45 386.4 355.5)"/>
<path d="M391.5,363.4 L398.5,363.4 M395,361.79999999999995 L395,365.0 M391.5,361.9 L391.5,364.9 M398.5,361.9 L398.5,364.9 M393.5,361.79999999999995 L396.5,361.79999999999995 M393.5,365.0 L396.5,365.0" stroke="#111" stroke-width="0.9" fill="none"/>
<rect x="393.3" y="361.7" width="3.4" height="3.4" fill="#111" transform="rotate(45 395 363.4)"/>
<path d="M396.5,363.4 L403.5,363.4 M400,361.79999999999995 L400,365.0 M396.5,361.9 L396.5,364.9 M403.5,361.9 L403.5,364.9 M398.5,361.79999999999995 L401.5,361.79999999999995 M398.5,365.0 L401.5,365.0" stroke="#111" stroke-width="0.9" fill="none"/>
<rect x="398.3" y="361.7" width="3.4" height="3.4" fill="#111" transform="rotate(45 400 363.4)"/>
<path d="M401.5,363.6 L408.5,363.6 M405,362.0 L405,365.20000000000005 M401.5,362.1 L401.5,365.1 M408.5,362.1 L408.5,365.1 M403.5,362.0 L406.5,362.0 M403.5,365.20000000000005 L406.5,365.20000000000005" stroke="#111" stroke-width="0.9" fill="none"/>
<rect x="403.3" y="361.90000000000003" width="3.4" height="3.4" fill="#111" transform="rotate(45 405 363.6)"/>
<path d="M405.5,363.6 L412.5,363.6 M409,362.0 L409,365.20000000000005 M405.5,362.1 L405.5,365.1 M412.5,362.1 L412.5,365.1 M407.5,362.0 L410.5,362.0 M407.5,365.20000000000005 L410.5,365.20000000000005" stroke="#111" stroke-width="0.9" fill="none"/>
<rect x="407.3" y="361.90000000000003" width="3.4" height="3.4" fill="#111" transform="rotate(45 409 363.6)"/>
<path d="M409.8,363.8 L416.8,363.8 M413.3,362.2 L413.3,365.40000000000003 M409.8,362.3 L409.8,365.3 M416.8,362.3 L416.8,365.3 M411.8,362.2 L414.8,362.2 M411.8,365.40000000000003 L414.8,365.40000000000003" stroke="#111" stroke-width="0.9" fill="none"/>
<rect x="411.6" y="362.1" width="3.4" height="3.4" fill="#111" transform="rotate(45 413.3 363.8)"/>
<path d="M344.5,380.1 L369.4,390.8 L386.4,395.6 L397.7,397.3 L403.4,397.3 L410,398 L415,396 L420,397.3 L426,395" fill="none" stroke="#a24fa6" stroke-width="1" stroke-dasharray="2,1.6"/>
<path d="M341.0,380.1 L348.0,380.1 M344.5,378.3 L344.5,381.90000000000003 M341.0,378.6 L341.0,381.6 M348.0,378.6 L348.0,381.6 M343.0,378.3 L346.0,378.3 M343.0,381.90000000000003 L346.0,381.90000000000003" stroke="#a24fa6" stroke-width="0.9" fill="none"/>
<rect x="342.8" y="378.40000000000003" width="3.4" height="3.4" fill="#a24fa6" transform="rotate(45 344.5 380.1)"/>
<path d="M365.9,390.8 L372.9,390.8 M369.4,389.0 L369.4,392.6 M365.9,389.3 L365.9,392.3 M372.9,389.3 L372.9,392.3 M367.9,389.0 L370.9,389.0 M367.9,392.6 L370.9,392.6" stroke="#a24fa6" stroke-width="0.9" fill="none"/>
<rect x="367.7" y="389.1" width="3.4" height="3.4" fill="#a24fa6" transform="rotate(45 369.4 390.8)"/>
<path d="M382.9,395.6 L389.9,395.6 M386.4,393.8 L386.4,397.40000000000003 M382.9,394.1 L382.9,397.1 M389.9,394.1 L389.9,397.1 M384.9,393.8 L387.9,393.8 M384.9,397.40000000000003 L387.9,397.40000000000003" stroke="#a24fa6" stroke-width="0.9" fill="none"/>
<rect x="384.7" y="393.90000000000003" width="3.4" height="3.4" fill="#a24fa6" transform="rotate(45 386.4 395.6)"/>
<path d="M394.2,397.3 L401.2,397.3 M397.7,395.5 L397.7,399.1 M394.2,395.8 L394.2,398.8 M401.2,395.8 L401.2,398.8 M396.2,395.5 L399.2,395.5 M396.2,399.1 L399.2,399.1" stroke="#a24fa6" stroke-width="0.9" fill="none"/>
<rect x="396.0" y="395.6" width="3.4" height="3.4" fill="#a24fa6" transform="rotate(45 397.7 397.3)"/>
<path d="M399.9,397.3 L406.9,397.3 M403.4,395.5 L403.4,399.1 M399.9,395.8 L399.9,398.8 M406.9,395.8 L406.9,398.8 M401.9,395.5 L404.9,395.5 M401.9,399.1 L404.9,399.1" stroke="#a24fa6" stroke-width="0.9" fill="none"/>
<rect x="401.7" y="395.6" width="3.4" height="3.4" fill="#a24fa6" transform="rotate(45 403.4 397.3)"/>
<path d="M406.5,398 L413.5,398 M410,396.2 L410,399.8 M406.5,396.5 L406.5,399.5 M413.5,396.5 L413.5,399.5 M408.5,396.2 L411.5,396.2 M408.5,399.8 L411.5,399.8" stroke="#a24fa6" stroke-width="0.9" fill="none"/>
<rect x="408.3" y="396.3" width="3.4" height="3.4" fill="#a24fa6" transform="rotate(45 410 398)"/>
<path d="M411.5,396 L418.5,396 M415,394.2 L415,397.8 M411.5,394.5 L411.5,397.5 M418.5,394.5 L418.5,397.5 M413.5,394.2 L416.5,394.2 M413.5,397.8 L416.5,397.8" stroke="#a24fa6" stroke-width="0.9" fill="none"/>
<rect x="413.3" y="394.3" width="3.4" height="3.4" fill="#a24fa6" transform="rotate(45 415 396)"/>
<path d="M416.5,397.3 L423.5,397.3 M420,395.5 L420,399.1 M416.5,395.8 L416.5,398.8 M423.5,395.8 L423.5,398.8 M418.5,395.5 L421.5,395.5 M418.5,399.1 L421.5,399.1" stroke="#a24fa6" stroke-width="0.9" fill="none"/>
<rect x="418.3" y="395.6" width="3.4" height="3.4" fill="#a24fa6" transform="rotate(45 420 397.3)"/>
<path d="M422.5,395 L429.5,395 M426,393.2 L426,396.8 M422.5,393.5 L422.5,396.5 M429.5,393.5 L429.5,396.5 M424.5,393.2 L427.5,393.2 M424.5,396.8 L427.5,396.8" stroke="#a24fa6" stroke-width="0.9" fill="none"/>
<rect x="424.3" y="393.3" width="3.4" height="3.4" fill="#a24fa6" transform="rotate(45 426 395)"/>
<path d="M375.1,424.8 L393.5,421.9 L403.4,424.8 L414.7,429 L426,425.6 L438.7,430.4" fill="none" stroke="#1d7ab8" stroke-width="1" stroke-dasharray="2,1.6"/>
<path d="M371.3,424.8 L378.90000000000003,424.8 M375.1,423.0 L375.1,426.6 M371.3,423.3 L371.3,426.3 M378.90000000000003,423.3 L378.90000000000003,426.3 M373.6,423.0 L376.6,423.0 M373.6,426.6 L376.6,426.6" stroke="#1d7ab8" stroke-width="0.9" fill="none"/>
<rect x="373.40000000000003" y="423.1" width="3.4" height="3.4" fill="#1d7ab8" transform="rotate(45 375.1 424.8)"/>
<path d="M389.7,421.9 L397.3,421.9 M393.5,420.09999999999997 L393.5,423.7 M389.7,420.4 L389.7,423.4 M397.3,420.4 L397.3,423.4 M392.0,420.09999999999997 L395.0,420.09999999999997 M392.0,423.7 L395.0,423.7" stroke="#1d7ab8" stroke-width="0.9" fill="none"/>
<rect x="391.8" y="420.2" width="3.4" height="3.4" fill="#1d7ab8" transform="rotate(45 393.5 421.9)"/>
<path d="M399.59999999999997,424.8 L407.2,424.8 M403.4,423.0 L403.4,426.6 M399.59999999999997,423.3 L399.59999999999997,426.3 M407.2,423.3 L407.2,426.3 M401.9,423.0 L404.9,423.0 M401.9,426.6 L404.9,426.6" stroke="#1d7ab8" stroke-width="0.9" fill="none"/>
<rect x="401.7" y="423.1" width="3.4" height="3.4" fill="#1d7ab8" transform="rotate(45 403.4 424.8)"/>
<path d="M410.9,429 L418.5,429 M414.7,427.2 L414.7,430.8 M410.9,427.5 L410.9,430.5 M418.5,427.5 L418.5,430.5 M413.2,427.2 L416.2,427.2 M413.2,430.8 L416.2,430.8" stroke="#1d7ab8" stroke-width="0.9" fill="none"/>
<rect x="413.0" y="427.3" width="3.4" height="3.4" fill="#1d7ab8" transform="rotate(45 414.7 429)"/>
<path d="M422.2,425.6 L429.8,425.6 M426,423.8 L426,427.40000000000003 M422.2,424.1 L422.2,427.1 M429.8,424.1 L429.8,427.1 M424.5,423.8 L427.5,423.8 M424.5,427.40000000000003 L427.5,427.40000000000003" stroke="#1d7ab8" stroke-width="0.9" fill="none"/>
<rect x="424.3" y="423.90000000000003" width="3.4" height="3.4" fill="#1d7ab8" transform="rotate(45 426 425.6)"/>
<path d="M434.9,430.4 L442.5,430.4 M438.7,428.59999999999997 L438.7,432.2 M434.9,428.9 L434.9,431.9 M442.5,428.9 L442.5,431.9 M437.2,428.59999999999997 L440.2,428.59999999999997 M437.2,432.2 L440.2,432.2" stroke="#1d7ab8" stroke-width="0.9" fill="none"/>
<rect x="437.0" y="428.7" width="3.4" height="3.4" fill="#1d7ab8" transform="rotate(45 438.7 430.4)"/>
<path d="M392,452.2 L400.5,452.2 L421.7,458.7 L434.5,457.5 L448,458.7 L462,458.5 L476,458.7 L491,458.9" fill="none" stroke="#e2507a" stroke-width="1" stroke-dasharray="2,1.6"/>
<path d="M387.8,452.2 L396.2,452.2 M392,450.59999999999997 L392,453.8 M387.8,450.7 L387.8,453.7 M396.2,450.7 L396.2,453.7 M390.5,450.59999999999997 L393.5,450.59999999999997 M390.5,453.8 L393.5,453.8" stroke="#e2507a" stroke-width="0.9" fill="none"/>
<rect x="390.3" y="450.5" width="3.4" height="3.4" fill="#e2507a" transform="rotate(45 392 452.2)"/>
<path d="M396.3,452.2 L404.7,452.2 M400.5,450.59999999999997 L400.5,453.8 M396.3,450.7 L396.3,453.7 M404.7,450.7 L404.7,453.7 M399.0,450.59999999999997 L402.0,450.59999999999997 M399.0,453.8 L402.0,453.8" stroke="#e2507a" stroke-width="0.9" fill="none"/>
<rect x="398.8" y="450.5" width="3.4" height="3.4" fill="#e2507a" transform="rotate(45 400.5 452.2)"/>
<path d="M417.5,458.7 L425.9,458.7 M421.7,457.09999999999997 L421.7,460.3 M417.5,457.2 L417.5,460.2 M425.9,457.2 L425.9,460.2 M420.2,457.09999999999997 L423.2,457.09999999999997 M420.2,460.3 L423.2,460.3" stroke="#e2507a" stroke-width="0.9" fill="none"/>
<rect x="420.0" y="457.0" width="3.4" height="3.4" fill="#e2507a" transform="rotate(45 421.7 458.7)"/>
<path d="M430.3,457.5 L438.7,457.5 M434.5,455.9 L434.5,459.1 M430.3,456.0 L430.3,459.0 M438.7,456.0 L438.7,459.0 M433.0,455.9 L436.0,455.9 M433.0,459.1 L436.0,459.1" stroke="#e2507a" stroke-width="0.9" fill="none"/>
<rect x="432.8" y="455.8" width="3.4" height="3.4" fill="#e2507a" transform="rotate(45 434.5 457.5)"/>
<path d="M443.8,458.7 L452.2,458.7 M448,457.09999999999997 L448,460.3 M443.8,457.2 L443.8,460.2 M452.2,457.2 L452.2,460.2 M446.5,457.09999999999997 L449.5,457.09999999999997 M446.5,460.3 L449.5,460.3" stroke="#e2507a" stroke-width="0.9" fill="none"/>
<rect x="446.3" y="457.0" width="3.4" height="3.4" fill="#e2507a" transform="rotate(45 448 458.7)"/>
<path d="M457.8,458.5 L466.2,458.5 M462,456.9 L462,460.1 M457.8,457.0 L457.8,460.0 M466.2,457.0 L466.2,460.0 M460.5,456.9 L463.5,456.9 M460.5,460.1 L463.5,460.1" stroke="#e2507a" stroke-width="0.9" fill="none"/>
<rect x="460.3" y="456.8" width="3.4" height="3.4" fill="#e2507a" transform="rotate(45 462 458.5)"/>
<path d="M471.8,458.7 L480.2,458.7 M476,457.09999999999997 L476,460.3 M471.8,457.2 L471.8,460.2 M480.2,457.2 L480.2,460.2 M474.5,457.09999999999997 L477.5,457.09999999999997 M474.5,460.3 L477.5,460.3" stroke="#e2507a" stroke-width="0.9" fill="none"/>
<rect x="474.3" y="457.0" width="3.4" height="3.4" fill="#e2507a" transform="rotate(45 476 458.7)"/>
<path d="M486.8,458.9 L495.2,458.9 M491,457.29999999999995 L491,460.5 M486.8,457.4 L486.8,460.4 M495.2,457.4 L495.2,460.4 M489.5,457.29999999999995 L492.5,457.29999999999995 M489.5,460.5 L492.5,460.5" stroke="#e2507a" stroke-width="0.9" fill="none"/>
<rect x="489.3" y="457.2" width="3.4" height="3.4" fill="#e2507a" transform="rotate(45 491 458.9)"/>
<path d="M409,469.2 L418.9,469.2 L437.3,469.2 L454.3,467.2 L464.2,470.5 L474,469.5 L484,469.5 L493,469.5 L502.4,469.5" fill="none" stroke="#f2a900" stroke-width="1" stroke-dasharray="2,1.6"/>
<path d="M404.5,469.2 L413.5,469.2 M409,467.4 L409,471.0 M404.5,467.7 L404.5,470.7 M413.5,467.7 L413.5,470.7 M407.5,467.4 L410.5,467.4 M407.5,471.0 L410.5,471.0" stroke="#f2a900" stroke-width="0.9" fill="none"/>
<rect x="407.3" y="467.5" width="3.4" height="3.4" fill="#f2a900" transform="rotate(45 409 469.2)"/>
<path d="M414.4,469.2 L423.4,469.2 M418.9,467.4 L418.9,471.0 M414.4,467.7 L414.4,470.7 M423.4,467.7 L423.4,470.7 M417.4,467.4 L420.4,467.4 M417.4,471.0 L420.4,471.0" stroke="#f2a900" stroke-width="0.9" fill="none"/>
<rect x="417.2" y="467.5" width="3.4" height="3.4" fill="#f2a900" transform="rotate(45 418.9 469.2)"/>
<path d="M432.8,469.2 L441.8,469.2 M437.3,467.4 L437.3,471.0 M432.8,467.7 L432.8,470.7 M441.8,467.7 L441.8,470.7 M435.8,467.4 L438.8,467.4 M435.8,471.0 L438.8,471.0" stroke="#f2a900" stroke-width="0.9" fill="none"/>
<rect x="435.6" y="467.5" width="3.4" height="3.4" fill="#f2a900" transform="rotate(45 437.3 469.2)"/>
<path d="M449.8,467.2 L458.8,467.2 M454.3,465.4 L454.3,469.0 M449.8,465.7 L449.8,468.7 M458.8,465.7 L458.8,468.7 M452.8,465.4 L455.8,465.4 M452.8,469.0 L455.8,469.0" stroke="#f2a900" stroke-width="0.9" fill="none"/>
<rect x="452.6" y="465.5" width="3.4" height="3.4" fill="#f2a900" transform="rotate(45 454.3 467.2)"/>
<path d="M459.7,470.5 L468.7,470.5 M464.2,468.7 L464.2,472.3 M459.7,469.0 L459.7,472.0 M468.7,469.0 L468.7,472.0 M462.7,468.7 L465.7,468.7 M462.7,472.3 L465.7,472.3" stroke="#f2a900" stroke-width="0.9" fill="none"/>
<rect x="462.5" y="468.8" width="3.4" height="3.4" fill="#f2a900" transform="rotate(45 464.2 470.5)"/>
<path d="M469.5,469.5 L478.5,469.5 M474,467.7 L474,471.3 M469.5,468.0 L469.5,471.0 M478.5,468.0 L478.5,471.0 M472.5,467.7 L475.5,467.7 M472.5,471.3 L475.5,471.3" stroke="#f2a900" stroke-width="0.9" fill="none"/>
<rect x="472.3" y="467.8" width="3.4" height="3.4" fill="#f2a900" transform="rotate(45 474 469.5)"/>
<path d="M479.5,469.5 L488.5,469.5 M484,467.7 L484,471.3 M479.5,468.0 L479.5,471.0 M488.5,468.0 L488.5,471.0 M482.5,467.7 L485.5,467.7 M482.5,471.3 L485.5,471.3" stroke="#f2a900" stroke-width="0.9" fill="none"/>
<rect x="482.3" y="467.8" width="3.4" height="3.4" fill="#f2a900" transform="rotate(45 484 469.5)"/>
<path d="M488.5,469.5 L497.5,469.5 M493,467.7 L493,471.3 M488.5,468.0 L488.5,471.0 M497.5,468.0 L497.5,471.0 M491.5,467.7 L494.5,467.7 M491.5,471.3 L494.5,471.3" stroke="#f2a900" stroke-width="0.9" fill="none"/>
<rect x="491.3" y="467.8" width="3.4" height="3.4" fill="#f2a900" transform="rotate(45 493 469.5)"/>
<path d="M497.9,469.5 L506.9,469.5 M502.4,467.7 L502.4,471.3 M497.9,468.0 L497.9,471.0 M506.9,468.0 L506.9,471.0 M500.9,467.7 L503.9,467.7 M500.9,471.3 L503.9,471.3" stroke="#f2a900" stroke-width="0.9" fill="none"/>
<rect x="500.7" y="467.8" width="3.4" height="3.4" fill="#f2a900" transform="rotate(45 502.4 469.5)"/>
<rect x="573" y="323.6" width="195" height="157.39999999999998" fill="none" stroke="#6a6a6a" stroke-width="1"/>
<path d="M571.5,480.7 L576,480.7" stroke="#6a6a6a" stroke-width="0.9"/>
<text x="568.8" y="483.9" font-size="8.8" text-anchor="end" fill="#3a3a3a" font-weight="normal" >0</text>
<path d="M571.5,409.7 L576,409.7" stroke="#6a6a6a" stroke-width="0.9"/>
<text x="568.8" y="412.9" font-size="8.8" text-anchor="end" fill="#3a3a3a" font-weight="normal" >0.5</text>
<path d="M571.5,338.7 L576,338.7" stroke="#6a6a6a" stroke-width="0.9"/>
<text x="568.8" y="341.9" font-size="8.8" text-anchor="end" fill="#3a3a3a" font-weight="normal" >1.0</text>
<path d="M582.0,481 L582.0,479.2 M590.2,481 L590.2,479.2 M596.9,481 L596.9,479.2 M602.5,481 L602.5,479.2 M607.4,481 L607.4,479.2 M611.7,481 L611.7,479.2 M615.6,481 L615.6,477.5 M641.0,481 L641.0,479.2 M655.9,481 L655.9,479.2 M666.4,481 L666.4,479.2 M674.6,481 L674.6,479.2 M681.3,481 L681.3,479.2 M686.9,481 L686.9,479.2 M691.8,481 L691.8,479.2 M696.1,481 L696.1,479.2 M700.0,481 L700.0,477.5 M725.4,481 L725.4,479.2 M740.3,481 L740.3,479.2 M750.8,481 L750.8,479.2 M759.0,481 L759.0,479.2 M765.7,481 L765.7,479.2 " stroke="#6a6a6a" stroke-width="0.9"/>
<text x="615.6" y="492.2" font-size="9.2" text-anchor="middle" fill="#444" font-weight="normal" >100</text>
<text x="703.0" y="492.2" font-size="9.2" text-anchor="middle" fill="#444" font-weight="normal" >1,000</text>
<text x="539.5" y="326.3" font-size="16" font-weight="bold" fill="#000">e</text>
<text x="549" y="402.2" font-size="9.3" text-anchor="middle" fill="#333" font-weight="normal" transform="rotate(-90 549 402.2)" >GOR</text>
<path d="M585.30,466.90 L587.44,464.60 L589.59,462.29 L591.73,459.95 L593.87,457.56 L596.02,455.12 L598.16,452.59 L600.30,449.98 L602.44,447.29 L604.59,444.52 L606.73,441.71 L608.87,438.87 L611.02,436.01 L613.16,433.16 L615.30,430.32 L617.45,427.53 L619.59,424.78 L621.73,422.07 L623.87,419.36 L626.02,416.62 L628.16,413.82 L630.30,410.93 L632.45,407.93 L634.59,404.77 L636.73,401.43 L638.88,397.89 L641.02,394.13 L643.16,390.18 L645.31,386.04 L647.45,381.71 L649.59,377.21 L651.73,372.55 L653.88,367.81 L656.02,363.11 L658.16,358.59 L660.31,354.36 L662.45,350.45 L664.59,346.84 L666.74,343.46 L668.88,340.32 L671.02,337.42 L673.16,334.79 L675.31,332.45 L677.45,330.44 L679.59,328.81 L681.74,327.59 L683.88,326.79 L686.02,326.35 L688.17,326.24 L690.31,326.41 L692.45,326.79 L694.59,327.33 L696.74,327.99 L698.88,328.71 L701.02,329.47 L703.17,330.25 L705.31,331.02 L707.45,331.76 L709.60,332.46 L711.74,333.12 L713.88,333.77 L716.03,334.40 L718.17,335.03 L720.31,335.66 L722.45,336.28 L724.60,336.91 L726.74,337.54 L728.88,338.17 L731.03,338.81 L733.17,339.45 L735.31,340.10 L737.46,340.75 L739.60,341.41 L741.74,342.07 L743.88,342.74 L746.03,343.40 L748.17,344.08 L750.31,344.75 L752.46,345.42 L754.60,346.10" fill="none" stroke="#f2c66a" stroke-width="1.2" opacity="1.0" stroke-linejoin="round"/>
<path d="M585.30,466.90 L587.44,466.13 L589.59,465.35 L591.73,464.54 L593.87,463.68 L596.02,462.77 L598.16,461.79 L600.30,460.73 L602.44,459.57 L604.59,458.29 L606.73,456.89 L608.87,455.36 L611.02,453.67 L613.16,451.85 L615.30,449.91 L617.45,447.85 L619.59,445.68 L621.73,443.42 L623.87,441.07 L626.02,438.64 L628.16,436.14 L630.30,433.59 L632.45,431.02 L634.59,428.45 L636.73,425.92 L638.88,423.44 L641.02,421.06 L643.16,418.78 L645.31,416.61 L647.45,414.50 L649.59,412.40 L651.73,410.28 L653.88,408.16 L656.02,406.06 L658.16,404.05 L660.31,402.14 L662.45,400.38 L664.59,398.81 L666.74,397.39 L668.88,396.11 L671.02,394.95 L673.16,393.87 L675.31,392.86 L677.45,391.91 L679.59,391.02 L681.74,390.18 L683.88,389.39 L686.02,388.65 L688.17,387.95 L690.31,387.29 L692.45,386.67 L694.59,386.09 L696.74,385.55 L698.88,385.05 L701.02,384.59 L703.17,384.17 L705.31,383.79 L707.45,383.44 L709.60,383.13 L711.74,382.85 L713.88,382.60 L716.03,382.37 L718.17,382.16 L720.31,381.97 L722.45,381.80 L724.60,381.65 L726.74,381.51 L728.88,381.38 L731.03,381.26 L733.17,381.16 L735.31,381.06 L737.46,380.98 L739.60,380.90 L741.74,380.83 L743.88,380.76 L746.03,380.71 L748.17,380.65 L750.31,380.60 L752.46,380.55 L754.60,380.50" fill="none" stroke="#eba6b9" stroke-width="1.2" opacity="1.0" stroke-linejoin="round"/>
<path d="M585.30,467.20 L587.44,466.49 L589.59,465.78 L591.73,465.05 L593.87,464.32 L596.02,463.58 L598.16,462.82 L600.30,462.03 L602.44,461.23 L604.59,460.39 L606.73,459.53 L608.87,458.63 L611.02,457.70 L613.16,456.72 L615.30,455.70 L617.45,454.63 L619.59,453.51 L621.73,452.35 L623.87,451.17 L626.02,449.96 L628.16,448.76 L630.30,447.56 L632.45,446.38 L634.59,445.23 L636.73,444.13 L638.88,443.09 L641.02,442.10 L643.16,441.16 L645.31,440.27 L647.45,439.44 L649.59,438.65 L651.73,437.90 L653.88,437.20 L656.02,436.53 L658.16,435.89 L660.31,435.29 L662.45,434.70 L664.59,434.14 L666.74,433.59 L668.88,433.05 L671.02,432.52 L673.16,431.98 L675.31,431.45 L677.45,430.90 L679.59,430.36 L681.74,429.80 L683.88,429.25 L686.02,428.69 L688.17,428.14 L690.31,427.59 L692.45,427.04 L694.59,426.49 L696.74,425.96 L698.88,425.43 L701.02,424.91 L703.17,424.41 L705.31,423.92 L707.45,423.44 L709.60,422.97 L711.74,422.52 L713.88,422.09 L716.03,421.66 L718.17,421.25 L720.31,420.84 L722.45,420.45 L724.60,420.06 L726.74,419.68 L728.88,419.32 L731.03,418.96 L733.17,418.60 L735.31,418.25 L737.46,417.91 L739.60,417.57 L741.74,417.24 L743.88,416.91 L746.03,416.59 L748.17,416.26 L750.31,415.94 L752.46,415.62 L754.60,415.30" fill="none" stroke="#6ab0dc" stroke-width="1.2" opacity="1.0" stroke-linejoin="round"/>
<path d="M585.30,467.70 L587.33,467.25 L589.36,466.81 L591.39,466.36 L593.43,465.91 L595.46,465.46 L597.49,465.00 L599.52,464.54 L601.55,464.08 L603.58,463.61 L605.62,463.14 L607.65,462.65 L609.68,462.17 L611.71,461.67 L613.74,461.17 L615.77,460.66 L617.81,460.13 L619.84,459.60 L621.87,459.06 L623.90,458.50 L625.93,457.94 L627.96,457.36 L630.00,456.77 L632.03,456.16 L634.06,455.54 L636.09,454.92 L638.12,454.29 L640.15,453.67 L642.19,453.05 L644.22,452.44 L646.25,451.84 L648.28,451.27 L650.31,450.72 L652.34,450.19 L654.38,449.69 L656.41,449.22 L658.44,448.76 L660.47,448.32 L662.50,447.90 L664.53,447.49 L666.57,447.09 L668.60,446.71 L670.63,446.32 L672.66,445.95 L674.69,445.57 L676.72,445.20 L678.76,444.83 L680.79,444.45 L682.82,444.08 L684.85,443.71 L686.88,443.33 L688.91,442.96 L690.95,442.58 L692.98,442.21 L695.01,441.83 L697.04,441.45 L699.07,441.08 L701.10,440.70 L703.14,440.33 L705.17,439.95 L707.20,439.57 L709.23,439.20 L711.26,438.82 L713.29,438.44 L715.33,438.07 L717.36,437.69 L719.39,437.31 L721.42,436.93 L723.45,436.56 L725.48,436.18 L727.52,435.80 L729.55,435.42 L731.58,435.05 L733.61,434.67 L735.64,434.29 L737.67,433.91 L739.71,433.53 L741.74,433.16 L743.77,432.78 L745.80,432.40" fill="none" stroke="#c89ccb" stroke-width="1.2" opacity="1.0" stroke-linejoin="round"/>
<path d="M585.30,468.30 L587.20,467.92 L589.10,467.54 L591.00,467.17 L592.91,466.79 L594.81,466.41 L596.71,466.04 L598.61,465.66 L600.51,465.29 L602.41,464.92 L604.31,464.54 L606.21,464.17 L608.12,463.80 L610.02,463.43 L611.92,463.06 L613.82,462.70 L615.72,462.33 L617.62,461.97 L619.52,461.61 L621.42,461.25 L623.33,460.90 L625.23,460.54 L627.13,460.19 L629.03,459.84 L630.93,459.49 L632.83,459.15 L634.73,458.81 L636.63,458.47 L638.54,458.13 L640.44,457.80 L642.34,457.47 L644.24,457.14 L646.14,456.81 L648.04,456.49 L649.94,456.17 L651.84,455.85 L653.75,455.53 L655.65,455.21 L657.55,454.90 L659.45,454.59 L661.35,454.28 L663.25,453.97 L665.15,453.67 L667.05,453.36 L668.96,453.06 L670.86,452.76 L672.76,452.46 L674.66,452.17 L676.56,451.87 L678.46,451.58 L680.36,451.29 L682.26,451.00 L684.17,450.71 L686.07,450.43 L687.97,450.14 L689.87,449.86 L691.77,449.57 L693.67,449.29 L695.57,449.01 L697.47,448.73 L699.38,448.45 L701.28,448.18 L703.18,447.90 L705.08,447.63 L706.98,447.35 L708.88,447.08 L710.78,446.80 L712.68,446.53 L714.59,446.26 L716.49,445.99 L718.39,445.72 L720.29,445.45 L722.19,445.18 L724.09,444.91 L725.99,444.64 L727.89,444.37 L729.80,444.10 L731.70,443.84 L733.60,443.57 L735.50,443.30" fill="none" stroke="#4a4a4a" stroke-width="1.2" opacity="1.0" stroke-linejoin="round"/>
<path d="M605.9,463.9 L626.5,460.1 L641.2,455.1 L649.2,451.2 L657.4,444.8 L662,443 L666.3,441.8" fill="none" stroke="#111" stroke-width="1" stroke-dasharray="2,1.6"/>
<path d="M602.9,463.9 L608.9,463.9 M605.9,461.9 L605.9,465.9 M602.9,462.4 L602.9,465.4 M608.9,462.4 L608.9,465.4 M604.4,461.9 L607.4,461.9 M604.4,465.9 L607.4,465.9" stroke="#111" stroke-width="0.9" fill="none"/>
<rect x="603.6999999999999" y="461.7" width="4.4" height="4.4" fill="#111" transform="rotate(45 605.9 463.9)"/>
<path d="M623.5,460.1 L629.5,460.1 M626.5,458.1 L626.5,462.1 M623.5,458.6 L623.5,461.6 M629.5,458.6 L629.5,461.6 M625.0,458.1 L628.0,458.1 M625.0,462.1 L628.0,462.1" stroke="#111" stroke-width="0.9" fill="none"/>
<rect x="624.3" y="457.90000000000003" width="4.4" height="4.4" fill="#111" transform="rotate(45 626.5 460.1)"/>
<path d="M638.2,455.1 L644.2,455.1 M641.2,453.1 L641.2,457.1 M638.2,453.6 L638.2,456.6 M644.2,453.6 L644.2,456.6 M639.7,453.1 L642.7,453.1 M639.7,457.1 L642.7,457.1" stroke="#111" stroke-width="0.9" fill="none"/>
<rect x="639.0" y="452.90000000000003" width="4.4" height="4.4" fill="#111" transform="rotate(45 641.2 455.1)"/>
<path d="M646.2,451.2 L652.2,451.2 M649.2,449.2 L649.2,453.2 M646.2,449.7 L646.2,452.7 M652.2,449.7 L652.2,452.7 M647.7,449.2 L650.7,449.2 M647.7,453.2 L650.7,453.2" stroke="#111" stroke-width="0.9" fill="none"/>
<rect x="647.0" y="449.0" width="4.4" height="4.4" fill="#111" transform="rotate(45 649.2 451.2)"/>
<path d="M654.4,444.8 L660.4,444.8 M657.4,442.8 L657.4,446.8 M654.4,443.3 L654.4,446.3 M660.4,443.3 L660.4,446.3 M655.9,442.8 L658.9,442.8 M655.9,446.8 L658.9,446.8" stroke="#111" stroke-width="0.9" fill="none"/>
<rect x="655.1999999999999" y="442.6" width="4.4" height="4.4" fill="#111" transform="rotate(45 657.4 444.8)"/>
<path d="M659,443 L665,443 M662,441 L662,445 M659,441.5 L659,444.5 M665,441.5 L665,444.5 M660.5,441 L663.5,441 M660.5,445 L663.5,445" stroke="#111" stroke-width="0.9" fill="none"/>
<rect x="659.8" y="440.8" width="4.4" height="4.4" fill="#111" transform="rotate(45 662 443)"/>
<path d="M663.3,441.8 L669.3,441.8 M666.3,439.8 L666.3,443.8 M663.3,440.3 L663.3,443.3 M669.3,440.3 L669.3,443.3 M664.8,439.8 L667.8,439.8 M664.8,443.8 L667.8,443.8" stroke="#111" stroke-width="0.9" fill="none"/>
<rect x="664.0999999999999" y="439.6" width="4.4" height="4.4" fill="#111" transform="rotate(45 666.3 441.8)"/>
<path d="M608.8,459.5 L632.4,450.7 L647.1,437.4 L657.4,433 L666.3,428.6 L672,428 L678,427.7" fill="none" stroke="#a24fa6" stroke-width="1" stroke-dasharray="2,1.6"/>
<path d="M605.3,459.5 L612.3,459.5 M608.8,457.5 L608.8,461.5 M605.3,458.0 L605.3,461.0 M612.3,458.0 L612.3,461.0 M607.3,457.5 L610.3,457.5 M607.3,461.5 L610.3,461.5" stroke="#a24fa6" stroke-width="0.9" fill="none"/>
<rect x="606.5999999999999" y="457.3" width="4.4" height="4.4" fill="#a24fa6" transform="rotate(45 608.8 459.5)"/>
<path d="M628.9,450.7 L635.9,450.7 M632.4,448.7 L632.4,452.7 M628.9,449.2 L628.9,452.2 M635.9,449.2 L635.9,452.2 M630.9,448.7 L633.9,448.7 M630.9,452.7 L633.9,452.7" stroke="#a24fa6" stroke-width="0.9" fill="none"/>
<rect x="630.1999999999999" y="448.5" width="4.4" height="4.4" fill="#a24fa6" transform="rotate(45 632.4 450.7)"/>
<path d="M643.6,437.4 L650.6,437.4 M647.1,435.4 L647.1,439.4 M643.6,435.9 L643.6,438.9 M650.6,435.9 L650.6,438.9 M645.6,435.4 L648.6,435.4 M645.6,439.4 L648.6,439.4" stroke="#a24fa6" stroke-width="0.9" fill="none"/>
<rect x="644.9" y="435.2" width="4.4" height="4.4" fill="#a24fa6" transform="rotate(45 647.1 437.4)"/>
<path d="M653.9,433 L660.9,433 M657.4,431 L657.4,435 M653.9,431.5 L653.9,434.5 M660.9,431.5 L660.9,434.5 M655.9,431 L658.9,431 M655.9,435 L658.9,435" stroke="#a24fa6" stroke-width="0.9" fill="none"/>
<rect x="655.1999999999999" y="430.8" width="4.4" height="4.4" fill="#a24fa6" transform="rotate(45 657.4 433)"/>
<path d="M662.8,428.6 L669.8,428.6 M666.3,426.6 L666.3,430.6 M662.8,427.1 L662.8,430.1 M669.8,427.1 L669.8,430.1 M664.8,426.6 L667.8,426.6 M664.8,430.6 L667.8,430.6" stroke="#a24fa6" stroke-width="0.9" fill="none"/>
<rect x="664.0999999999999" y="426.40000000000003" width="4.4" height="4.4" fill="#a24fa6" transform="rotate(45 666.3 428.6)"/>
<path d="M668.5,428 L675.5,428 M672,426 L672,430 M668.5,426.5 L668.5,429.5 M675.5,426.5 L675.5,429.5 M670.5,426 L673.5,426 M670.5,430 L673.5,430" stroke="#a24fa6" stroke-width="0.9" fill="none"/>
<rect x="669.8" y="425.8" width="4.4" height="4.4" fill="#a24fa6" transform="rotate(45 672 428)"/>
<path d="M674.5,427.7 L681.5,427.7 M678,425.7 L678,429.7 M674.5,426.2 L674.5,429.2 M681.5,426.2 L681.5,429.2 M676.5,425.7 L679.5,425.7 M676.5,429.7 L679.5,429.7" stroke="#a24fa6" stroke-width="0.9" fill="none"/>
<rect x="675.8" y="425.5" width="4.4" height="4.4" fill="#a24fa6" transform="rotate(45 678 427.7)"/>
<path d="M638.3,444.8 L650.1,435.9 L672.2,421.2 L680.9,419.7 L686.9,418.3 L694.2,407.9 L695.7,418.3" fill="none" stroke="#1d7ab8" stroke-width="1" stroke-dasharray="2,1.6"/>
<path d="M634.8,444.8 L641.8,444.8 M638.3,442.8 L638.3,446.8 M634.8,443.3 L634.8,446.3 M641.8,443.3 L641.8,446.3 M636.8,442.8 L639.8,442.8 M636.8,446.8 L639.8,446.8" stroke="#1d7ab8" stroke-width="0.9" fill="none"/>
<rect x="636.0999999999999" y="442.6" width="4.4" height="4.4" fill="#1d7ab8" transform="rotate(45 638.3 444.8)"/>
<path d="M646.6,435.9 L653.6,435.9 M650.1,433.9 L650.1,437.9 M646.6,434.4 L646.6,437.4 M653.6,434.4 L653.6,437.4 M648.6,433.9 L651.6,433.9 M648.6,437.9 L651.6,437.9" stroke="#1d7ab8" stroke-width="0.9" fill="none"/>
<rect x="647.9" y="433.7" width="4.4" height="4.4" fill="#1d7ab8" transform="rotate(45 650.1 435.9)"/>
<path d="M668.7,421.2 L675.7,421.2 M672.2,419.2 L672.2,423.2 M668.7,419.7 L668.7,422.7 M675.7,419.7 L675.7,422.7 M670.7,419.2 L673.7,419.2 M670.7,423.2 L673.7,423.2" stroke="#1d7ab8" stroke-width="0.9" fill="none"/>
<rect x="670.0" y="419.0" width="4.4" height="4.4" fill="#1d7ab8" transform="rotate(45 672.2 421.2)"/>
<path d="M677.4,419.7 L684.4,419.7 M680.9,417.7 L680.9,421.7 M677.4,418.2 L677.4,421.2 M684.4,418.2 L684.4,421.2 M679.4,417.7 L682.4,417.7 M679.4,421.7 L682.4,421.7" stroke="#1d7ab8" stroke-width="0.9" fill="none"/>
<rect x="678.6999999999999" y="417.5" width="4.4" height="4.4" fill="#1d7ab8" transform="rotate(45 680.9 419.7)"/>
<path d="M683.4,418.3 L690.4,418.3 M686.9,416.3 L686.9,420.3 M683.4,416.8 L683.4,419.8 M690.4,416.8 L690.4,419.8 M685.4,416.3 L688.4,416.3 M685.4,420.3 L688.4,420.3" stroke="#1d7ab8" stroke-width="0.9" fill="none"/>
<rect x="684.6999999999999" y="416.1" width="4.4" height="4.4" fill="#1d7ab8" transform="rotate(45 686.9 418.3)"/>
<path d="M690.7,407.9 L697.7,407.9 M694.2,405.9 L694.2,409.9 M690.7,406.4 L690.7,409.4 M697.7,406.4 L697.7,409.4 M692.7,405.9 L695.7,405.9 M692.7,409.9 L695.7,409.9" stroke="#1d7ab8" stroke-width="0.9" fill="none"/>
<rect x="692.0" y="405.7" width="4.4" height="4.4" fill="#1d7ab8" transform="rotate(45 694.2 407.9)"/>
<path d="M692.2,418.3 L699.2,418.3 M695.7,416.3 L695.7,420.3 M692.2,416.8 L692.2,419.8 M699.2,416.8 L699.2,419.8 M694.2,416.3 L697.2,416.3 M694.2,420.3 L697.2,420.3" stroke="#1d7ab8" stroke-width="0.9" fill="none"/>
<rect x="693.5" y="416.1" width="4.4" height="4.4" fill="#1d7ab8" transform="rotate(45 695.7 418.3)"/>
<path d="M632.4,452.7 L650.1,427.7 L660.4,427.1 L678,396.2 L692.8,392.6 L707.5,377 L716,376 L725.2,372.6 L739.9,372.6" fill="none" stroke="#e2507a" stroke-width="1" stroke-dasharray="2,1.6"/>
<path d="M627.9,452.7 L636.9,452.7 M632.4,450.2 L632.4,455.2 M627.9,451.2 L627.9,454.2 M636.9,451.2 L636.9,454.2 M630.9,450.2 L633.9,450.2 M630.9,455.2 L633.9,455.2" stroke="#e2507a" stroke-width="0.9" fill="none"/>
<rect x="630.1999999999999" y="450.5" width="4.4" height="4.4" fill="#e2507a" transform="rotate(45 632.4 452.7)"/>
<path d="M645.6,427.7 L654.6,427.7 M650.1,425.2 L650.1,430.2 M645.6,426.2 L645.6,429.2 M654.6,426.2 L654.6,429.2 M648.6,425.2 L651.6,425.2 M648.6,430.2 L651.6,430.2" stroke="#e2507a" stroke-width="0.9" fill="none"/>
<rect x="647.9" y="425.5" width="4.4" height="4.4" fill="#e2507a" transform="rotate(45 650.1 427.7)"/>
<path d="M655.9,427.1 L664.9,427.1 M660.4,424.6 L660.4,429.6 M655.9,425.6 L655.9,428.6 M664.9,425.6 L664.9,428.6 M658.9,424.6 L661.9,424.6 M658.9,429.6 L661.9,429.6" stroke="#e2507a" stroke-width="0.9" fill="none"/>
<rect x="658.1999999999999" y="424.90000000000003" width="4.4" height="4.4" fill="#e2507a" transform="rotate(45 660.4 427.1)"/>
<path d="M673.5,396.2 L682.5,396.2 M678,393.7 L678,398.7 M673.5,394.7 L673.5,397.7 M682.5,394.7 L682.5,397.7 M676.5,393.7 L679.5,393.7 M676.5,398.7 L679.5,398.7" stroke="#e2507a" stroke-width="0.9" fill="none"/>
<rect x="675.8" y="394.0" width="4.4" height="4.4" fill="#e2507a" transform="rotate(45 678 396.2)"/>
<path d="M688.3,392.6 L697.3,392.6 M692.8,390.1 L692.8,395.1 M688.3,391.1 L688.3,394.1 M697.3,391.1 L697.3,394.1 M691.3,390.1 L694.3,390.1 M691.3,395.1 L694.3,395.1" stroke="#e2507a" stroke-width="0.9" fill="none"/>
<rect x="690.5999999999999" y="390.40000000000003" width="4.4" height="4.4" fill="#e2507a" transform="rotate(45 692.8 392.6)"/>
<path d="M703.0,377 L712.0,377 M707.5,374.5 L707.5,379.5 M703.0,375.5 L703.0,378.5 M712.0,375.5 L712.0,378.5 M706.0,374.5 L709.0,374.5 M706.0,379.5 L709.0,379.5" stroke="#e2507a" stroke-width="0.9" fill="none"/>
<rect x="705.3" y="374.8" width="4.4" height="4.4" fill="#e2507a" transform="rotate(45 707.5 377)"/>
<path d="M711.5,376 L720.5,376 M716,373.5 L716,378.5 M711.5,374.5 L711.5,377.5 M720.5,374.5 L720.5,377.5 M714.5,373.5 L717.5,373.5 M714.5,378.5 L717.5,378.5" stroke="#e2507a" stroke-width="0.9" fill="none"/>
<rect x="713.8" y="373.8" width="4.4" height="4.4" fill="#e2507a" transform="rotate(45 716 376)"/>
<path d="M720.7,372.6 L729.7,372.6 M725.2,370.1 L725.2,375.1 M720.7,371.1 L720.7,374.1 M729.7,371.1 L729.7,374.1 M723.7,370.1 L726.7,370.1 M723.7,375.1 L726.7,375.1" stroke="#e2507a" stroke-width="0.9" fill="none"/>
<rect x="723.0" y="370.40000000000003" width="4.4" height="4.4" fill="#e2507a" transform="rotate(45 725.2 372.6)"/>
<path d="M735.4,372.6 L744.4,372.6 M739.9,370.1 L739.9,375.1 M735.4,371.1 L735.4,374.1 M744.4,371.1 L744.4,374.1 M738.4,370.1 L741.4,370.1 M738.4,375.1 L741.4,375.1" stroke="#e2507a" stroke-width="0.9" fill="none"/>
<rect x="737.6999999999999" y="370.40000000000003" width="4.4" height="4.4" fill="#e2507a" transform="rotate(45 739.9 372.6)"/>
<path d="M672.2,376.4 L694.2,376.4 L704.5,377.6 L722.2,354.3 L735.5,375.5 L742.8,380" fill="none" stroke="#f2a900" stroke-width="1" stroke-dasharray="2,1.6"/>
<path d="M662.2,376.4 L682.2,376.4 M672.2,373.9 L672.2,378.9 M662.2,374.9 L662.2,377.9 M682.2,374.9 L682.2,377.9 M670.7,373.9 L673.7,373.9 M670.7,378.9 L673.7,378.9" stroke="#f2a900" stroke-width="0.9" fill="none"/>
<rect x="670.0" y="374.2" width="4.4" height="4.4" fill="#f2a900" transform="rotate(45 672.2 376.4)"/>
<path d="M689.2,376.4 L699.2,376.4 M694.2,373.9 L694.2,378.9 M689.2,374.9 L689.2,377.9 M699.2,374.9 L699.2,377.9 M692.7,373.9 L695.7,373.9 M692.7,378.9 L695.7,378.9" stroke="#f2a900" stroke-width="0.9" fill="none"/>
<rect x="692.0" y="374.2" width="4.4" height="4.4" fill="#f2a900" transform="rotate(45 694.2 376.4)"/>
<path d="M696.5,377.6 L712.5,377.6 M704.5,374.6 L704.5,380.6 M696.5,376.1 L696.5,379.1 M712.5,376.1 L712.5,379.1 M703.0,374.6 L706.0,374.6 M703.0,380.6 L706.0,380.6" stroke="#f2a900" stroke-width="0.9" fill="none"/>
<rect x="702.3" y="375.40000000000003" width="4.4" height="4.4" fill="#f2a900" transform="rotate(45 704.5 377.6)"/>
<path d="M717.2,354.3 L727.2,354.3 M722.2,351.8 L722.2,356.8 M717.2,352.8 L717.2,355.8 M727.2,352.8 L727.2,355.8 M720.7,351.8 L723.7,351.8 M720.7,356.8 L723.7,356.8" stroke="#f2a900" stroke-width="0.9" fill="none"/>
<rect x="720.0" y="352.1" width="4.4" height="4.4" fill="#f2a900" transform="rotate(45 722.2 354.3)"/>
<path d="M730.5,375.5 L740.5,375.5 M735.5,373.0 L735.5,378.0 M730.5,374.0 L730.5,377.0 M740.5,374.0 L740.5,377.0 M734.0,373.0 L737.0,373.0 M734.0,378.0 L737.0,378.0" stroke="#f2a900" stroke-width="0.9" fill="none"/>
<rect x="733.3" y="373.3" width="4.4" height="4.4" fill="#f2a900" transform="rotate(45 735.5 375.5)"/>
<path d="M737.8,380 L747.8,380 M742.8,377.5 L742.8,382.5 M737.8,378.5 L737.8,381.5 M747.8,378.5 L747.8,381.5 M741.3,377.5 L744.3,377.5 M741.3,382.5 L744.3,382.5" stroke="#f2a900" stroke-width="0.9" fill="none"/>
<rect x="740.5999999999999" y="377.8" width="4.4" height="4.4" fill="#f2a900" transform="rotate(45 742.8 380)"/>
<text x="81" y="510.3" font-size="10.2" text-anchor="start" fill="#333" font-weight="normal" >Flow rate ratio <tspan font-style='italic'>V&#x307;</tspan><tspan dy='3.2' font-size='7.8'>air</tspan><tspan dy='-3.2'>/</tspan><tspan font-style='italic'>V&#x307;</tspan><tspan dy='3.2' font-size='7.8'>feed</tspan></text>
<text x="354.8" y="510.3" font-size="10.2" text-anchor="start" fill="#333" font-weight="normal" >Flow rate ratio <tspan font-style='italic'>V&#x307;</tspan><tspan dy='3.2' font-size='7.8'>air</tspan><tspan dy='-3.2'>/</tspan><tspan font-style='italic'>V&#x307;</tspan><tspan dy='3.2' font-size='7.8'>feed</tspan></text>
<text x="616.8" y="510.3" font-size="10.2" text-anchor="start" fill="#333" font-weight="normal" >Flow rate ratio <tspan font-style='italic'>V&#x307;</tspan><tspan dy='3.2' font-size='7.8'>air</tspan><tspan dy='-3.2'>/</tspan><tspan font-style='italic'>V&#x307;</tspan><tspan dy='3.2' font-size='7.8'>feed</tspan></text>
<text x="0" y="536" font-size="16" font-weight="bold" fill="#000">f</text>
<text x="277.5" y="536" font-size="16" font-weight="bold" fill="#000">g</text>
<text x="540" y="535.5" font-size="16" font-weight="bold" fill="#000">h</text>
<text x="22.5" y="535.5" font-size="9" text-anchor="start" fill="#444" font-weight="normal" >30</text></svg>
</body></html>
